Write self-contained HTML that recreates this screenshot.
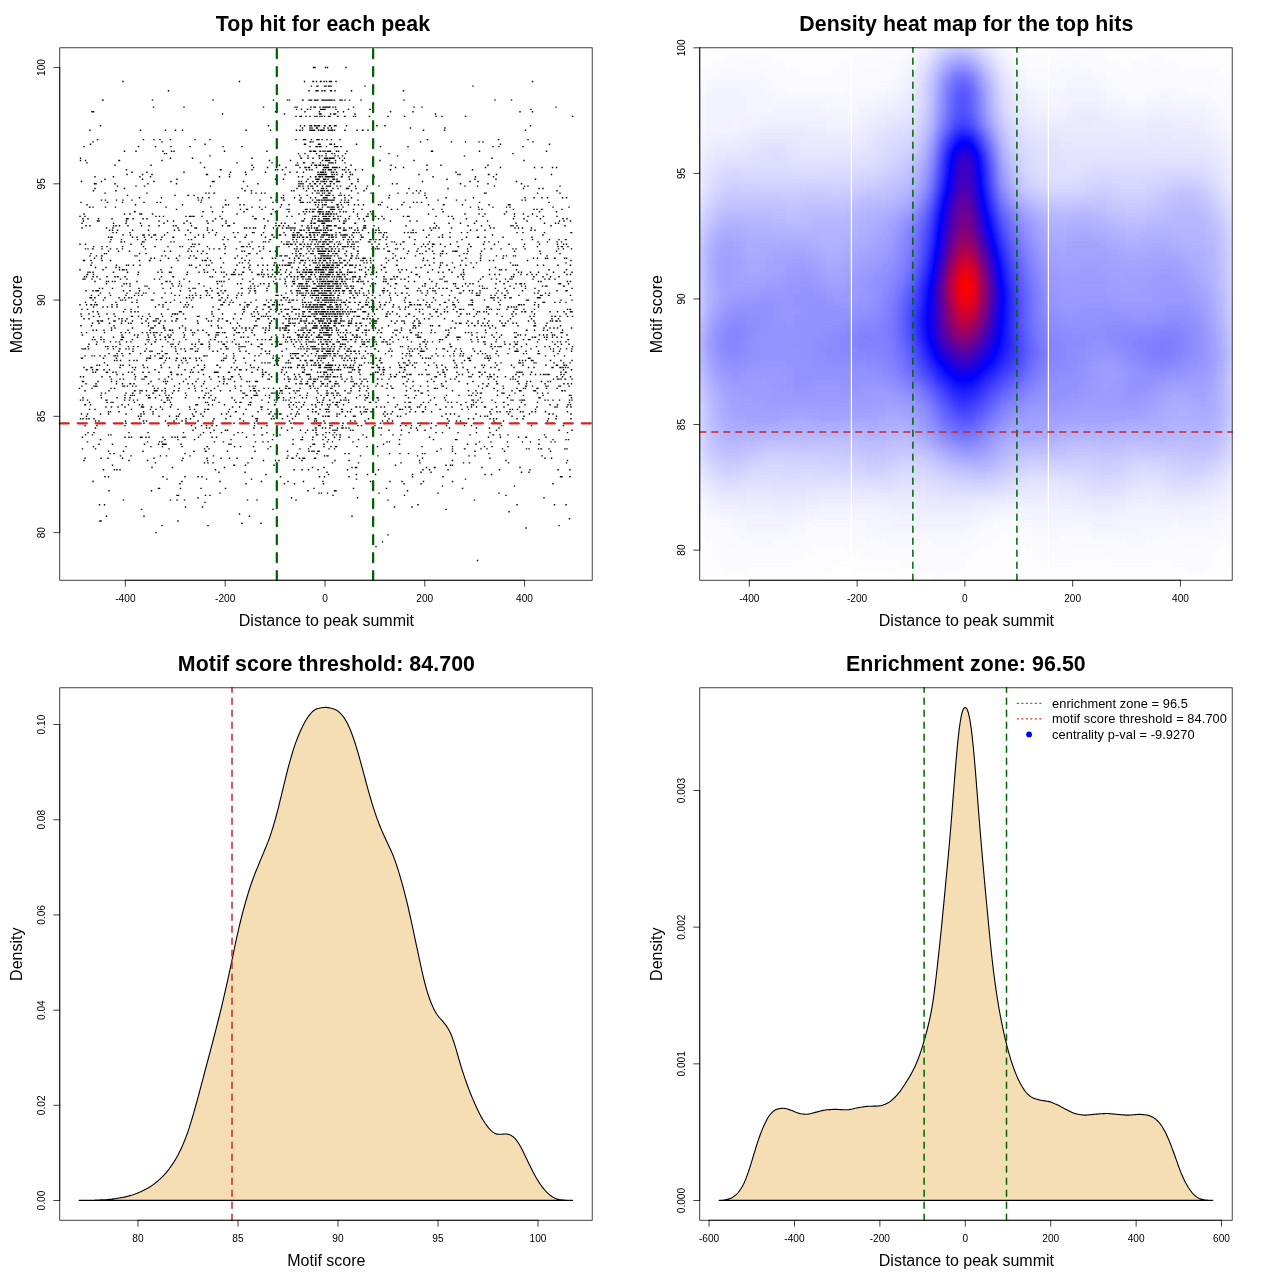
<!DOCTYPE html>
<html lang="en"><head><meta charset="utf-8"><title>Motif enrichment plots</title>
<style>html,body{margin:0;padding:0;background:#fff}body{width:1280px;height:1280px;overflow:hidden}svg{display:block;font-family:'Liberation Sans', sans-serif;fill:#000}</style></head><body>
<svg width="1280" height="1280" viewBox="0 0 1280 1280">
<rect width="1280" height="1280" fill="#fff"/>
<g id="p1">
<path d="M313.5 67.5h.01M315 67.5h.01M325.5 67.5h.01M327.5 67.5h.01M346 67.5h.01M123 81.5h.01M239.5 81.5h.01M304.5 81.5h.01M313 81.5h.01M313.5 81.5h.01M316.5 81.5h.01M320.5 81.5h.01M321 81.5h.01M324 81.5h.01M326.5 81.5h.01M329.5 81.5h.01M330 81.5h.01M331.5 81.5h.01M336 81.5h.01M532.5 81.5h.01M311.5 86.1h.01M317 86.1h.01M318 86.1h.01M324.5 86.1h.01M325 86.1h.01M326 86.1h.01M328.5 86.1h.01M329.5 86.1h.01M331 86.1h.01M365 86.1h.01M473 86.1h.01M168.5 90.8h.01M309 90.8h.01M316 90.8h.01M316.5 90.8h.01M318 90.8h.01M322 90.8h.01M324.5 90.8h.01M325 90.8h.01M330.5 90.8h.01M331.5 90.8h.01M335 90.8h.01M351.5 90.8h.01M403.5 90.8h.01M102.5 100.1h.01M103 100.1h.01M152.5 100.1h.01M213 100.1h.01M273.5 100.1h.01M287.5 100.1h.01M289.5 100.1h.01M302.5 100.1h.01M303 100.1h.01M309 100.1h.01M310 100.1h.01M311.5 100.1h.01M314.5 100.1h.01M315 100.1h.01M315.5 100.1h.01M316 100.1h.01M317.5 100.1h.01M318 100.1h.01M322 100.1h.01M322.5 100.1h.01M323 100.1h.01M323.5 100.1h.01M325 100.1h.01M326.5 100.1h.01M328 100.1h.01M328.5 100.1h.01M330 100.1h.01M331 100.1h.01M331.5 100.1h.01M332 100.1h.01M334 100.1h.01M334.5 100.1h.01M340 100.1h.01M341.5 100.1h.01M342 100.1h.01M345 100.1h.01M349.5 100.1h.01M361 100.1h.01M404 100.1h.01M495 100.1h.01M511.5 100.1h.01M153.5 107.1h.01M184 107.1h.01M263.5 107.1h.01M295 107.1h.01M297 107.1h.01M311 107.1h.01M314 107.1h.01M315 107.1h.01M315.5 107.1h.01M320 107.1h.01M323 107.1h.01M324.5 107.1h.01M325.5 107.1h.01M326.5 107.1h.01M327 107.1h.01M328 107.1h.01M329 107.1h.01M330 107.1h.01M333 107.1h.01M335.5 107.1h.01M353.5 107.1h.01M414 107.1h.01M422 107.1h.01M556 107.1h.01M296.5 109.4h.01M301.5 109.4h.01M307.5 109.4h.01M310.5 109.4h.01M320.5 109.4h.01M322 109.4h.01M323 109.4h.01M323.5 109.4h.01M325 109.4h.01M336 109.4h.01M348.5 109.4h.01M370 109.4h.01M531 109.4h.01M92 111.7h.01M93.5 111.7h.01M275.5 111.7h.01M305 111.7h.01M319.5 111.7h.01M338 111.7h.01M343.5 111.7h.01M390.5 111.7h.01M413 111.7h.01M520 111.7h.01M532.5 111.7h.01M222.5 114h.01M284.5 114h.01M319.5 114h.01M320.5 114h.01M321 114h.01M330.5 114h.01M334 114h.01M335.5 114h.01M355 114h.01M435.5 114h.01M296 116.4h.01M300 116.4h.01M301.5 116.4h.01M306 116.4h.01M310 116.4h.01M315 116.4h.01M317 116.4h.01M320 116.4h.01M322 116.4h.01M324.5 116.4h.01M328.5 116.4h.01M330 116.4h.01M337.5 116.4h.01M338 116.4h.01M344.5 116.4h.01M345 116.4h.01M353.5 116.4h.01M355.5 116.4h.01M369.5 116.4h.01M388 116.4h.01M404.5 116.4h.01M436 116.4h.01M442 116.4h.01M465.5 116.4h.01M572.5 116.4h.01M100.5 125.7h.01M268.5 125.7h.01M300.5 125.7h.01M304.5 125.7h.01M310 125.7h.01M311.5 125.7h.01M314.5 125.7h.01M316 125.7h.01M318 125.7h.01M318.5 125.7h.01M319.5 125.7h.01M324.5 125.7h.01M325 125.7h.01M329.5 125.7h.01M330.5 125.7h.01M334.5 125.7h.01M336 125.7h.01M346.5 125.7h.01M377 125.7h.01M385 125.7h.01M530.5 125.7h.01M302.5 128h.01M310 128h.01M312 128h.01M316.5 128h.01M317.5 128h.01M324 128h.01M328 128h.01M331.5 128h.01M410.5 128h.01M445 128h.01M90 130.3h.01M140.5 130.3h.01M165.5 130.3h.01M175.5 130.3h.01M182.5 130.3h.01M246 130.3h.01M270.5 130.3h.01M296.5 130.3h.01M300 130.3h.01M302.5 130.3h.01M310 130.3h.01M310.5 130.3h.01M311.5 130.3h.01M313 130.3h.01M314.5 130.3h.01M318.5 130.3h.01M320.5 130.3h.01M321.5 130.3h.01M322 130.3h.01M322.5 130.3h.01M323 130.3h.01M324 130.3h.01M328.5 130.3h.01M329 130.3h.01M331 130.3h.01M331.5 130.3h.01M332.5 130.3h.01M334.5 130.3h.01M345 130.3h.01M357 130.3h.01M362.5 130.3h.01M363 130.3h.01M368 130.3h.01M423.5 130.3h.01M444.5 130.3h.01M525.5 130.3h.01M97.5 139.6h.01M143.5 139.6h.01M154 139.6h.01M160 139.6h.01M170.5 139.6h.01M195 139.6h.01M210 139.6h.01M296 139.6h.01M303.5 139.6h.01M304.5 139.6h.01M305.5 139.6h.01M311.5 139.6h.01M317 139.6h.01M317.5 139.6h.01M318.5 139.6h.01M319 139.6h.01M322 139.6h.01M327 139.6h.01M331.5 139.6h.01M340 139.6h.01M427.5 139.6h.01M498.5 139.6h.01M528 139.6h.01M93 141.9h.01M162 141.9h.01M310 141.9h.01M311 141.9h.01M313 141.9h.01M420.5 141.9h.01M451.5 141.9h.01M465.5 141.9h.01M479 141.9h.01M483 141.9h.01M533 141.9h.01M90.5 144.3h.01M205 144.3h.01M304.5 144.3h.01M305.5 144.3h.01M318.5 144.3h.01M319.5 144.3h.01M320 144.3h.01M330 144.3h.01M331.5 144.3h.01M334.5 144.3h.01M356.5 144.3h.01M500.5 144.3h.01M549.5 144.3h.01M84 146.6h.01M138.5 146.6h.01M155.5 146.6h.01M171 146.6h.01M190 146.6h.01M223 146.6h.01M242 146.6h.01M310 146.6h.01M316 146.6h.01M316.5 146.6h.01M317 146.6h.01M317.5 146.6h.01M319.5 146.6h.01M320.5 146.6h.01M321 146.6h.01M326.5 146.6h.01M334.5 146.6h.01M335.5 146.6h.01M337 146.6h.01M337.5 146.6h.01M341 146.6h.01M380.5 146.6h.01M408 146.6h.01M493 146.6h.01M499 146.6h.01M523 146.6h.01M124.5 151.2h.01M136 151.2h.01M163 151.2h.01M171.5 151.2h.01M174 151.2h.01M224.5 151.2h.01M267 151.2h.01M310 151.2h.01M311 151.2h.01M313.5 151.2h.01M314.5 151.2h.01M315.5 151.2h.01M320 151.2h.01M320.5 151.2h.01M323 151.2h.01M325 151.2h.01M327.5 151.2h.01M329 151.2h.01M330.5 151.2h.01M336.5 151.2h.01M338.5 151.2h.01M347 151.2h.01M431.5 151.2h.01M432.5 151.2h.01M479.5 151.2h.01M546.5 151.2h.01M164.5 153.6h.01M166.5 153.6h.01M298.5 153.6h.01M305 153.6h.01M316.5 153.6h.01M326 153.6h.01M332 153.6h.01M334.5 153.6h.01M345.5 153.6h.01M389 153.6h.01M513 153.6h.01M210 155.9h.01M300 155.9h.01M308 155.9h.01M319 155.9h.01M319.5 155.9h.01M322 155.9h.01M326 155.9h.01M335 155.9h.01M338 155.9h.01M342.5 155.9h.01M397.5 155.9h.01M464.5 155.9h.01M80.5 158.2h.01M170.5 158.2h.01M192.5 158.2h.01M252 158.2h.01M301 158.2h.01M301.5 158.2h.01M308 158.2h.01M313 158.2h.01M319.5 158.2h.01M324.5 158.2h.01M325 158.2h.01M326.5 158.2h.01M327 158.2h.01M327.5 158.2h.01M329.5 158.2h.01M330 158.2h.01M331 158.2h.01M332.5 158.2h.01M334 158.2h.01M339.5 158.2h.01M344.5 158.2h.01M492 158.2h.01M80.5 160.5h.01M85.5 160.5h.01M119 160.5h.01M119.5 160.5h.01M162 160.5h.01M269.5 160.5h.01M290.5 160.5h.01M322.5 160.5h.01M325.5 160.5h.01M326.5 160.5h.01M328 160.5h.01M329.5 160.5h.01M335.5 160.5h.01M342.5 160.5h.01M380 160.5h.01M414 160.5h.01M524 160.5h.01M87 162.9h.01M200.5 162.9h.01M237 162.9h.01M272 162.9h.01M297.5 162.9h.01M303.5 162.9h.01M304.5 162.9h.01M312.5 162.9h.01M313.5 162.9h.01M320.5 162.9h.01M329 162.9h.01M329.5 162.9h.01M331 162.9h.01M332 162.9h.01M333 162.9h.01M335.5 162.9h.01M345 162.9h.01M115 165.2h.01M151 165.2h.01M252 165.2h.01M279.5 165.2h.01M296 165.2h.01M298 165.2h.01M311.5 165.2h.01M315 165.2h.01M316.5 165.2h.01M319 165.2h.01M320.5 165.2h.01M323 165.2h.01M323.5 165.2h.01M325.5 165.2h.01M328 165.2h.01M351 165.2h.01M391 165.2h.01M427 165.2h.01M441 165.2h.01M488 165.2h.01M204.5 167.5h.01M253.5 167.5h.01M267.5 167.5h.01M276.5 167.5h.01M286 167.5h.01M300 167.5h.01M305 167.5h.01M306 167.5h.01M308.5 167.5h.01M309.5 167.5h.01M316.5 167.5h.01M324 167.5h.01M325 167.5h.01M326 167.5h.01M327 167.5h.01M327.5 167.5h.01M328.5 167.5h.01M332.5 167.5h.01M333 167.5h.01M334.5 167.5h.01M336 167.5h.01M337 167.5h.01M339.5 167.5h.01M346 167.5h.01M395.5 167.5h.01M403.5 167.5h.01M485.5 167.5h.01M500.5 167.5h.01M534.5 167.5h.01M542 167.5h.01M552.5 167.5h.01M556.5 167.5h.01M126.5 169.8h.01M220.5 169.8h.01M221 169.8h.01M252 169.8h.01M275.5 169.8h.01M277.5 169.8h.01M282.5 169.8h.01M306.5 169.8h.01M309.5 169.8h.01M312 169.8h.01M323 169.8h.01M323.5 169.8h.01M325.5 169.8h.01M328.5 169.8h.01M329 169.8h.01M330.5 169.8h.01M331.5 169.8h.01M335 169.8h.01M342.5 169.8h.01M344.5 169.8h.01M348.5 169.8h.01M355.5 169.8h.01M362.5 169.8h.01M390.5 169.8h.01M427 169.8h.01M472.5 169.8h.01M132 172.2h.01M147 172.2h.01M184 172.2h.01M230.5 172.2h.01M245.5 172.2h.01M265.5 172.2h.01M290 172.2h.01M297 172.2h.01M303.5 172.2h.01M318 172.2h.01M320.5 172.2h.01M322 172.2h.01M323 172.2h.01M323.5 172.2h.01M325.5 172.2h.01M331.5 172.2h.01M333.5 172.2h.01M336.5 172.2h.01M346 172.2h.01M350 172.2h.01M456 172.2h.01M127 174.5h.01M142.5 174.5h.01M152 174.5h.01M206.5 174.5h.01M207.5 174.5h.01M229.5 174.5h.01M246 174.5h.01M285 174.5h.01M318 174.5h.01M318.5 174.5h.01M319.5 174.5h.01M321 174.5h.01M321.5 174.5h.01M322 174.5h.01M322.5 174.5h.01M323 174.5h.01M324.5 174.5h.01M325.5 174.5h.01M326.5 174.5h.01M332 174.5h.01M332.5 174.5h.01M334.5 174.5h.01M337 174.5h.01M342.5 174.5h.01M350.5 174.5h.01M352.5 174.5h.01M419 174.5h.01M458 174.5h.01M460 174.5h.01M488.5 174.5h.01M489 174.5h.01M496.5 174.5h.01M551.5 174.5h.01M95 176.8h.01M113.5 176.8h.01M140 176.8h.01M150.5 176.8h.01M219.5 176.8h.01M229.5 176.8h.01M298.5 176.8h.01M302.5 176.8h.01M310.5 176.8h.01M315.5 176.8h.01M316 176.8h.01M319 176.8h.01M319.5 176.8h.01M320.5 176.8h.01M322.5 176.8h.01M325.5 176.8h.01M327 176.8h.01M327.5 176.8h.01M328 176.8h.01M328.5 176.8h.01M329.5 176.8h.01M330 176.8h.01M331.5 176.8h.01M332.5 176.8h.01M333 176.8h.01M334 176.8h.01M341.5 176.8h.01M342 176.8h.01M349 176.8h.01M374 176.8h.01M433 176.8h.01M475.5 176.8h.01M493.5 176.8h.01M105 179.2h.01M142.5 179.2h.01M177 179.2h.01M275.5 179.2h.01M283.5 179.2h.01M308 179.2h.01M316 179.2h.01M317.5 179.2h.01M318 179.2h.01M319 179.2h.01M323.5 179.2h.01M324.5 179.2h.01M325.5 179.2h.01M328 179.2h.01M333 179.2h.01M334.5 179.2h.01M337 179.2h.01M349.5 179.2h.01M358 179.2h.01M447 179.2h.01M475 179.2h.01M496 179.2h.01M535.5 179.2h.01M81.5 181.5h.01M101.5 181.5h.01M154 181.5h.01M171 181.5h.01M212.5 181.5h.01M214 181.5h.01M243.5 181.5h.01M299 181.5h.01M301.5 181.5h.01M306.5 181.5h.01M313 181.5h.01M317 181.5h.01M318 181.5h.01M321 181.5h.01M323 181.5h.01M324 181.5h.01M324.5 181.5h.01M326.5 181.5h.01M330 181.5h.01M330.5 181.5h.01M332 181.5h.01M336.5 181.5h.01M337 181.5h.01M338 181.5h.01M338.5 181.5h.01M339.5 181.5h.01M358 181.5h.01M422.5 181.5h.01M470 181.5h.01M478 181.5h.01M516.5 181.5h.01M94.5 183.8h.01M96 183.8h.01M115 183.8h.01M148 183.8h.01M176.5 183.8h.01M258 183.8h.01M299 183.8h.01M301 183.8h.01M303 183.8h.01M310 183.8h.01M314.5 183.8h.01M315.5 183.8h.01M320 183.8h.01M324.5 183.8h.01M325 183.8h.01M330.5 183.8h.01M334 183.8h.01M351.5 183.8h.01M352 183.8h.01M392.5 183.8h.01M397 183.8h.01M460.5 183.8h.01M488 183.8h.01M521.5 183.8h.01M117.5 186.1h.01M136 186.1h.01M144.5 186.1h.01M210.5 186.1h.01M247.5 186.1h.01M298.5 186.1h.01M300 186.1h.01M303 186.1h.01M308 186.1h.01M311 186.1h.01M312.5 186.1h.01M317 186.1h.01M317.5 186.1h.01M322.5 186.1h.01M326.5 186.1h.01M328 186.1h.01M328.5 186.1h.01M329 186.1h.01M329.5 186.1h.01M330 186.1h.01M330.5 186.1h.01M337 186.1h.01M340.5 186.1h.01M349.5 186.1h.01M355.5 186.1h.01M367.5 186.1h.01M379 186.1h.01M465 186.1h.01M477.5 186.1h.01M494.5 186.1h.01M524.5 186.1h.01M528 186.1h.01M560 186.1h.01M95 188.5h.01M124.5 188.5h.01M242 188.5h.01M297 188.5h.01M303.5 188.5h.01M308.5 188.5h.01M313 188.5h.01M321.5 188.5h.01M322.5 188.5h.01M323.5 188.5h.01M326.5 188.5h.01M333 188.5h.01M338 188.5h.01M346.5 188.5h.01M347 188.5h.01M348.5 188.5h.01M356 188.5h.01M366.5 188.5h.01M409 188.5h.01M448 188.5h.01M523.5 188.5h.01M539 188.5h.01M543 188.5h.01M93.5 190.8h.01M116 190.8h.01M245 190.8h.01M251.5 190.8h.01M291.5 190.8h.01M294 190.8h.01M306.5 190.8h.01M315 190.8h.01M318 190.8h.01M321 190.8h.01M322.5 190.8h.01M324.5 190.8h.01M327 190.8h.01M328 190.8h.01M331 190.8h.01M331.5 190.8h.01M351.5 190.8h.01M364 190.8h.01M416.5 190.8h.01M420.5 190.8h.01M557 190.8h.01M105 193.1h.01M147 193.1h.01M206 193.1h.01M209 193.1h.01M214 193.1h.01M214.5 193.1h.01M251.5 193.1h.01M256 193.1h.01M261.5 193.1h.01M265 193.1h.01M312.5 193.1h.01M317 193.1h.01M319 193.1h.01M322.5 193.1h.01M324.5 193.1h.01M328.5 193.1h.01M329 193.1h.01M330 193.1h.01M340.5 193.1h.01M358 193.1h.01M371 193.1h.01M398 193.1h.01M407 193.1h.01M413 193.1h.01M419 193.1h.01M425 193.1h.01M484.5 193.1h.01M486 193.1h.01M537.5 193.1h.01M560 193.1h.01M127.5 195.4h.01M175 195.4h.01M188 195.4h.01M188.5 195.4h.01M194 195.4h.01M283.5 195.4h.01M299.5 195.4h.01M307 195.4h.01M321 195.4h.01M322 195.4h.01M326 195.4h.01M327.5 195.4h.01M329 195.4h.01M329.5 195.4h.01M333 195.4h.01M339 195.4h.01M341 195.4h.01M344.5 195.4h.01M349 195.4h.01M389.5 195.4h.01M425 195.4h.01M139.5 197.8h.01M161.5 197.8h.01M198 197.8h.01M202.5 197.8h.01M209 197.8h.01M238 197.8h.01M271 197.8h.01M281.5 197.8h.01M283.5 197.8h.01M294.5 197.8h.01M301 197.8h.01M310.5 197.8h.01M315.5 197.8h.01M323.5 197.8h.01M324.5 197.8h.01M325 197.8h.01M325.5 197.8h.01M327 197.8h.01M334 197.8h.01M334.5 197.8h.01M345 197.8h.01M351.5 197.8h.01M389 197.8h.01M426.5 197.8h.01M446 197.8h.01M473.5 197.8h.01M525 197.8h.01M534 197.8h.01M542 197.8h.01M547.5 197.8h.01M562.5 197.8h.01M566.5 197.8h.01M101.5 200.1h.01M105.5 200.1h.01M116.5 200.1h.01M123 200.1h.01M132 200.1h.01M198.5 200.1h.01M201.5 200.1h.01M225.5 200.1h.01M260 200.1h.01M276 200.1h.01M277 200.1h.01M283.5 200.1h.01M284 200.1h.01M299.5 200.1h.01M300.5 200.1h.01M312.5 200.1h.01M317 200.1h.01M318.5 200.1h.01M319.5 200.1h.01M321.5 200.1h.01M323 200.1h.01M324.5 200.1h.01M325.5 200.1h.01M326.5 200.1h.01M327.5 200.1h.01M328.5 200.1h.01M330 200.1h.01M331 200.1h.01M331.5 200.1h.01M333 200.1h.01M334 200.1h.01M341.5 200.1h.01M345 200.1h.01M348.5 200.1h.01M358 200.1h.01M438 200.1h.01M456.5 200.1h.01M465.5 200.1h.01M522 200.1h.01M525.5 200.1h.01M81 202.4h.01M107.5 202.4h.01M122.5 202.4h.01M144 202.4h.01M157 202.4h.01M160.5 202.4h.01M201 202.4h.01M273 202.4h.01M300.5 202.4h.01M302 202.4h.01M303.5 202.4h.01M307.5 202.4h.01M310 202.4h.01M314.5 202.4h.01M316 202.4h.01M319 202.4h.01M322 202.4h.01M326 202.4h.01M332 202.4h.01M340.5 202.4h.01M344.5 202.4h.01M347 202.4h.01M348.5 202.4h.01M382 202.4h.01M404 202.4h.01M413.5 202.4h.01M417 202.4h.01M421.5 202.4h.01M479.5 202.4h.01M549 202.4h.01M87 204.7h.01M135.5 204.7h.01M182.5 204.7h.01M225.5 204.7h.01M226 204.7h.01M228.5 204.7h.01M240 204.7h.01M244 204.7h.01M281.5 204.7h.01M289 204.7h.01M315.5 204.7h.01M318.5 204.7h.01M322.5 204.7h.01M324.5 204.7h.01M326 204.7h.01M337 204.7h.01M338 204.7h.01M341.5 204.7h.01M348.5 204.7h.01M354.5 204.7h.01M358.5 204.7h.01M363.5 204.7h.01M378.5 204.7h.01M380.5 204.7h.01M402 204.7h.01M428.5 204.7h.01M443.5 204.7h.01M444 204.7h.01M462.5 204.7h.01M489 204.7h.01M508.5 204.7h.01M510 204.7h.01M89.5 207.1h.01M90 207.1h.01M93 207.1h.01M105.5 207.1h.01M115.5 207.1h.01M166 207.1h.01M211 207.1h.01M223 207.1h.01M252 207.1h.01M259.5 207.1h.01M265.5 207.1h.01M280.5 207.1h.01M317.5 207.1h.01M318 207.1h.01M322.5 207.1h.01M327.5 207.1h.01M329 207.1h.01M331 207.1h.01M332 207.1h.01M333 207.1h.01M333.5 207.1h.01M334 207.1h.01M337.5 207.1h.01M338.5 207.1h.01M343 207.1h.01M387.5 207.1h.01M410 207.1h.01M470.5 207.1h.01M478.5 207.1h.01M493 207.1h.01M506.5 207.1h.01M510 207.1h.01M553 207.1h.01M569 207.1h.01M176.5 209.4h.01M240.5 209.4h.01M246.5 209.4h.01M247.5 209.4h.01M262 209.4h.01M273 209.4h.01M287 209.4h.01M289 209.4h.01M305.5 209.4h.01M307 209.4h.01M310.5 209.4h.01M313 209.4h.01M315 209.4h.01M319 209.4h.01M320.5 209.4h.01M322 209.4h.01M330.5 209.4h.01M331 209.4h.01M331.5 209.4h.01M333 209.4h.01M334.5 209.4h.01M339 209.4h.01M341.5 209.4h.01M353.5 209.4h.01M362 209.4h.01M391.5 209.4h.01M397.5 209.4h.01M433 209.4h.01M442 209.4h.01M479 209.4h.01M482 209.4h.01M513.5 209.4h.01M534 209.4h.01M537 209.4h.01M541.5 209.4h.01M542 209.4h.01M562 209.4h.01M134.5 211.7h.01M135 211.7h.01M203 211.7h.01M212.5 211.7h.01M222.5 211.7h.01M244 211.7h.01M275.5 211.7h.01M289 211.7h.01M303.5 211.7h.01M306.5 211.7h.01M309.5 211.7h.01M312.5 211.7h.01M313.5 211.7h.01M318 211.7h.01M319 211.7h.01M320 211.7h.01M321 211.7h.01M323 211.7h.01M326.5 211.7h.01M328.5 211.7h.01M329.5 211.7h.01M332.5 211.7h.01M340 211.7h.01M343.5 211.7h.01M346 211.7h.01M353.5 211.7h.01M370.5 211.7h.01M443 211.7h.01M506.5 211.7h.01M539.5 211.7h.01M556.5 211.7h.01M84 214h.01M124.5 214h.01M130 214h.01M140 214h.01M141.5 214h.01M152.5 214h.01M237 214h.01M271 214h.01M271.5 214h.01M299 214h.01M305 214h.01M319.5 214h.01M320 214h.01M322.5 214h.01M323.5 214h.01M326 214h.01M326.5 214h.01M327 214h.01M328 214h.01M328.5 214h.01M330.5 214h.01M331.5 214h.01M334 214h.01M336.5 214h.01M357.5 214h.01M368 214h.01M372 214h.01M428.5 214h.01M465 214h.01M479 214h.01M485 214h.01M504.5 214h.01M514.5 214h.01M523.5 214h.01M532.5 214h.01M80 216.4h.01M85 216.4h.01M156 216.4h.01M159.5 216.4h.01M163.5 216.4h.01M186 216.4h.01M189.5 216.4h.01M190.5 216.4h.01M191 216.4h.01M193 216.4h.01M194 216.4h.01M202 216.4h.01M220 216.4h.01M253 216.4h.01M277 216.4h.01M287 216.4h.01M292 216.4h.01M313 216.4h.01M315 216.4h.01M315.5 216.4h.01M316 216.4h.01M318.5 216.4h.01M323 216.4h.01M324 216.4h.01M325.5 216.4h.01M326.5 216.4h.01M329 216.4h.01M330 216.4h.01M333.5 216.4h.01M338 216.4h.01M340.5 216.4h.01M349.5 216.4h.01M357.5 216.4h.01M366.5 216.4h.01M368 216.4h.01M373.5 216.4h.01M375.5 216.4h.01M382 216.4h.01M403.5 216.4h.01M407.5 216.4h.01M409 216.4h.01M436 216.4h.01M448.5 216.4h.01M452 216.4h.01M483 216.4h.01M514.5 216.4h.01M528 216.4h.01M537 216.4h.01M543.5 216.4h.01M557 216.4h.01M83 218.7h.01M88 218.7h.01M98.5 218.7h.01M112 218.7h.01M126.5 218.7h.01M127.5 218.7h.01M128 218.7h.01M133 218.7h.01M143 218.7h.01M147 218.7h.01M215.5 218.7h.01M222 218.7h.01M255 218.7h.01M256 218.7h.01M264 218.7h.01M304.5 218.7h.01M312.5 218.7h.01M315 218.7h.01M319 218.7h.01M323.5 218.7h.01M325 218.7h.01M326.5 218.7h.01M328 218.7h.01M329 218.7h.01M333.5 218.7h.01M335 218.7h.01M338 218.7h.01M345.5 218.7h.01M349 218.7h.01M359 218.7h.01M363.5 218.7h.01M373.5 218.7h.01M378.5 218.7h.01M384 218.7h.01M453.5 218.7h.01M466.5 218.7h.01M513.5 218.7h.01M524 218.7h.01M540.5 218.7h.01M563 218.7h.01M567 218.7h.01M83.5 221h.01M97.5 221h.01M99 221h.01M126.5 221h.01M159 221h.01M167.5 221h.01M173.5 221h.01M187 221h.01M207 221h.01M213 221h.01M226 221h.01M268 221h.01M302 221h.01M303.5 221h.01M311.5 221h.01M318 221h.01M319.5 221h.01M321 221h.01M322 221h.01M323 221h.01M325 221h.01M326.5 221h.01M327.5 221h.01M328 221h.01M328.5 221h.01M329.5 221h.01M331.5 221h.01M339.5 221h.01M344 221h.01M346 221h.01M364.5 221h.01M390.5 221h.01M410 221h.01M417 221h.01M476.5 221h.01M487.5 221h.01M527 221h.01M559.5 221h.01M564 221h.01M570.5 221h.01M82 223.3h.01M113.5 223.3h.01M126 223.3h.01M140.5 223.3h.01M164 223.3h.01M184 223.3h.01M190.5 223.3h.01M208 223.3h.01M226 223.3h.01M234 223.3h.01M276 223.3h.01M281.5 223.3h.01M285 223.3h.01M295 223.3h.01M311 223.3h.01M311.5 223.3h.01M314 223.3h.01M315 223.3h.01M322 223.3h.01M322.5 223.3h.01M323.5 223.3h.01M324.5 223.3h.01M343.5 223.3h.01M344.5 223.3h.01M355 223.3h.01M355.5 223.3h.01M434.5 223.3h.01M449 223.3h.01M460.5 223.3h.01M474.5 223.3h.01M516 223.3h.01M544.5 223.3h.01M555.5 223.3h.01M558.5 223.3h.01M86 225.7h.01M90 225.7h.01M113.5 225.7h.01M116 225.7h.01M119.5 225.7h.01M128 225.7h.01M141.5 225.7h.01M149 225.7h.01M159 225.7h.01M173.5 225.7h.01M176 225.7h.01M191.5 225.7h.01M222.5 225.7h.01M228 225.7h.01M229.5 225.7h.01M265 225.7h.01M276 225.7h.01M279 225.7h.01M279.5 225.7h.01M283.5 225.7h.01M288.5 225.7h.01M302 225.7h.01M308 225.7h.01M311.5 225.7h.01M319 225.7h.01M323.5 225.7h.01M327 225.7h.01M328 225.7h.01M328.5 225.7h.01M329.5 225.7h.01M330 225.7h.01M331 225.7h.01M334.5 225.7h.01M335.5 225.7h.01M336 225.7h.01M364 225.7h.01M365.5 225.7h.01M374 225.7h.01M406 225.7h.01M436.5 225.7h.01M468 225.7h.01M481.5 225.7h.01M489.5 225.7h.01M511 225.7h.01M513 225.7h.01M517 225.7h.01M551 225.7h.01M565 225.7h.01M82 228h.01M106.5 228h.01M113 228h.01M178 228h.01M195 228h.01M196.5 228h.01M207.5 228h.01M244.5 228h.01M246.5 228h.01M250 228h.01M253.5 228h.01M255.5 228h.01M264.5 228h.01M273.5 228h.01M277.5 228h.01M282.5 228h.01M286.5 228h.01M287 228h.01M289 228h.01M291 228h.01M293 228h.01M295 228h.01M307 228h.01M309 228h.01M311.5 228h.01M314.5 228h.01M316.5 228h.01M317 228h.01M317.5 228h.01M324 228h.01M326.5 228h.01M327.5 228h.01M338.5 228h.01M339 228h.01M340.5 228h.01M344 228h.01M349.5 228h.01M351.5 228h.01M357.5 228h.01M363.5 228h.01M364.5 228h.01M365.5 228h.01M378.5 228h.01M430 228h.01M433.5 228h.01M435.5 228h.01M439 228h.01M451.5 228h.01M490.5 228h.01M494 228h.01M515 228h.01M518.5 228h.01M522.5 228h.01M531.5 228h.01M109.5 230.3h.01M112.5 230.3h.01M117.5 230.3h.01M132.5 230.3h.01M148.5 230.3h.01M174.5 230.3h.01M179 230.3h.01M188 230.3h.01M207.5 230.3h.01M212.5 230.3h.01M291 230.3h.01M294.5 230.3h.01M300 230.3h.01M301.5 230.3h.01M304 230.3h.01M308.5 230.3h.01M309 230.3h.01M316 230.3h.01M317 230.3h.01M318 230.3h.01M320 230.3h.01M321 230.3h.01M323.5 230.3h.01M325.5 230.3h.01M328 230.3h.01M330.5 230.3h.01M331.5 230.3h.01M343.5 230.3h.01M344.5 230.3h.01M346 230.3h.01M355 230.3h.01M358 230.3h.01M362.5 230.3h.01M376 230.3h.01M379 230.3h.01M413 230.3h.01M423.5 230.3h.01M431.5 230.3h.01M470.5 230.3h.01M477 230.3h.01M485 230.3h.01M531 230.3h.01M535 230.3h.01M113 232.6h.01M116.5 232.6h.01M130 232.6h.01M167.5 232.6h.01M190.5 232.6h.01M209 232.6h.01M216.5 232.6h.01M233.5 232.6h.01M238 232.6h.01M252.5 232.6h.01M254 232.6h.01M263.5 232.6h.01M284 232.6h.01M293.5 232.6h.01M297 232.6h.01M298 232.6h.01M299 232.6h.01M306.5 232.6h.01M309.5 232.6h.01M310 232.6h.01M310.5 232.6h.01M312.5 232.6h.01M313.5 232.6h.01M315 232.6h.01M317 232.6h.01M319 232.6h.01M319.5 232.6h.01M323.5 232.6h.01M325 232.6h.01M325.5 232.6h.01M326.5 232.6h.01M327 232.6h.01M336 232.6h.01M339.5 232.6h.01M340 232.6h.01M353 232.6h.01M354 232.6h.01M356.5 232.6h.01M359 232.6h.01M368.5 232.6h.01M375.5 232.6h.01M379 232.6h.01M381 232.6h.01M384.5 232.6h.01M386.5 232.6h.01M404.5 232.6h.01M408 232.6h.01M411 232.6h.01M413 232.6h.01M413.5 232.6h.01M416 232.6h.01M450 232.6h.01M461.5 232.6h.01M467.5 232.6h.01M517 232.6h.01M523 232.6h.01M544.5 232.6h.01M571 232.6h.01M571.5 232.6h.01M123 235h.01M130.5 235h.01M143 235h.01M144 235h.01M149 235h.01M154 235h.01M155.5 235h.01M164.5 235h.01M185.5 235h.01M198.5 235h.01M203.5 235h.01M215.5 235h.01M246.5 235h.01M261.5 235h.01M272 235h.01M272.5 235h.01M279.5 235h.01M280.5 235h.01M285.5 235h.01M292.5 235h.01M293.5 235h.01M295 235h.01M297.5 235h.01M300.5 235h.01M301.5 235h.01M309.5 235h.01M310.5 235h.01M314 235h.01M314.5 235h.01M317.5 235h.01M322 235h.01M323 235h.01M323.5 235h.01M324.5 235h.01M326.5 235h.01M328 235h.01M329.5 235h.01M331.5 235h.01M332 235h.01M332.5 235h.01M336 235h.01M341 235h.01M343 235h.01M344.5 235h.01M345 235h.01M345.5 235h.01M347 235h.01M352 235h.01M361 235h.01M383.5 235h.01M429 235h.01M442.5 235h.01M492.5 235h.01M543 235h.01M108.5 237.3h.01M111 237.3h.01M112 237.3h.01M132.5 237.3h.01M137 237.3h.01M144.5 237.3h.01M151.5 237.3h.01M162 237.3h.01M173 237.3h.01M173.5 237.3h.01M195 237.3h.01M203.5 237.3h.01M224.5 237.3h.01M235 237.3h.01M245 237.3h.01M245.5 237.3h.01M265.5 237.3h.01M274 237.3h.01M293 237.3h.01M294 237.3h.01M294.5 237.3h.01M297.5 237.3h.01M299.5 237.3h.01M302.5 237.3h.01M303.5 237.3h.01M306.5 237.3h.01M307.5 237.3h.01M310.5 237.3h.01M311 237.3h.01M314.5 237.3h.01M321 237.3h.01M323 237.3h.01M329 237.3h.01M331.5 237.3h.01M332 237.3h.01M333 237.3h.01M336 237.3h.01M343 237.3h.01M345 237.3h.01M349.5 237.3h.01M353.5 237.3h.01M361.5 237.3h.01M363 237.3h.01M383 237.3h.01M387 237.3h.01M409.5 237.3h.01M426.5 237.3h.01M439 237.3h.01M442.5 237.3h.01M450 237.3h.01M466.5 237.3h.01M477.5 237.3h.01M478.5 237.3h.01M485 237.3h.01M503 237.3h.01M532 237.3h.01M111 239.6h.01M121.5 239.6h.01M137.5 239.6h.01M145.5 239.6h.01M156.5 239.6h.01M161 239.6h.01M188.5 239.6h.01M191.5 239.6h.01M223 239.6h.01M228 239.6h.01M270 239.6h.01M270.5 239.6h.01M293 239.6h.01M296.5 239.6h.01M303.5 239.6h.01M310 239.6h.01M312.5 239.6h.01M314 239.6h.01M314.5 239.6h.01M316 239.6h.01M317 239.6h.01M321 239.6h.01M325.5 239.6h.01M326 239.6h.01M326.5 239.6h.01M327.5 239.6h.01M329 239.6h.01M333 239.6h.01M343.5 239.6h.01M348 239.6h.01M348.5 239.6h.01M351.5 239.6h.01M360.5 239.6h.01M370 239.6h.01M371 239.6h.01M373.5 239.6h.01M376 239.6h.01M379.5 239.6h.01M380 239.6h.01M386 239.6h.01M415 239.6h.01M462 239.6h.01M522 239.6h.01M532.5 239.6h.01M549.5 239.6h.01M559 239.6h.01M565.5 239.6h.01M566 239.6h.01M110 241.9h.01M121 241.9h.01M121.5 241.9h.01M124.5 241.9h.01M142.5 241.9h.01M144 241.9h.01M171 241.9h.01M174 241.9h.01M240 241.9h.01M252 241.9h.01M263.5 241.9h.01M265.5 241.9h.01M269 241.9h.01M281.5 241.9h.01M287 241.9h.01M289 241.9h.01M294 241.9h.01M297 241.9h.01M303 241.9h.01M312 241.9h.01M316.5 241.9h.01M319 241.9h.01M320.5 241.9h.01M323 241.9h.01M324 241.9h.01M325 241.9h.01M325.5 241.9h.01M326 241.9h.01M329.5 241.9h.01M330.5 241.9h.01M332 241.9h.01M337 241.9h.01M339.5 241.9h.01M347.5 241.9h.01M349.5 241.9h.01M353 241.9h.01M356 241.9h.01M358 241.9h.01M368.5 241.9h.01M370 241.9h.01M375 241.9h.01M392 241.9h.01M394.5 241.9h.01M403 241.9h.01M403.5 241.9h.01M404 241.9h.01M429.5 241.9h.01M457 241.9h.01M484.5 241.9h.01M489 241.9h.01M498.5 241.9h.01M538 241.9h.01M547.5 241.9h.01M557 241.9h.01M561.5 241.9h.01M80 244.3h.01M85.5 244.3h.01M131 244.3h.01M141.5 244.3h.01M192.5 244.3h.01M195 244.3h.01M199 244.3h.01M224 244.3h.01M249 244.3h.01M284 244.3h.01M286.5 244.3h.01M288 244.3h.01M290.5 244.3h.01M292 244.3h.01M295.5 244.3h.01M300 244.3h.01M301 244.3h.01M304.5 244.3h.01M308 244.3h.01M311 244.3h.01M315 244.3h.01M318 244.3h.01M322.5 244.3h.01M324 244.3h.01M327 244.3h.01M328 244.3h.01M328.5 244.3h.01M334.5 244.3h.01M338.5 244.3h.01M340.5 244.3h.01M348 244.3h.01M352 244.3h.01M354 244.3h.01M372 244.3h.01M379 244.3h.01M386.5 244.3h.01M396.5 244.3h.01M400.5 244.3h.01M414.5 244.3h.01M423.5 244.3h.01M428 244.3h.01M432.5 244.3h.01M433 244.3h.01M434 244.3h.01M440.5 244.3h.01M450.5 244.3h.01M469 244.3h.01M483.5 244.3h.01M494.5 244.3h.01M509 244.3h.01M524.5 244.3h.01M539.5 244.3h.01M557.5 244.3h.01M563.5 244.3h.01M566.5 244.3h.01M93.5 246.6h.01M102 246.6h.01M107 246.6h.01M122.5 246.6h.01M143.5 246.6h.01M155 246.6h.01M168 246.6h.01M180 246.6h.01M182.5 246.6h.01M191 246.6h.01M191.5 246.6h.01M194 246.6h.01M207.5 246.6h.01M225.5 246.6h.01M241.5 246.6h.01M242 246.6h.01M243.5 246.6h.01M247 246.6h.01M250 246.6h.01M259 246.6h.01M263.5 246.6h.01M277 246.6h.01M279 246.6h.01M289 246.6h.01M297 246.6h.01M303.5 246.6h.01M307 246.6h.01M309 246.6h.01M310 246.6h.01M316 246.6h.01M318 246.6h.01M320 246.6h.01M320.5 246.6h.01M321.5 246.6h.01M323 246.6h.01M323.5 246.6h.01M324 246.6h.01M329.5 246.6h.01M331 246.6h.01M334 246.6h.01M337.5 246.6h.01M342.5 246.6h.01M344 246.6h.01M345.5 246.6h.01M347.5 246.6h.01M348 246.6h.01M351 246.6h.01M351.5 246.6h.01M354 246.6h.01M358 246.6h.01M372.5 246.6h.01M377 246.6h.01M387.5 246.6h.01M421.5 246.6h.01M425.5 246.6h.01M432.5 246.6h.01M445 246.6h.01M458 246.6h.01M458.5 246.6h.01M470.5 246.6h.01M471 246.6h.01M523.5 246.6h.01M537.5 246.6h.01M558 246.6h.01M561.5 246.6h.01M562.5 246.6h.01M568 246.6h.01M85.5 248.9h.01M88 248.9h.01M92.5 248.9h.01M93 248.9h.01M102 248.9h.01M110.5 248.9h.01M117 248.9h.01M122.5 248.9h.01M145.5 248.9h.01M189 248.9h.01M209.5 248.9h.01M214 248.9h.01M219 248.9h.01M219.5 248.9h.01M225 248.9h.01M236.5 248.9h.01M253 248.9h.01M263.5 248.9h.01M294.5 248.9h.01M296.5 248.9h.01M297 248.9h.01M300.5 248.9h.01M301 248.9h.01M301.5 248.9h.01M307.5 248.9h.01M311 248.9h.01M314 248.9h.01M317.5 248.9h.01M319 248.9h.01M322 248.9h.01M322.5 248.9h.01M325.5 248.9h.01M326.5 248.9h.01M328 248.9h.01M331.5 248.9h.01M332.5 248.9h.01M335.5 248.9h.01M339 248.9h.01M343 248.9h.01M353.5 248.9h.01M354 248.9h.01M372 248.9h.01M375.5 248.9h.01M377.5 248.9h.01M379 248.9h.01M384 248.9h.01M395.5 248.9h.01M397.5 248.9h.01M403.5 248.9h.01M418 248.9h.01M429 248.9h.01M429.5 248.9h.01M467.5 248.9h.01M484.5 248.9h.01M491 248.9h.01M491.5 248.9h.01M501 248.9h.01M513 248.9h.01M516 248.9h.01M525 248.9h.01M558.5 248.9h.01M563.5 248.9h.01M571.5 248.9h.01M108.5 251.2h.01M118.5 251.2h.01M129.5 251.2h.01M164.5 251.2h.01M170.5 251.2h.01M188 251.2h.01M191.5 251.2h.01M197.5 251.2h.01M203 251.2h.01M242 251.2h.01M244.5 251.2h.01M260 251.2h.01M270 251.2h.01M275.5 251.2h.01M296 251.2h.01M298.5 251.2h.01M309 251.2h.01M313 251.2h.01M318 251.2h.01M319 251.2h.01M319.5 251.2h.01M321 251.2h.01M322.5 251.2h.01M323 251.2h.01M323.5 251.2h.01M325 251.2h.01M325.5 251.2h.01M328.5 251.2h.01M329.5 251.2h.01M331.5 251.2h.01M334.5 251.2h.01M338.5 251.2h.01M339 251.2h.01M346.5 251.2h.01M357.5 251.2h.01M358 251.2h.01M388 251.2h.01M389.5 251.2h.01M408.5 251.2h.01M417 251.2h.01M426 251.2h.01M432.5 251.2h.01M442.5 251.2h.01M443 251.2h.01M453 251.2h.01M455 251.2h.01M456 251.2h.01M457 251.2h.01M468 251.2h.01M481.5 251.2h.01M514.5 251.2h.01M540 251.2h.01M556.5 251.2h.01M91 253.6h.01M104.5 253.6h.01M106.5 253.6h.01M139.5 253.6h.01M146 253.6h.01M201.5 253.6h.01M207 253.6h.01M225 253.6h.01M248.5 253.6h.01M250 253.6h.01M257 253.6h.01M277 253.6h.01M292.5 253.6h.01M296 253.6h.01M299.5 253.6h.01M300 253.6h.01M300.5 253.6h.01M301 253.6h.01M306.5 253.6h.01M311 253.6h.01M311.5 253.6h.01M313 253.6h.01M318.5 253.6h.01M320 253.6h.01M321.5 253.6h.01M322 253.6h.01M323 253.6h.01M324.5 253.6h.01M328 253.6h.01M328.5 253.6h.01M333 253.6h.01M335.5 253.6h.01M336 253.6h.01M337 253.6h.01M345 253.6h.01M351.5 253.6h.01M358 253.6h.01M393 253.6h.01M407.5 253.6h.01M420 253.6h.01M422.5 253.6h.01M434 253.6h.01M440.5 253.6h.01M442.5 253.6h.01M446.5 253.6h.01M464 253.6h.01M467 253.6h.01M480.5 253.6h.01M540.5 253.6h.01M560 253.6h.01M90 255.9h.01M96.5 255.9h.01M101.5 255.9h.01M102 255.9h.01M135 255.9h.01M137 255.9h.01M162 255.9h.01M165.5 255.9h.01M179.5 255.9h.01M190.5 255.9h.01M194 255.9h.01M237.5 255.9h.01M246.5 255.9h.01M280 255.9h.01M281.5 255.9h.01M285 255.9h.01M285.5 255.9h.01M287 255.9h.01M296 255.9h.01M297 255.9h.01M300.5 255.9h.01M303.5 255.9h.01M315 255.9h.01M321 255.9h.01M321.5 255.9h.01M323 255.9h.01M324 255.9h.01M324.5 255.9h.01M325 255.9h.01M325.5 255.9h.01M327 255.9h.01M328.5 255.9h.01M330.5 255.9h.01M331.5 255.9h.01M334.5 255.9h.01M338 255.9h.01M346 255.9h.01M346.5 255.9h.01M351.5 255.9h.01M352.5 255.9h.01M357 255.9h.01M395.5 255.9h.01M415.5 255.9h.01M440.5 255.9h.01M459.5 255.9h.01M481 255.9h.01M496.5 255.9h.01M503.5 255.9h.01M506.5 255.9h.01M513.5 255.9h.01M515.5 255.9h.01M547 255.9h.01M94.5 258.2h.01M101.5 258.2h.01M151 258.2h.01M154.5 258.2h.01M168.5 258.2h.01M176.5 258.2h.01M189 258.2h.01M196 258.2h.01M196.5 258.2h.01M207.5 258.2h.01M220.5 258.2h.01M235 258.2h.01M242 258.2h.01M262 258.2h.01M272.5 258.2h.01M275.5 258.2h.01M289.5 258.2h.01M294.5 258.2h.01M298.5 258.2h.01M299 258.2h.01M308 258.2h.01M315.5 258.2h.01M318.5 258.2h.01M320.5 258.2h.01M321.5 258.2h.01M324 258.2h.01M324.5 258.2h.01M326.5 258.2h.01M327 258.2h.01M327.5 258.2h.01M329 258.2h.01M329.5 258.2h.01M330.5 258.2h.01M339 258.2h.01M341 258.2h.01M351 258.2h.01M351.5 258.2h.01M356 258.2h.01M358.5 258.2h.01M363 258.2h.01M364 258.2h.01M365 258.2h.01M370.5 258.2h.01M386 258.2h.01M393 258.2h.01M401 258.2h.01M404.5 258.2h.01M423.5 258.2h.01M434 258.2h.01M466 258.2h.01M480.5 258.2h.01M503 258.2h.01M533.5 258.2h.01M537.5 258.2h.01M545.5 258.2h.01M547.5 258.2h.01M554.5 258.2h.01M555 258.2h.01M564.5 258.2h.01M566.5 258.2h.01M83.5 260.5h.01M84.5 260.5h.01M91 260.5h.01M102 260.5h.01M110.5 260.5h.01M139.5 260.5h.01M149.5 260.5h.01M150 260.5h.01M160.5 260.5h.01M178 260.5h.01M202.5 260.5h.01M205 260.5h.01M206 260.5h.01M210.5 260.5h.01M245 260.5h.01M249.5 260.5h.01M283 260.5h.01M294.5 260.5h.01M301 260.5h.01M301.5 260.5h.01M302 260.5h.01M302.5 260.5h.01M303 260.5h.01M305.5 260.5h.01M309.5 260.5h.01M312.5 260.5h.01M315.5 260.5h.01M319.5 260.5h.01M320.5 260.5h.01M323.5 260.5h.01M324.5 260.5h.01M325.5 260.5h.01M330 260.5h.01M330.5 260.5h.01M333.5 260.5h.01M339.5 260.5h.01M344 260.5h.01M345 260.5h.01M349.5 260.5h.01M361 260.5h.01M363 260.5h.01M366.5 260.5h.01M370.5 260.5h.01M373.5 260.5h.01M388.5 260.5h.01M397 260.5h.01M423 260.5h.01M427.5 260.5h.01M462 260.5h.01M480.5 260.5h.01M489.5 260.5h.01M493.5 260.5h.01M527.5 260.5h.01M571 260.5h.01M92 262.9h.01M212 262.9h.01M223.5 262.9h.01M239.5 262.9h.01M242.5 262.9h.01M248.5 262.9h.01M274.5 262.9h.01M276 262.9h.01M288.5 262.9h.01M289.5 262.9h.01M290 262.9h.01M291.5 262.9h.01M294 262.9h.01M299.5 262.9h.01M300 262.9h.01M305 262.9h.01M313.5 262.9h.01M315 262.9h.01M316.5 262.9h.01M319 262.9h.01M322 262.9h.01M322.5 262.9h.01M326.5 262.9h.01M327.5 262.9h.01M330 262.9h.01M333 262.9h.01M335 262.9h.01M335.5 262.9h.01M337 262.9h.01M340 262.9h.01M341 262.9h.01M342 262.9h.01M347.5 262.9h.01M364 262.9h.01M367 262.9h.01M371 262.9h.01M386.5 262.9h.01M434 262.9h.01M440.5 262.9h.01M442.5 262.9h.01M452.5 262.9h.01M471 262.9h.01M476.5 262.9h.01M510.5 262.9h.01M566 262.9h.01M91 265.2h.01M116.5 265.2h.01M126.5 265.2h.01M128.5 265.2h.01M133.5 265.2h.01M140 265.2h.01M189.5 265.2h.01M191.5 265.2h.01M200 265.2h.01M206.5 265.2h.01M209 265.2h.01M237 265.2h.01M250 265.2h.01M258 265.2h.01M263 265.2h.01M267.5 265.2h.01M274 265.2h.01M277 265.2h.01M279.5 265.2h.01M282.5 265.2h.01M285 265.2h.01M286 265.2h.01M288 265.2h.01M289.5 265.2h.01M290 265.2h.01M304 265.2h.01M310 265.2h.01M317.5 265.2h.01M320 265.2h.01M323 265.2h.01M323.5 265.2h.01M324.5 265.2h.01M327 265.2h.01M328 265.2h.01M328.5 265.2h.01M329.5 265.2h.01M332 265.2h.01M333 265.2h.01M333.5 265.2h.01M337 265.2h.01M337.5 265.2h.01M339 265.2h.01M345 265.2h.01M346 265.2h.01M349.5 265.2h.01M350.5 265.2h.01M351 265.2h.01M352.5 265.2h.01M356 265.2h.01M360 265.2h.01M381.5 265.2h.01M396.5 265.2h.01M397 265.2h.01M425 265.2h.01M429.5 265.2h.01M440.5 265.2h.01M447 265.2h.01M460.5 265.2h.01M466 265.2h.01M513 265.2h.01M515.5 265.2h.01M517.5 265.2h.01M537.5 265.2h.01M543.5 265.2h.01M558 265.2h.01M570.5 265.2h.01M95.5 267.5h.01M106 267.5h.01M116 267.5h.01M119.5 267.5h.01M171.5 267.5h.01M196 267.5h.01M221 267.5h.01M244 267.5h.01M249 267.5h.01M277.5 267.5h.01M278 267.5h.01M292 267.5h.01M298.5 267.5h.01M306 267.5h.01M315.5 267.5h.01M316 267.5h.01M317.5 267.5h.01M318.5 267.5h.01M319 267.5h.01M322.5 267.5h.01M323.5 267.5h.01M324 267.5h.01M325 267.5h.01M325.5 267.5h.01M326 267.5h.01M326.5 267.5h.01M327 267.5h.01M328.5 267.5h.01M330.5 267.5h.01M331.5 267.5h.01M332.5 267.5h.01M333 267.5h.01M335.5 267.5h.01M337.5 267.5h.01M342.5 267.5h.01M355 267.5h.01M365.5 267.5h.01M370.5 267.5h.01M373.5 267.5h.01M374 267.5h.01M384 267.5h.01M385 267.5h.01M416 267.5h.01M421 267.5h.01M439.5 267.5h.01M454.5 267.5h.01M473.5 267.5h.01M495.5 267.5h.01M80 269.8h.01M103 269.8h.01M119.5 269.8h.01M122.5 269.8h.01M124 269.8h.01M126.5 269.8h.01M161 269.8h.01M204 269.8h.01M213.5 269.8h.01M235.5 269.8h.01M250 269.8h.01M262.5 269.8h.01M267.5 269.8h.01M272.5 269.8h.01M280.5 269.8h.01M286.5 269.8h.01M297 269.8h.01M303.5 269.8h.01M304 269.8h.01M307 269.8h.01M309.5 269.8h.01M311 269.8h.01M315 269.8h.01M315.5 269.8h.01M316.5 269.8h.01M318.5 269.8h.01M320 269.8h.01M320.5 269.8h.01M321 269.8h.01M322.5 269.8h.01M323.5 269.8h.01M326 269.8h.01M329.5 269.8h.01M331 269.8h.01M331.5 269.8h.01M332.5 269.8h.01M333 269.8h.01M340 269.8h.01M348 269.8h.01M359.5 269.8h.01M361.5 269.8h.01M368.5 269.8h.01M381.5 269.8h.01M398.5 269.8h.01M402 269.8h.01M406.5 269.8h.01M432.5 269.8h.01M449 269.8h.01M449.5 269.8h.01M463.5 269.8h.01M489.5 269.8h.01M499.5 269.8h.01M501.5 269.8h.01M506 269.8h.01M516.5 269.8h.01M549 269.8h.01M566.5 269.8h.01M88 272.2h.01M90 272.2h.01M93 272.2h.01M113.5 272.2h.01M127.5 272.2h.01M138.5 272.2h.01M158 272.2h.01M162 272.2h.01M169.5 272.2h.01M171 272.2h.01M187.5 272.2h.01M199 272.2h.01M204.5 272.2h.01M207.5 272.2h.01M215.5 272.2h.01M221.5 272.2h.01M224 272.2h.01M234 272.2h.01M243 272.2h.01M243.5 272.2h.01M252 272.2h.01M262 272.2h.01M275 272.2h.01M276.5 272.2h.01M279 272.2h.01M285.5 272.2h.01M291 272.2h.01M297.5 272.2h.01M299.5 272.2h.01M303 272.2h.01M305 272.2h.01M306.5 272.2h.01M308.5 272.2h.01M309.5 272.2h.01M310 272.2h.01M311.5 272.2h.01M312.5 272.2h.01M316 272.2h.01M318.5 272.2h.01M321 272.2h.01M322 272.2h.01M323 272.2h.01M324 272.2h.01M329 272.2h.01M329.5 272.2h.01M330 272.2h.01M331.5 272.2h.01M333 272.2h.01M336.5 272.2h.01M337 272.2h.01M340 272.2h.01M341.5 272.2h.01M347.5 272.2h.01M349.5 272.2h.01M350.5 272.2h.01M352 272.2h.01M355 272.2h.01M365.5 272.2h.01M372 272.2h.01M376.5 272.2h.01M386 272.2h.01M400 272.2h.01M411.5 272.2h.01M428 272.2h.01M438.5 272.2h.01M443 272.2h.01M452 272.2h.01M463.5 272.2h.01M518.5 272.2h.01M521.5 272.2h.01M530.5 272.2h.01M538.5 272.2h.01M553.5 272.2h.01M564.5 272.2h.01M572 272.2h.01M87 274.5h.01M87.5 274.5h.01M93.5 274.5h.01M138 274.5h.01M187 274.5h.01M226.5 274.5h.01M231.5 274.5h.01M232 274.5h.01M233.5 274.5h.01M235 274.5h.01M239 274.5h.01M241.5 274.5h.01M257.5 274.5h.01M259 274.5h.01M261.5 274.5h.01M264 274.5h.01M268 274.5h.01M272.5 274.5h.01M281 274.5h.01M289.5 274.5h.01M300.5 274.5h.01M302 274.5h.01M306 274.5h.01M311 274.5h.01M311.5 274.5h.01M314.5 274.5h.01M320.5 274.5h.01M321.5 274.5h.01M323.5 274.5h.01M326 274.5h.01M327.5 274.5h.01M328.5 274.5h.01M329 274.5h.01M330 274.5h.01M333 274.5h.01M337.5 274.5h.01M339 274.5h.01M342.5 274.5h.01M344.5 274.5h.01M347.5 274.5h.01M366 274.5h.01M366.5 274.5h.01M371 274.5h.01M416 274.5h.01M417 274.5h.01M461 274.5h.01M461.5 274.5h.01M464 274.5h.01M489.5 274.5h.01M495 274.5h.01M499.5 274.5h.01M514 274.5h.01M521 274.5h.01M527 274.5h.01M532 274.5h.01M536.5 274.5h.01M547 274.5h.01M567 274.5h.01M570.5 274.5h.01M84.5 276.8h.01M86.5 276.8h.01M93 276.8h.01M97 276.8h.01M107 276.8h.01M115 276.8h.01M117.5 276.8h.01M118 276.8h.01M125 276.8h.01M161.5 276.8h.01M173 276.8h.01M173.5 276.8h.01M210 276.8h.01M212.5 276.8h.01M224 276.8h.01M263 276.8h.01M268.5 276.8h.01M271 276.8h.01M275 276.8h.01M287 276.8h.01M291 276.8h.01M291.5 276.8h.01M294.5 276.8h.01M297.5 276.8h.01M298 276.8h.01M301.5 276.8h.01M302.5 276.8h.01M304 276.8h.01M308.5 276.8h.01M310 276.8h.01M315.5 276.8h.01M319.5 276.8h.01M320.5 276.8h.01M322.5 276.8h.01M323 276.8h.01M325 276.8h.01M326 276.8h.01M328 276.8h.01M328.5 276.8h.01M329 276.8h.01M332 276.8h.01M334.5 276.8h.01M337 276.8h.01M339 276.8h.01M339.5 276.8h.01M340.5 276.8h.01M341 276.8h.01M345 276.8h.01M352.5 276.8h.01M353 276.8h.01M354.5 276.8h.01M355.5 276.8h.01M359.5 276.8h.01M360 276.8h.01M365 276.8h.01M376.5 276.8h.01M384 276.8h.01M394 276.8h.01M397 276.8h.01M397.5 276.8h.01M408.5 276.8h.01M419.5 276.8h.01M444 276.8h.01M458 276.8h.01M463 276.8h.01M483 276.8h.01M511.5 276.8h.01M513.5 276.8h.01M534 276.8h.01M543 276.8h.01M550.5 276.8h.01M559 276.8h.01M83 279.1h.01M83.5 279.1h.01M85 279.1h.01M92 279.1h.01M100 279.1h.01M120.5 279.1h.01M127 279.1h.01M154.5 279.1h.01M159.5 279.1h.01M184 279.1h.01M229 279.1h.01M242.5 279.1h.01M253 279.1h.01M276 279.1h.01M280 279.1h.01M285 279.1h.01M294 279.1h.01M297.5 279.1h.01M303 279.1h.01M306 279.1h.01M308 279.1h.01M309.5 279.1h.01M310 279.1h.01M310.5 279.1h.01M311 279.1h.01M317 279.1h.01M319.5 279.1h.01M320 279.1h.01M320.5 279.1h.01M321.5 279.1h.01M324 279.1h.01M327 279.1h.01M333.5 279.1h.01M336.5 279.1h.01M339.5 279.1h.01M341.5 279.1h.01M342.5 279.1h.01M346 279.1h.01M347.5 279.1h.01M350 279.1h.01M353 279.1h.01M359 279.1h.01M360 279.1h.01M372.5 279.1h.01M384 279.1h.01M386 279.1h.01M390.5 279.1h.01M392 279.1h.01M395 279.1h.01M401 279.1h.01M404.5 279.1h.01M405 279.1h.01M429.5 279.1h.01M440 279.1h.01M442 279.1h.01M463.5 279.1h.01M480.5 279.1h.01M491.5 279.1h.01M496.5 279.1h.01M505.5 279.1h.01M510 279.1h.01M512 279.1h.01M533 279.1h.01M545 279.1h.01M549 279.1h.01M549.5 279.1h.01M555 279.1h.01M95 281.5h.01M106.5 281.5h.01M108.5 281.5h.01M112.5 281.5h.01M115 281.5h.01M137 281.5h.01M166 281.5h.01M167 281.5h.01M170 281.5h.01M179.5 281.5h.01M189.5 281.5h.01M217 281.5h.01M219.5 281.5h.01M221.5 281.5h.01M224 281.5h.01M250 281.5h.01M273.5 281.5h.01M285.5 281.5h.01M292.5 281.5h.01M293 281.5h.01M294.5 281.5h.01M306.5 281.5h.01M308.5 281.5h.01M313 281.5h.01M317.5 281.5h.01M320 281.5h.01M322 281.5h.01M322.5 281.5h.01M323 281.5h.01M323.5 281.5h.01M325 281.5h.01M325.5 281.5h.01M327.5 281.5h.01M328 281.5h.01M328.5 281.5h.01M329 281.5h.01M330.5 281.5h.01M331 281.5h.01M332 281.5h.01M333 281.5h.01M335.5 281.5h.01M336 281.5h.01M337.5 281.5h.01M341.5 281.5h.01M342.5 281.5h.01M345 281.5h.01M353 281.5h.01M357 281.5h.01M358.5 281.5h.01M361 281.5h.01M363 281.5h.01M368 281.5h.01M383.5 281.5h.01M385.5 281.5h.01M386 281.5h.01M408.5 281.5h.01M414.5 281.5h.01M432 281.5h.01M445 281.5h.01M447 281.5h.01M478.5 281.5h.01M500 281.5h.01M508 281.5h.01M538.5 281.5h.01M541 281.5h.01M567.5 281.5h.01M570.5 281.5h.01M106.5 283.8h.01M124 283.8h.01M126.5 283.8h.01M130 283.8h.01M162 283.8h.01M172 283.8h.01M179.5 283.8h.01M199 283.8h.01M217.5 283.8h.01M237.5 283.8h.01M241 283.8h.01M253 283.8h.01M260.5 283.8h.01M264 283.8h.01M269 283.8h.01M275 283.8h.01M285 283.8h.01M293.5 283.8h.01M294.5 283.8h.01M299 283.8h.01M300 283.8h.01M301.5 283.8h.01M302.5 283.8h.01M306 283.8h.01M307 283.8h.01M314 283.8h.01M315 283.8h.01M319 283.8h.01M321.5 283.8h.01M322.5 283.8h.01M325 283.8h.01M325.5 283.8h.01M326 283.8h.01M328 283.8h.01M329.5 283.8h.01M333 283.8h.01M335 283.8h.01M336 283.8h.01M337.5 283.8h.01M340 283.8h.01M340.5 283.8h.01M343.5 283.8h.01M346 283.8h.01M364 283.8h.01M372 283.8h.01M373 283.8h.01M375.5 283.8h.01M388 283.8h.01M395.5 283.8h.01M396.5 283.8h.01M425 283.8h.01M425.5 283.8h.01M436.5 283.8h.01M453.5 283.8h.01M455.5 283.8h.01M465.5 283.8h.01M470 283.8h.01M473 283.8h.01M496 283.8h.01M504 283.8h.01M516 283.8h.01M520 283.8h.01M521.5 283.8h.01M524.5 283.8h.01M559 283.8h.01M560.5 283.8h.01M568.5 283.8h.01M122 286.1h.01M130 286.1h.01M145 286.1h.01M147 286.1h.01M173 286.1h.01M178.5 286.1h.01M181.5 286.1h.01M204 286.1h.01M222 286.1h.01M250.5 286.1h.01M254.5 286.1h.01M258 286.1h.01M268.5 286.1h.01M269 286.1h.01M286.5 286.1h.01M292 286.1h.01M297.5 286.1h.01M299.5 286.1h.01M301.5 286.1h.01M302 286.1h.01M304 286.1h.01M306.5 286.1h.01M307.5 286.1h.01M309.5 286.1h.01M317 286.1h.01M317.5 286.1h.01M318.5 286.1h.01M319 286.1h.01M320 286.1h.01M321 286.1h.01M321.5 286.1h.01M323 286.1h.01M323.5 286.1h.01M324 286.1h.01M325 286.1h.01M327.5 286.1h.01M328.5 286.1h.01M329 286.1h.01M330 286.1h.01M330.5 286.1h.01M332 286.1h.01M332.5 286.1h.01M333 286.1h.01M333.5 286.1h.01M336.5 286.1h.01M337.5 286.1h.01M338.5 286.1h.01M341 286.1h.01M345 286.1h.01M347 286.1h.01M350.5 286.1h.01M351 286.1h.01M351.5 286.1h.01M353.5 286.1h.01M370.5 286.1h.01M390.5 286.1h.01M405 286.1h.01M422.5 286.1h.01M425 286.1h.01M436 286.1h.01M455.5 286.1h.01M462.5 286.1h.01M468 286.1h.01M479.5 286.1h.01M482.5 286.1h.01M510 286.1h.01M521.5 286.1h.01M525.5 286.1h.01M542.5 286.1h.01M545.5 286.1h.01M547 286.1h.01M563.5 286.1h.01M564.5 286.1h.01M99.5 288.4h.01M102.5 288.4h.01M112.5 288.4h.01M139 288.4h.01M149 288.4h.01M163 288.4h.01M170.5 288.4h.01M189 288.4h.01M193 288.4h.01M195 288.4h.01M210.5 288.4h.01M217.5 288.4h.01M241.5 288.4h.01M242 288.4h.01M248.5 288.4h.01M251 288.4h.01M254.5 288.4h.01M267 288.4h.01M276.5 288.4h.01M298.5 288.4h.01M301.5 288.4h.01M302 288.4h.01M303.5 288.4h.01M304 288.4h.01M304.5 288.4h.01M305.5 288.4h.01M306 288.4h.01M307 288.4h.01M312.5 288.4h.01M313 288.4h.01M314 288.4h.01M315.5 288.4h.01M316.5 288.4h.01M320 288.4h.01M320.5 288.4h.01M321 288.4h.01M322 288.4h.01M325 288.4h.01M327.5 288.4h.01M328 288.4h.01M329.5 288.4h.01M330.5 288.4h.01M332.5 288.4h.01M336 288.4h.01M337 288.4h.01M338.5 288.4h.01M339 288.4h.01M340.5 288.4h.01M346.5 288.4h.01M348 288.4h.01M352 288.4h.01M353 288.4h.01M361.5 288.4h.01M362 288.4h.01M384 288.4h.01M395 288.4h.01M406.5 288.4h.01M408 288.4h.01M419 288.4h.01M430 288.4h.01M433 288.4h.01M439 288.4h.01M443 288.4h.01M446.5 288.4h.01M447 288.4h.01M457 288.4h.01M458.5 288.4h.01M482.5 288.4h.01M484.5 288.4h.01M487 288.4h.01M495.5 288.4h.01M505 288.4h.01M514 288.4h.01M525.5 288.4h.01M535 288.4h.01M572 288.4h.01M86 290.8h.01M93 290.8h.01M96 290.8h.01M97.5 290.8h.01M98.5 290.8h.01M123.5 290.8h.01M130 290.8h.01M139.5 290.8h.01M180.5 290.8h.01M190 290.8h.01M206 290.8h.01M206.5 290.8h.01M207 290.8h.01M212 290.8h.01M221 290.8h.01M225 290.8h.01M225.5 290.8h.01M250 290.8h.01M254.5 290.8h.01M255.5 290.8h.01M267 290.8h.01M291 290.8h.01M296.5 290.8h.01M298 290.8h.01M300 290.8h.01M306 290.8h.01M307.5 290.8h.01M311.5 290.8h.01M314 290.8h.01M315 290.8h.01M315.5 290.8h.01M316 290.8h.01M316.5 290.8h.01M317.5 290.8h.01M318.5 290.8h.01M322 290.8h.01M324.5 290.8h.01M325 290.8h.01M327 290.8h.01M327.5 290.8h.01M328 290.8h.01M328.5 290.8h.01M329 290.8h.01M330 290.8h.01M330.5 290.8h.01M333.5 290.8h.01M336 290.8h.01M336.5 290.8h.01M338.5 290.8h.01M339 290.8h.01M342.5 290.8h.01M343 290.8h.01M344 290.8h.01M344.5 290.8h.01M349.5 290.8h.01M351 290.8h.01M355 290.8h.01M359.5 290.8h.01M368.5 290.8h.01M382.5 290.8h.01M384 290.8h.01M387.5 290.8h.01M417.5 290.8h.01M420.5 290.8h.01M427.5 290.8h.01M433 290.8h.01M435 290.8h.01M451.5 290.8h.01M463.5 290.8h.01M469.5 290.8h.01M472.5 290.8h.01M480 290.8h.01M498 290.8h.01M507 290.8h.01M522.5 290.8h.01M539 290.8h.01M557 290.8h.01M566 290.8h.01M567 290.8h.01M100.5 293.1h.01M109.5 293.1h.01M127 293.1h.01M136 293.1h.01M138.5 293.1h.01M143.5 293.1h.01M146 293.1h.01M154 293.1h.01M165 293.1h.01M171.5 293.1h.01M195.5 293.1h.01M207.5 293.1h.01M217.5 293.1h.01M218.5 293.1h.01M223 293.1h.01M238.5 293.1h.01M242 293.1h.01M249 293.1h.01M255.5 293.1h.01M286 293.1h.01M292 293.1h.01M297.5 293.1h.01M299.5 293.1h.01M301 293.1h.01M303 293.1h.01M306 293.1h.01M308.5 293.1h.01M311.5 293.1h.01M312.5 293.1h.01M314.5 293.1h.01M318.5 293.1h.01M319.5 293.1h.01M320.5 293.1h.01M321.5 293.1h.01M322.5 293.1h.01M324 293.1h.01M325 293.1h.01M326 293.1h.01M326.5 293.1h.01M330 293.1h.01M330.5 293.1h.01M331.5 293.1h.01M335 293.1h.01M339.5 293.1h.01M343.5 293.1h.01M350 293.1h.01M351.5 293.1h.01M355.5 293.1h.01M357 293.1h.01M359.5 293.1h.01M363.5 293.1h.01M369 293.1h.01M373 293.1h.01M383.5 293.1h.01M390 293.1h.01M395.5 293.1h.01M401.5 293.1h.01M402.5 293.1h.01M407 293.1h.01M422 293.1h.01M427.5 293.1h.01M436 293.1h.01M459.5 293.1h.01M461 293.1h.01M472 293.1h.01M476.5 293.1h.01M477 293.1h.01M480 293.1h.01M496.5 293.1h.01M502 293.1h.01M508 293.1h.01M534.5 293.1h.01M538 293.1h.01M545.5 293.1h.01M549.5 293.1h.01M91.5 295.4h.01M98.5 295.4h.01M110.5 295.4h.01M126 295.4h.01M134.5 295.4h.01M138.5 295.4h.01M142 295.4h.01M175 295.4h.01M179.5 295.4h.01M189.5 295.4h.01M192.5 295.4h.01M196 295.4h.01M200.5 295.4h.01M206.5 295.4h.01M209.5 295.4h.01M219 295.4h.01M219.5 295.4h.01M228 295.4h.01M237 295.4h.01M241.5 295.4h.01M276 295.4h.01M277 295.4h.01M277.5 295.4h.01M278 295.4h.01M281.5 295.4h.01M297 295.4h.01M302 295.4h.01M303.5 295.4h.01M305.5 295.4h.01M310.5 295.4h.01M312.5 295.4h.01M313.5 295.4h.01M314.5 295.4h.01M316 295.4h.01M317.5 295.4h.01M318.5 295.4h.01M321.5 295.4h.01M323 295.4h.01M323.5 295.4h.01M325 295.4h.01M325.5 295.4h.01M326 295.4h.01M326.5 295.4h.01M327 295.4h.01M327.5 295.4h.01M329 295.4h.01M330 295.4h.01M330.5 295.4h.01M331 295.4h.01M333 295.4h.01M333.5 295.4h.01M338 295.4h.01M339 295.4h.01M353 295.4h.01M357.5 295.4h.01M364 295.4h.01M366.5 295.4h.01M372.5 295.4h.01M380 295.4h.01M389.5 295.4h.01M397.5 295.4h.01M409 295.4h.01M426 295.4h.01M442 295.4h.01M449.5 295.4h.01M476.5 295.4h.01M478 295.4h.01M479.5 295.4h.01M491 295.4h.01M495 295.4h.01M504.5 295.4h.01M505.5 295.4h.01M519 295.4h.01M540.5 295.4h.01M542 295.4h.01M548.5 295.4h.01M549 295.4h.01M570.5 295.4h.01M90 297.7h.01M91.5 297.7h.01M95 297.7h.01M105 297.7h.01M119 297.7h.01M124.5 297.7h.01M129 297.7h.01M131.5 297.7h.01M162 297.7h.01M186.5 297.7h.01M189.5 297.7h.01M193 297.7h.01M200.5 297.7h.01M212 297.7h.01M222 297.7h.01M227.5 297.7h.01M236.5 297.7h.01M283.5 297.7h.01M284.5 297.7h.01M287.5 297.7h.01M304.5 297.7h.01M312 297.7h.01M316.5 297.7h.01M318.5 297.7h.01M321 297.7h.01M324.5 297.7h.01M325.5 297.7h.01M327 297.7h.01M327.5 297.7h.01M330 297.7h.01M331 297.7h.01M334 297.7h.01M338 297.7h.01M350 297.7h.01M354 297.7h.01M354.5 297.7h.01M368 297.7h.01M375 297.7h.01M390.5 297.7h.01M405.5 297.7h.01M433.5 297.7h.01M455 297.7h.01M491 297.7h.01M492 297.7h.01M494 297.7h.01M498 297.7h.01M505 297.7h.01M510 297.7h.01M511 297.7h.01M537.5 297.7h.01M538.5 297.7h.01M539 297.7h.01M540 297.7h.01M93 300.1h.01M103.5 300.1h.01M120.5 300.1h.01M122.5 300.1h.01M125.5 300.1h.01M137 300.1h.01M151.5 300.1h.01M153 300.1h.01M174.5 300.1h.01M191.5 300.1h.01M219 300.1h.01M220.5 300.1h.01M225.5 300.1h.01M231.5 300.1h.01M256 300.1h.01M266.5 300.1h.01M271 300.1h.01M275.5 300.1h.01M276.5 300.1h.01M277 300.1h.01M281 300.1h.01M281.5 300.1h.01M286 300.1h.01M289.5 300.1h.01M292 300.1h.01M293.5 300.1h.01M297 300.1h.01M302.5 300.1h.01M315 300.1h.01M315.5 300.1h.01M317.5 300.1h.01M319 300.1h.01M322.5 300.1h.01M323 300.1h.01M324.5 300.1h.01M326 300.1h.01M326.5 300.1h.01M328 300.1h.01M329.5 300.1h.01M330.5 300.1h.01M331.5 300.1h.01M332.5 300.1h.01M333 300.1h.01M334.5 300.1h.01M337 300.1h.01M339 300.1h.01M341 300.1h.01M346.5 300.1h.01M366.5 300.1h.01M371.5 300.1h.01M372.5 300.1h.01M391 300.1h.01M404.5 300.1h.01M418 300.1h.01M423.5 300.1h.01M435.5 300.1h.01M449 300.1h.01M457.5 300.1h.01M471 300.1h.01M472.5 300.1h.01M484.5 300.1h.01M494 300.1h.01M500.5 300.1h.01M526.5 300.1h.01M527 300.1h.01M528.5 300.1h.01M561 300.1h.01M572 300.1h.01M85.5 302.4h.01M95.5 302.4h.01M116 302.4h.01M132 302.4h.01M137 302.4h.01M165.5 302.4h.01M166 302.4h.01M170.5 302.4h.01M180.5 302.4h.01M187 302.4h.01M223.5 302.4h.01M224.5 302.4h.01M230 302.4h.01M233 302.4h.01M245 302.4h.01M251 302.4h.01M268.5 302.4h.01M274.5 302.4h.01M288.5 302.4h.01M290 302.4h.01M302.5 302.4h.01M304.5 302.4h.01M305.5 302.4h.01M308.5 302.4h.01M311 302.4h.01M318 302.4h.01M318.5 302.4h.01M321 302.4h.01M321.5 302.4h.01M325 302.4h.01M326.5 302.4h.01M328.5 302.4h.01M330.5 302.4h.01M332 302.4h.01M334.5 302.4h.01M336.5 302.4h.01M341.5 302.4h.01M343.5 302.4h.01M344 302.4h.01M345 302.4h.01M349 302.4h.01M350 302.4h.01M355 302.4h.01M359.5 302.4h.01M360.5 302.4h.01M366 302.4h.01M368.5 302.4h.01M373 302.4h.01M379.5 302.4h.01M386 302.4h.01M389.5 302.4h.01M405 302.4h.01M409.5 302.4h.01M410.5 302.4h.01M427 302.4h.01M432 302.4h.01M444.5 302.4h.01M445.5 302.4h.01M453 302.4h.01M458.5 302.4h.01M472.5 302.4h.01M498.5 302.4h.01M535 302.4h.01M543 302.4h.01M544.5 302.4h.01M555 302.4h.01M560 302.4h.01M566 302.4h.01M80 304.7h.01M86.5 304.7h.01M91 304.7h.01M91.5 304.7h.01M94.5 304.7h.01M96.5 304.7h.01M97 304.7h.01M112 304.7h.01M117 304.7h.01M159 304.7h.01M163 304.7h.01M185.5 304.7h.01M188.5 304.7h.01M221 304.7h.01M222.5 304.7h.01M229 304.7h.01M240 304.7h.01M247 304.7h.01M248 304.7h.01M249 304.7h.01M264 304.7h.01M265.5 304.7h.01M272.5 304.7h.01M274 304.7h.01M277 304.7h.01M277.5 304.7h.01M279.5 304.7h.01M282.5 304.7h.01M303 304.7h.01M306.5 304.7h.01M309.5 304.7h.01M310.5 304.7h.01M313.5 304.7h.01M315 304.7h.01M317 304.7h.01M317.5 304.7h.01M320 304.7h.01M321 304.7h.01M322 304.7h.01M323 304.7h.01M324 304.7h.01M325 304.7h.01M325.5 304.7h.01M330 304.7h.01M330.5 304.7h.01M331 304.7h.01M336 304.7h.01M336.5 304.7h.01M337.5 304.7h.01M340 304.7h.01M340.5 304.7h.01M345.5 304.7h.01M358.5 304.7h.01M365.5 304.7h.01M366 304.7h.01M367.5 304.7h.01M380.5 304.7h.01M384.5 304.7h.01M385 304.7h.01M393.5 304.7h.01M410 304.7h.01M411.5 304.7h.01M414.5 304.7h.01M417.5 304.7h.01M419.5 304.7h.01M420.5 304.7h.01M426 304.7h.01M429.5 304.7h.01M440 304.7h.01M453 304.7h.01M454.5 304.7h.01M469 304.7h.01M471 304.7h.01M472.5 304.7h.01M500 304.7h.01M518.5 304.7h.01M519.5 304.7h.01M521.5 304.7h.01M524 304.7h.01M534.5 304.7h.01M538.5 304.7h.01M93.5 307h.01M103 307h.01M107.5 307h.01M112 307h.01M117 307h.01M138 307h.01M155.5 307h.01M163 307h.01M184 307h.01M187 307h.01M192.5 307h.01M213 307h.01M244.5 307h.01M247.5 307h.01M257 307h.01M268.5 307h.01M269.5 307h.01M292 307h.01M303 307h.01M305.5 307h.01M306 307h.01M308 307h.01M309.5 307h.01M311.5 307h.01M312 307h.01M313 307h.01M313.5 307h.01M315.5 307h.01M317 307h.01M318 307h.01M320 307h.01M321.5 307h.01M322.5 307h.01M327.5 307h.01M328.5 307h.01M329.5 307h.01M331 307h.01M332.5 307h.01M336.5 307h.01M338 307h.01M340.5 307h.01M348 307h.01M362 307h.01M363 307h.01M369.5 307h.01M371.5 307h.01M374 307h.01M380 307h.01M393 307h.01M399 307h.01M405.5 307h.01M408.5 307h.01M428 307h.01M430 307h.01M447 307h.01M455.5 307h.01M487 307h.01M488.5 307h.01M508 307h.01M508.5 307h.01M511.5 307h.01M514 307h.01M516.5 307h.01M538.5 307h.01M82 309.4h.01M87.5 309.4h.01M125 309.4h.01M131 309.4h.01M168 309.4h.01M218.5 309.4h.01M219 309.4h.01M243 309.4h.01M244.5 309.4h.01M256 309.4h.01M263 309.4h.01M270.5 309.4h.01M271 309.4h.01M275.5 309.4h.01M281 309.4h.01M285 309.4h.01M286 309.4h.01M288 309.4h.01M288.5 309.4h.01M293.5 309.4h.01M294.5 309.4h.01M295 309.4h.01M295.5 309.4h.01M296.5 309.4h.01M299 309.4h.01M299.5 309.4h.01M307.5 309.4h.01M310 309.4h.01M311.5 309.4h.01M313.5 309.4h.01M315.5 309.4h.01M316.5 309.4h.01M317 309.4h.01M319 309.4h.01M322 309.4h.01M323.5 309.4h.01M324.5 309.4h.01M327.5 309.4h.01M328.5 309.4h.01M330.5 309.4h.01M331.5 309.4h.01M332.5 309.4h.01M334.5 309.4h.01M335.5 309.4h.01M336.5 309.4h.01M337 309.4h.01M338 309.4h.01M340.5 309.4h.01M342.5 309.4h.01M346.5 309.4h.01M351 309.4h.01M358 309.4h.01M360.5 309.4h.01M372 309.4h.01M376.5 309.4h.01M377 309.4h.01M382.5 309.4h.01M400 309.4h.01M405 309.4h.01M416 309.4h.01M419.5 309.4h.01M422.5 309.4h.01M434 309.4h.01M437.5 309.4h.01M444.5 309.4h.01M453.5 309.4h.01M459.5 309.4h.01M461 309.4h.01M463.5 309.4h.01M473.5 309.4h.01M486.5 309.4h.01M489.5 309.4h.01M491.5 309.4h.01M497.5 309.4h.01M499.5 309.4h.01M507 309.4h.01M515 309.4h.01M517 309.4h.01M524 309.4h.01M534.5 309.4h.01M567.5 309.4h.01M570 309.4h.01M570.5 309.4h.01M93 311.7h.01M97.5 311.7h.01M123.5 311.7h.01M131 311.7h.01M135 311.7h.01M138 311.7h.01M179.5 311.7h.01M181 311.7h.01M212 311.7h.01M244 311.7h.01M254 311.7h.01M257.5 311.7h.01M269 311.7h.01M276 311.7h.01M281.5 311.7h.01M292 311.7h.01M303 311.7h.01M304.5 311.7h.01M309 311.7h.01M310 311.7h.01M315 311.7h.01M316.5 311.7h.01M318.5 311.7h.01M319 311.7h.01M321 311.7h.01M322 311.7h.01M323 311.7h.01M324 311.7h.01M325 311.7h.01M325.5 311.7h.01M327.5 311.7h.01M328 311.7h.01M330.5 311.7h.01M332.5 311.7h.01M334 311.7h.01M337 311.7h.01M338 311.7h.01M340 311.7h.01M342.5 311.7h.01M343 311.7h.01M345 311.7h.01M348 311.7h.01M350.5 311.7h.01M352.5 311.7h.01M354.5 311.7h.01M355.5 311.7h.01M363 311.7h.01M364 311.7h.01M365.5 311.7h.01M373 311.7h.01M388 311.7h.01M392.5 311.7h.01M419.5 311.7h.01M436 311.7h.01M437 311.7h.01M444.5 311.7h.01M447.5 311.7h.01M457 311.7h.01M477.5 311.7h.01M479.5 311.7h.01M484 311.7h.01M486.5 311.7h.01M513.5 311.7h.01M522 311.7h.01M525 311.7h.01M525.5 311.7h.01M532 311.7h.01M550 311.7h.01M557.5 311.7h.01M564 311.7h.01M570.5 311.7h.01M572 311.7h.01M81 314h.01M89 314h.01M98.5 314h.01M107 314h.01M114 314h.01M149 314h.01M161.5 314h.01M172.5 314h.01M174.5 314h.01M175.5 314h.01M177.5 314h.01M183.5 314h.01M212 314h.01M222.5 314h.01M235 314h.01M242.5 314h.01M251.5 314h.01M258.5 314h.01M266.5 314h.01M279 314h.01M287 314h.01M288 314h.01M296 314h.01M299 314h.01M303 314h.01M312 314h.01M314 314h.01M316 314h.01M317 314h.01M320 314h.01M320.5 314h.01M322 314h.01M323.5 314h.01M326 314h.01M326.5 314h.01M327 314h.01M329 314h.01M330 314h.01M332 314h.01M334 314h.01M335 314h.01M335.5 314h.01M337.5 314h.01M339.5 314h.01M341 314h.01M343 314h.01M346.5 314h.01M349 314h.01M368.5 314h.01M374.5 314h.01M386.5 314h.01M387 314h.01M390 314h.01M397 314h.01M408.5 314h.01M409.5 314h.01M423 314h.01M430 314h.01M441 314h.01M460.5 314h.01M461 314h.01M467 314h.01M469.5 314h.01M476.5 314h.01M488.5 314h.01M497 314h.01M512 314h.01M516 314h.01M534.5 314h.01M566 314h.01M81.5 316.4h.01M93.5 316.4h.01M99.5 316.4h.01M115 316.4h.01M131.5 316.4h.01M132.5 316.4h.01M138.5 316.4h.01M142.5 316.4h.01M150 316.4h.01M162.5 316.4h.01M171.5 316.4h.01M197.5 316.4h.01M199 316.4h.01M213.5 316.4h.01M252.5 316.4h.01M254.5 316.4h.01M261.5 316.4h.01M263.5 316.4h.01M265.5 316.4h.01M268 316.4h.01M270.5 316.4h.01M283.5 316.4h.01M284 316.4h.01M289.5 316.4h.01M299 316.4h.01M302.5 316.4h.01M304 316.4h.01M305.5 316.4h.01M308 316.4h.01M309 316.4h.01M309.5 316.4h.01M310.5 316.4h.01M314 316.4h.01M315 316.4h.01M322.5 316.4h.01M324 316.4h.01M324.5 316.4h.01M325 316.4h.01M326.5 316.4h.01M329 316.4h.01M329.5 316.4h.01M332 316.4h.01M334.5 316.4h.01M335 316.4h.01M336.5 316.4h.01M337 316.4h.01M340 316.4h.01M341.5 316.4h.01M347.5 316.4h.01M354 316.4h.01M357 316.4h.01M358.5 316.4h.01M359.5 316.4h.01M368 316.4h.01M372.5 316.4h.01M386 316.4h.01M386.5 316.4h.01M387 316.4h.01M399.5 316.4h.01M406 316.4h.01M414 316.4h.01M432 316.4h.01M438 316.4h.01M459 316.4h.01M474 316.4h.01M502 316.4h.01M513 316.4h.01M530 316.4h.01M534 316.4h.01M552 316.4h.01M555 316.4h.01M555.5 316.4h.01M560 316.4h.01M567.5 316.4h.01M572.5 316.4h.01M84 318.7h.01M89 318.7h.01M108.5 318.7h.01M119 318.7h.01M122 318.7h.01M127 318.7h.01M141.5 318.7h.01M147.5 318.7h.01M156 318.7h.01M158 318.7h.01M176.5 318.7h.01M177.5 318.7h.01M185.5 318.7h.01M206.5 318.7h.01M219 318.7h.01M222.5 318.7h.01M233.5 318.7h.01M241 318.7h.01M257.5 318.7h.01M258 318.7h.01M259 318.7h.01M268.5 318.7h.01M274 318.7h.01M274.5 318.7h.01M286 318.7h.01M289 318.7h.01M290 318.7h.01M292.5 318.7h.01M295 318.7h.01M297.5 318.7h.01M301 318.7h.01M306.5 318.7h.01M315.5 318.7h.01M317 318.7h.01M318 318.7h.01M320.5 318.7h.01M321.5 318.7h.01M323.5 318.7h.01M324 318.7h.01M327 318.7h.01M329 318.7h.01M330.5 318.7h.01M335.5 318.7h.01M336.5 318.7h.01M337 318.7h.01M341 318.7h.01M352 318.7h.01M363 318.7h.01M364 318.7h.01M367 318.7h.01M370 318.7h.01M378 318.7h.01M417 318.7h.01M424.5 318.7h.01M429 318.7h.01M444.5 318.7h.01M484.5 318.7h.01M510.5 318.7h.01M531.5 318.7h.01M552 318.7h.01M558.5 318.7h.01M97.5 321h.01M98.5 321h.01M101 321h.01M102.5 321h.01M114 321h.01M115 321h.01M122 321h.01M125.5 321h.01M132.5 321h.01M146 321h.01M153.5 321h.01M154 321h.01M156 321h.01M160.5 321h.01M165 321h.01M172 321h.01M176 321h.01M197.5 321h.01M208.5 321h.01M211.5 321h.01M218 321h.01M226.5 321h.01M227.5 321h.01M256 321h.01M271.5 321h.01M276.5 321h.01M289 321h.01M300.5 321h.01M301.5 321h.01M304 321h.01M306 321h.01M306.5 321h.01M313 321h.01M318.5 321h.01M319 321h.01M320 321h.01M320.5 321h.01M322 321h.01M323 321h.01M327.5 321h.01M330.5 321h.01M331.5 321h.01M334 321h.01M334.5 321h.01M335.5 321h.01M336.5 321h.01M340.5 321h.01M342 321h.01M344 321h.01M349 321h.01M351.5 321h.01M372 321h.01M374.5 321h.01M375 321h.01M375.5 321h.01M376.5 321h.01M391.5 321h.01M397 321h.01M402 321h.01M404 321h.01M414.5 321h.01M419 321h.01M452.5 321h.01M468 321h.01M478 321h.01M489 321h.01M500 321h.01M508 321h.01M528.5 321h.01M534 321h.01M550.5 321h.01M552.5 321h.01M556 321h.01M557 321h.01M560 321h.01M92.5 323.3h.01M99 323.3h.01M109.5 323.3h.01M121.5 323.3h.01M128.5 323.3h.01M131 323.3h.01M142 323.3h.01M148.5 323.3h.01M159 323.3h.01M159.5 323.3h.01M198 323.3h.01M230.5 323.3h.01M237.5 323.3h.01M269.5 323.3h.01M270.5 323.3h.01M276.5 323.3h.01M283 323.3h.01M289 323.3h.01M290.5 323.3h.01M293 323.3h.01M295 323.3h.01M299 323.3h.01M305 323.3h.01M309 323.3h.01M309.5 323.3h.01M312 323.3h.01M315 323.3h.01M319.5 323.3h.01M322.5 323.3h.01M324.5 323.3h.01M326 323.3h.01M328.5 323.3h.01M329 323.3h.01M330.5 323.3h.01M334.5 323.3h.01M336 323.3h.01M338.5 323.3h.01M340 323.3h.01M348.5 323.3h.01M350 323.3h.01M351.5 323.3h.01M356 323.3h.01M356.5 323.3h.01M360 323.3h.01M361 323.3h.01M370 323.3h.01M374 323.3h.01M376 323.3h.01M395 323.3h.01M404.5 323.3h.01M413 323.3h.01M419 323.3h.01M420.5 323.3h.01M456 323.3h.01M459.5 323.3h.01M461 323.3h.01M466.5 323.3h.01M472 323.3h.01M478 323.3h.01M483 323.3h.01M487.5 323.3h.01M502 323.3h.01M505.5 323.3h.01M513 323.3h.01M516.5 323.3h.01M535 323.3h.01M547 323.3h.01M81 325.7h.01M91.5 325.7h.01M114 325.7h.01M148.5 325.7h.01M155 325.7h.01M163.5 325.7h.01M182.5 325.7h.01M211.5 325.7h.01M218 325.7h.01M239.5 325.7h.01M254.5 325.7h.01M255 325.7h.01M257 325.7h.01M269.5 325.7h.01M285.5 325.7h.01M286 325.7h.01M287.5 325.7h.01M289 325.7h.01M294.5 325.7h.01M306 325.7h.01M314 325.7h.01M314.5 325.7h.01M316 325.7h.01M317 325.7h.01M321 325.7h.01M324 325.7h.01M325 325.7h.01M325.5 325.7h.01M327.5 325.7h.01M328 325.7h.01M328.5 325.7h.01M334 325.7h.01M335 325.7h.01M341.5 325.7h.01M343.5 325.7h.01M348.5 325.7h.01M349 325.7h.01M356 325.7h.01M361.5 325.7h.01M366 325.7h.01M372 325.7h.01M374 325.7h.01M388.5 325.7h.01M413.5 325.7h.01M415 325.7h.01M419 325.7h.01M430.5 325.7h.01M432.5 325.7h.01M439 325.7h.01M439.5 325.7h.01M468.5 325.7h.01M474.5 325.7h.01M475 325.7h.01M481.5 325.7h.01M485 325.7h.01M488.5 325.7h.01M492.5 325.7h.01M503 325.7h.01M504.5 325.7h.01M518 325.7h.01M534 325.7h.01M535 325.7h.01M535.5 325.7h.01M546 325.7h.01M560.5 325.7h.01M111.5 328h.01M115 328h.01M132.5 328h.01M151 328h.01M152.5 328h.01M153 328h.01M163.5 328h.01M164.5 328h.01M179.5 328h.01M185.5 328h.01M218.5 328h.01M221.5 328h.01M233 328h.01M236.5 328h.01M242 328h.01M245.5 328h.01M246 328h.01M249.5 328h.01M253.5 328h.01M263 328h.01M266 328h.01M269.5 328h.01M276 328h.01M277.5 328h.01M280 328h.01M282.5 328h.01M283 328h.01M285 328h.01M286.5 328h.01M302 328h.01M304 328h.01M306 328h.01M312.5 328h.01M313.5 328h.01M314 328h.01M314.5 328h.01M315 328h.01M316 328h.01M317 328h.01M321.5 328h.01M322.5 328h.01M323 328h.01M325 328h.01M326.5 328h.01M327.5 328h.01M329.5 328h.01M330.5 328h.01M331.5 328h.01M336.5 328h.01M358.5 328h.01M359 328h.01M372.5 328h.01M375.5 328h.01M382 328h.01M401.5 328h.01M413 328h.01M415.5 328h.01M451 328h.01M455 328h.01M490 328h.01M495.5 328h.01M544 328h.01M550 328h.01M554 328h.01M557.5 328h.01M571.5 328h.01M93 330.3h.01M96.5 330.3h.01M104 330.3h.01M111.5 330.3h.01M128 330.3h.01M150 330.3h.01M165 330.3h.01M169.5 330.3h.01M170.5 330.3h.01M172.5 330.3h.01M185.5 330.3h.01M191 330.3h.01M198 330.3h.01M203 330.3h.01M234.5 330.3h.01M235 330.3h.01M246 330.3h.01M252 330.3h.01M265.5 330.3h.01M269 330.3h.01M280 330.3h.01M284.5 330.3h.01M286 330.3h.01M288.5 330.3h.01M289 330.3h.01M298.5 330.3h.01M301 330.3h.01M303 330.3h.01M307 330.3h.01M309.5 330.3h.01M310 330.3h.01M310.5 330.3h.01M320 330.3h.01M322.5 330.3h.01M326.5 330.3h.01M327 330.3h.01M327.5 330.3h.01M328.5 330.3h.01M329 330.3h.01M332 330.3h.01M336.5 330.3h.01M338.5 330.3h.01M346 330.3h.01M346.5 330.3h.01M356.5 330.3h.01M357 330.3h.01M358 330.3h.01M365 330.3h.01M366.5 330.3h.01M369 330.3h.01M373.5 330.3h.01M379 330.3h.01M395 330.3h.01M397 330.3h.01M401.5 330.3h.01M410 330.3h.01M431.5 330.3h.01M446 330.3h.01M448.5 330.3h.01M485.5 330.3h.01M526.5 330.3h.01M527 330.3h.01M534.5 330.3h.01M543.5 330.3h.01M547.5 330.3h.01M562.5 330.3h.01M81.5 332.6h.01M86.5 332.6h.01M104.5 332.6h.01M121 332.6h.01M125.5 332.6h.01M129.5 332.6h.01M142.5 332.6h.01M147 332.6h.01M150.5 332.6h.01M153.5 332.6h.01M154 332.6h.01M156 332.6h.01M157 332.6h.01M161.5 332.6h.01M173 332.6h.01M183.5 332.6h.01M192.5 332.6h.01M194.5 332.6h.01M206.5 332.6h.01M216.5 332.6h.01M217 332.6h.01M217.5 332.6h.01M219 332.6h.01M222.5 332.6h.01M224.5 332.6h.01M225 332.6h.01M236.5 332.6h.01M238.5 332.6h.01M239.5 332.6h.01M243.5 332.6h.01M252 332.6h.01M265 332.6h.01M265.5 332.6h.01M288 332.6h.01M295.5 332.6h.01M303.5 332.6h.01M304.5 332.6h.01M308.5 332.6h.01M309.5 332.6h.01M314 332.6h.01M320 332.6h.01M321.5 332.6h.01M323.5 332.6h.01M324 332.6h.01M325.5 332.6h.01M326.5 332.6h.01M328 332.6h.01M332 332.6h.01M337.5 332.6h.01M340.5 332.6h.01M343.5 332.6h.01M347 332.6h.01M350.5 332.6h.01M362.5 332.6h.01M366 332.6h.01M377.5 332.6h.01M381 332.6h.01M381.5 332.6h.01M393 332.6h.01M400 332.6h.01M410.5 332.6h.01M411.5 332.6h.01M418.5 332.6h.01M421.5 332.6h.01M431 332.6h.01M435 332.6h.01M449 332.6h.01M465.5 332.6h.01M468.5 332.6h.01M471.5 332.6h.01M477 332.6h.01M486 332.6h.01M496.5 332.6h.01M514.5 332.6h.01M516.5 332.6h.01M551.5 332.6h.01M561 332.6h.01M562.5 332.6h.01M82.5 335h.01M122 335h.01M134.5 335h.01M138 335h.01M148 335h.01M154 335h.01M160 335h.01M168 335h.01M171 335h.01M184.5 335h.01M193 335h.01M208.5 335h.01M209 335h.01M216 335h.01M218 335h.01M234 335h.01M254.5 335h.01M276 335h.01M283.5 335h.01M297.5 335h.01M298 335h.01M298.5 335h.01M299.5 335h.01M303 335h.01M307 335h.01M311.5 335h.01M318.5 335h.01M319.5 335h.01M324 335h.01M326 335h.01M326.5 335h.01M327 335h.01M328.5 335h.01M329.5 335h.01M331 335h.01M338.5 335h.01M345.5 335h.01M352.5 335h.01M353 335h.01M356.5 335h.01M357 335h.01M366 335h.01M396 335h.01M416 335h.01M418 335h.01M447.5 335h.01M448.5 335h.01M472 335h.01M492 335h.01M501.5 335h.01M518 335h.01M520.5 335h.01M525.5 335h.01M539.5 335h.01M543.5 335h.01M547 335h.01M552.5 335h.01M554.5 335h.01M567 335h.01M93.5 337.3h.01M101 337.3h.01M113.5 337.3h.01M122 337.3h.01M122.5 337.3h.01M123.5 337.3h.01M137.5 337.3h.01M148.5 337.3h.01M155 337.3h.01M165 337.3h.01M165.5 337.3h.01M169 337.3h.01M170 337.3h.01M184 337.3h.01M215.5 337.3h.01M226.5 337.3h.01M241 337.3h.01M243.5 337.3h.01M248 337.3h.01M271.5 337.3h.01M283.5 337.3h.01M287.5 337.3h.01M289.5 337.3h.01M290 337.3h.01M298.5 337.3h.01M300.5 337.3h.01M301 337.3h.01M302.5 337.3h.01M305.5 337.3h.01M306 337.3h.01M306.5 337.3h.01M309 337.3h.01M316.5 337.3h.01M317.5 337.3h.01M319 337.3h.01M320.5 337.3h.01M322 337.3h.01M329 337.3h.01M329.5 337.3h.01M340.5 337.3h.01M342.5 337.3h.01M343 337.3h.01M346 337.3h.01M354.5 337.3h.01M356.5 337.3h.01M357.5 337.3h.01M360 337.3h.01M374.5 337.3h.01M380.5 337.3h.01M392 337.3h.01M403.5 337.3h.01M407 337.3h.01M417.5 337.3h.01M419 337.3h.01M420.5 337.3h.01M446 337.3h.01M446.5 337.3h.01M457 337.3h.01M458.5 337.3h.01M460 337.3h.01M477 337.3h.01M482 337.3h.01M484.5 337.3h.01M494 337.3h.01M499.5 337.3h.01M515 337.3h.01M516 337.3h.01M532.5 337.3h.01M535 337.3h.01M535.5 337.3h.01M544.5 337.3h.01M547 337.3h.01M552.5 337.3h.01M557 337.3h.01M561.5 337.3h.01M92.5 339.6h.01M95 339.6h.01M101 339.6h.01M104 339.6h.01M121 339.6h.01M122.5 339.6h.01M132.5 339.6h.01M147 339.6h.01M149 339.6h.01M156 339.6h.01M160.5 339.6h.01M165.5 339.6h.01M173.5 339.6h.01M186 339.6h.01M199 339.6h.01M210.5 339.6h.01M214.5 339.6h.01M215 339.6h.01M234.5 339.6h.01M257.5 339.6h.01M262 339.6h.01M265.5 339.6h.01M269.5 339.6h.01M271 339.6h.01M286 339.6h.01M291 339.6h.01M291.5 339.6h.01M294.5 339.6h.01M298.5 339.6h.01M301.5 339.6h.01M306.5 339.6h.01M308 339.6h.01M313 339.6h.01M318.5 339.6h.01M321 339.6h.01M324 339.6h.01M325.5 339.6h.01M327.5 339.6h.01M328.5 339.6h.01M331.5 339.6h.01M337.5 339.6h.01M342.5 339.6h.01M343.5 339.6h.01M344 339.6h.01M345 339.6h.01M345.5 339.6h.01M346 339.6h.01M346.5 339.6h.01M350.5 339.6h.01M351.5 339.6h.01M356 339.6h.01M362 339.6h.01M366.5 339.6h.01M369.5 339.6h.01M372.5 339.6h.01M374.5 339.6h.01M384 339.6h.01M390 339.6h.01M398.5 339.6h.01M407.5 339.6h.01M425 339.6h.01M439.5 339.6h.01M440.5 339.6h.01M442.5 339.6h.01M458 339.6h.01M471 339.6h.01M478 339.6h.01M496.5 339.6h.01M523.5 339.6h.01M528.5 339.6h.01M530 339.6h.01M539 339.6h.01M546.5 339.6h.01M568 339.6h.01M568.5 339.6h.01M97 341.9h.01M104 341.9h.01M110.5 341.9h.01M116 341.9h.01M119.5 341.9h.01M126.5 341.9h.01M131 341.9h.01M148.5 341.9h.01M155 341.9h.01M155.5 341.9h.01M168 341.9h.01M179.5 341.9h.01M199 341.9h.01M209 341.9h.01M218.5 341.9h.01M221.5 341.9h.01M227 341.9h.01M232.5 341.9h.01M246 341.9h.01M248.5 341.9h.01M275.5 341.9h.01M278 341.9h.01M285.5 341.9h.01M287.5 341.9h.01M291.5 341.9h.01M296 341.9h.01M296.5 341.9h.01M300 341.9h.01M306 341.9h.01M309 341.9h.01M310.5 341.9h.01M311 341.9h.01M311.5 341.9h.01M313 341.9h.01M315 341.9h.01M320.5 341.9h.01M321 341.9h.01M325.5 341.9h.01M327 341.9h.01M329.5 341.9h.01M330.5 341.9h.01M337 341.9h.01M338.5 341.9h.01M339.5 341.9h.01M348 341.9h.01M355 341.9h.01M355.5 341.9h.01M362 341.9h.01M364 341.9h.01M364.5 341.9h.01M367.5 341.9h.01M369 341.9h.01M373.5 341.9h.01M374 341.9h.01M376 341.9h.01M382 341.9h.01M383.5 341.9h.01M386 341.9h.01M387 341.9h.01M393 341.9h.01M411.5 341.9h.01M423 341.9h.01M424.5 341.9h.01M427.5 341.9h.01M432.5 341.9h.01M439.5 341.9h.01M472 341.9h.01M478 341.9h.01M483.5 341.9h.01M485 341.9h.01M496 341.9h.01M504.5 341.9h.01M514.5 341.9h.01M517.5 341.9h.01M537.5 341.9h.01M552.5 341.9h.01M557.5 341.9h.01M560.5 341.9h.01M566 341.9h.01M89 344.3h.01M96.5 344.3h.01M120 344.3h.01M145.5 344.3h.01M151.5 344.3h.01M171 344.3h.01M173 344.3h.01M178.5 344.3h.01M192 344.3h.01M195.5 344.3h.01M201 344.3h.01M202 344.3h.01M202.5 344.3h.01M209.5 344.3h.01M223 344.3h.01M224.5 344.3h.01M236 344.3h.01M239 344.3h.01M251.5 344.3h.01M261 344.3h.01M262 344.3h.01M272 344.3h.01M279.5 344.3h.01M280 344.3h.01M281.5 344.3h.01M293.5 344.3h.01M301.5 344.3h.01M306.5 344.3h.01M318.5 344.3h.01M322 344.3h.01M323.5 344.3h.01M326.5 344.3h.01M327 344.3h.01M327.5 344.3h.01M333 344.3h.01M333.5 344.3h.01M334 344.3h.01M340.5 344.3h.01M342.5 344.3h.01M343 344.3h.01M345 344.3h.01M362.5 344.3h.01M364 344.3h.01M364.5 344.3h.01M373 344.3h.01M376.5 344.3h.01M387.5 344.3h.01M390 344.3h.01M420 344.3h.01M426 344.3h.01M450 344.3h.01M485 344.3h.01M491.5 344.3h.01M505 344.3h.01M510 344.3h.01M515.5 344.3h.01M517 344.3h.01M526.5 344.3h.01M555 344.3h.01M561.5 344.3h.01M569 344.3h.01M88 346.6h.01M105.5 346.6h.01M107.5 346.6h.01M108 346.6h.01M113 346.6h.01M116 346.6h.01M128.5 346.6h.01M133.5 346.6h.01M138 346.6h.01M162.5 346.6h.01M171.5 346.6h.01M175.5 346.6h.01M195 346.6h.01M209 346.6h.01M209.5 346.6h.01M225.5 346.6h.01M226.5 346.6h.01M239 346.6h.01M241 346.6h.01M243 346.6h.01M245 346.6h.01M258 346.6h.01M259 346.6h.01M275.5 346.6h.01M294.5 346.6h.01M300.5 346.6h.01M303 346.6h.01M307.5 346.6h.01M311 346.6h.01M312.5 346.6h.01M314 346.6h.01M315.5 346.6h.01M322 346.6h.01M328 346.6h.01M331.5 346.6h.01M334.5 346.6h.01M340 346.6h.01M341.5 346.6h.01M345.5 346.6h.01M351 346.6h.01M351.5 346.6h.01M360.5 346.6h.01M366.5 346.6h.01M367 346.6h.01M371 346.6h.01M400.5 346.6h.01M402.5 346.6h.01M408.5 346.6h.01M420 346.6h.01M425.5 346.6h.01M450.5 346.6h.01M451.5 346.6h.01M491 346.6h.01M491.5 346.6h.01M495 346.6h.01M498 346.6h.01M500 346.6h.01M501 346.6h.01M514 346.6h.01M521.5 346.6h.01M536.5 346.6h.01M545 346.6h.01M549.5 346.6h.01M558 346.6h.01M572.5 346.6h.01M82 348.9h.01M84 348.9h.01M85.5 348.9h.01M88.5 348.9h.01M108 348.9h.01M113.5 348.9h.01M119.5 348.9h.01M120 348.9h.01M126 348.9h.01M129 348.9h.01M133 348.9h.01M146.5 348.9h.01M175.5 348.9h.01M181 348.9h.01M184.5 348.9h.01M190.5 348.9h.01M191 348.9h.01M192.5 348.9h.01M198 348.9h.01M209.5 348.9h.01M221 348.9h.01M226.5 348.9h.01M228 348.9h.01M239 348.9h.01M261.5 348.9h.01M262 348.9h.01M286.5 348.9h.01M298.5 348.9h.01M301 348.9h.01M304 348.9h.01M307 348.9h.01M309 348.9h.01M312.5 348.9h.01M314 348.9h.01M315.5 348.9h.01M317 348.9h.01M319 348.9h.01M322 348.9h.01M323.5 348.9h.01M325 348.9h.01M327.5 348.9h.01M329.5 348.9h.01M330 348.9h.01M330.5 348.9h.01M333.5 348.9h.01M334 348.9h.01M339.5 348.9h.01M344.5 348.9h.01M348 348.9h.01M349.5 348.9h.01M374.5 348.9h.01M375.5 348.9h.01M390.5 348.9h.01M408 348.9h.01M411 348.9h.01M414.5 348.9h.01M417.5 348.9h.01M421.5 348.9h.01M427 348.9h.01M436.5 348.9h.01M443 348.9h.01M444.5 348.9h.01M456 348.9h.01M460.5 348.9h.01M473 348.9h.01M492.5 348.9h.01M509.5 348.9h.01M517 348.9h.01M531 348.9h.01M550.5 348.9h.01M553.5 348.9h.01M560.5 348.9h.01M566.5 348.9h.01M572 348.9h.01M119 351.2h.01M133 351.2h.01M145 351.2h.01M150 351.2h.01M152 351.2h.01M162 351.2h.01M176 351.2h.01M185.5 351.2h.01M195.5 351.2h.01M197.5 351.2h.01M213 351.2h.01M217.5 351.2h.01M240 351.2h.01M246 351.2h.01M265.5 351.2h.01M269.5 351.2h.01M282 351.2h.01M307 351.2h.01M317 351.2h.01M318 351.2h.01M322 351.2h.01M322.5 351.2h.01M326.5 351.2h.01M327.5 351.2h.01M328.5 351.2h.01M329 351.2h.01M330 351.2h.01M332.5 351.2h.01M333 351.2h.01M338 351.2h.01M347 351.2h.01M347.5 351.2h.01M348 351.2h.01M350.5 351.2h.01M351 351.2h.01M354 351.2h.01M355 351.2h.01M359 351.2h.01M365.5 351.2h.01M378.5 351.2h.01M389 351.2h.01M392 351.2h.01M409.5 351.2h.01M412.5 351.2h.01M420.5 351.2h.01M422 351.2h.01M422.5 351.2h.01M424 351.2h.01M447.5 351.2h.01M454.5 351.2h.01M461.5 351.2h.01M474.5 351.2h.01M480.5 351.2h.01M497 351.2h.01M515 351.2h.01M516.5 351.2h.01M518 351.2h.01M526 351.2h.01M538.5 351.2h.01M553.5 351.2h.01M559.5 351.2h.01M571.5 351.2h.01M109 353.6h.01M117 353.6h.01M122 353.6h.01M129.5 353.6h.01M130 353.6h.01M140.5 353.6h.01M157.5 353.6h.01M159.5 353.6h.01M165.5 353.6h.01M167 353.6h.01M177.5 353.6h.01M223.5 353.6h.01M233.5 353.6h.01M249 353.6h.01M261 353.6h.01M267 353.6h.01M269.5 353.6h.01M290.5 353.6h.01M292.5 353.6h.01M294 353.6h.01M295 353.6h.01M295.5 353.6h.01M297 353.6h.01M297.5 353.6h.01M298.5 353.6h.01M305 353.6h.01M311.5 353.6h.01M316.5 353.6h.01M324 353.6h.01M325.5 353.6h.01M327.5 353.6h.01M328 353.6h.01M329.5 353.6h.01M330.5 353.6h.01M334 353.6h.01M335 353.6h.01M337.5 353.6h.01M345.5 353.6h.01M351 353.6h.01M356 353.6h.01M359.5 353.6h.01M368 353.6h.01M371 353.6h.01M372 353.6h.01M385.5 353.6h.01M402.5 353.6h.01M407 353.6h.01M409.5 353.6h.01M418.5 353.6h.01M436 353.6h.01M453.5 353.6h.01M460.5 353.6h.01M463.5 353.6h.01M478 353.6h.01M482.5 353.6h.01M485.5 353.6h.01M496 353.6h.01M508 353.6h.01M523.5 353.6h.01M526.5 353.6h.01M538 353.6h.01M539.5 353.6h.01M558 353.6h.01M85 355.9h.01M92 355.9h.01M94.5 355.9h.01M100 355.9h.01M105 355.9h.01M114 355.9h.01M115.5 355.9h.01M117.5 355.9h.01M123 355.9h.01M150.5 355.9h.01M155 355.9h.01M162.5 355.9h.01M163 355.9h.01M204 355.9h.01M205 355.9h.01M207 355.9h.01M226.5 355.9h.01M234 355.9h.01M255 355.9h.01M259 355.9h.01M273.5 355.9h.01M282.5 355.9h.01M290.5 355.9h.01M295.5 355.9h.01M302 355.9h.01M303 355.9h.01M308 355.9h.01M315.5 355.9h.01M318.5 355.9h.01M320 355.9h.01M322 355.9h.01M323.5 355.9h.01M324 355.9h.01M324.5 355.9h.01M325 355.9h.01M325.5 355.9h.01M327 355.9h.01M330 355.9h.01M334 355.9h.01M335.5 355.9h.01M339.5 355.9h.01M340 355.9h.01M342 355.9h.01M346.5 355.9h.01M347 355.9h.01M349 355.9h.01M363.5 355.9h.01M371 355.9h.01M391.5 355.9h.01M406 355.9h.01M410 355.9h.01M411.5 355.9h.01M420.5 355.9h.01M432 355.9h.01M438 355.9h.01M443.5 355.9h.01M450 355.9h.01M454 355.9h.01M460 355.9h.01M462.5 355.9h.01M463 355.9h.01M471.5 355.9h.01M487 355.9h.01M487.5 355.9h.01M490 355.9h.01M498.5 355.9h.01M545.5 355.9h.01M554.5 355.9h.01M564.5 355.9h.01M81.5 358.2h.01M82.5 358.2h.01M103.5 358.2h.01M116.5 358.2h.01M147 358.2h.01M149 358.2h.01M150 358.2h.01M150.5 358.2h.01M160 358.2h.01M161 358.2h.01M162 358.2h.01M166.5 358.2h.01M169.5 358.2h.01M176.5 358.2h.01M177 358.2h.01M183.5 358.2h.01M185.5 358.2h.01M190 358.2h.01M196 358.2h.01M199.5 358.2h.01M224 358.2h.01M226 358.2h.01M233.5 358.2h.01M244 358.2h.01M273 358.2h.01M279 358.2h.01M291.5 358.2h.01M293 358.2h.01M297 358.2h.01M298.5 358.2h.01M318.5 358.2h.01M319 358.2h.01M321.5 358.2h.01M323.5 358.2h.01M325 358.2h.01M332.5 358.2h.01M342 358.2h.01M345 358.2h.01M350 358.2h.01M354.5 358.2h.01M356.5 358.2h.01M362 358.2h.01M365 358.2h.01M376 358.2h.01M380.5 358.2h.01M402.5 358.2h.01M422.5 358.2h.01M426 358.2h.01M428.5 358.2h.01M430.5 358.2h.01M468 358.2h.01M469 358.2h.01M469.5 358.2h.01M485 358.2h.01M487.5 358.2h.01M488.5 358.2h.01M490.5 358.2h.01M528.5 358.2h.01M530 358.2h.01M114.5 360.5h.01M117 360.5h.01M120.5 360.5h.01M129.5 360.5h.01M134 360.5h.01M137 360.5h.01M146.5 360.5h.01M165.5 360.5h.01M176 360.5h.01M181.5 360.5h.01M186 360.5h.01M196.5 360.5h.01M201.5 360.5h.01M221.5 360.5h.01M223.5 360.5h.01M235.5 360.5h.01M254.5 360.5h.01M275.5 360.5h.01M278.5 360.5h.01M288.5 360.5h.01M300.5 360.5h.01M305 360.5h.01M305.5 360.5h.01M306 360.5h.01M310.5 360.5h.01M311.5 360.5h.01M312.5 360.5h.01M317.5 360.5h.01M321 360.5h.01M333 360.5h.01M344 360.5h.01M347.5 360.5h.01M351.5 360.5h.01M354.5 360.5h.01M379.5 360.5h.01M380 360.5h.01M408.5 360.5h.01M409 360.5h.01M453.5 360.5h.01M454 360.5h.01M464.5 360.5h.01M469.5 360.5h.01M470.5 360.5h.01M489 360.5h.01M519.5 360.5h.01M522.5 360.5h.01M525.5 360.5h.01M531.5 360.5h.01M533 360.5h.01M550.5 360.5h.01M561 360.5h.01M572 360.5h.01M104.5 362.9h.01M164 362.9h.01M182.5 362.9h.01M187.5 362.9h.01M234 362.9h.01M245.5 362.9h.01M262 362.9h.01M265 362.9h.01M268 362.9h.01M270 362.9h.01M286 362.9h.01M286.5 362.9h.01M288.5 362.9h.01M290.5 362.9h.01M307 362.9h.01M314.5 362.9h.01M315.5 362.9h.01M318.5 362.9h.01M323 362.9h.01M328.5 362.9h.01M355 362.9h.01M364.5 362.9h.01M368.5 362.9h.01M371 362.9h.01M381 362.9h.01M382 362.9h.01M398.5 362.9h.01M403.5 362.9h.01M405 362.9h.01M410 362.9h.01M414.5 362.9h.01M416.5 362.9h.01M425 362.9h.01M434 362.9h.01M455 362.9h.01M462 362.9h.01M495.5 362.9h.01M501 362.9h.01M519 362.9h.01M519.5 362.9h.01M520.5 362.9h.01M523 362.9h.01M534 362.9h.01M536 362.9h.01M554 362.9h.01M563.5 362.9h.01M570 362.9h.01M97 365.2h.01M99.5 365.2h.01M107.5 365.2h.01M120.5 365.2h.01M123 365.2h.01M129.5 365.2h.01M143 365.2h.01M161 365.2h.01M179 365.2h.01M198 365.2h.01M204.5 365.2h.01M217 365.2h.01M217.5 365.2h.01M250.5 365.2h.01M274.5 365.2h.01M278 365.2h.01M298 365.2h.01M299.5 365.2h.01M303 365.2h.01M303.5 365.2h.01M307 365.2h.01M311.5 365.2h.01M314 365.2h.01M316 365.2h.01M319 365.2h.01M320 365.2h.01M320.5 365.2h.01M326 365.2h.01M326.5 365.2h.01M327 365.2h.01M328.5 365.2h.01M329.5 365.2h.01M330 365.2h.01M331 365.2h.01M332.5 365.2h.01M335.5 365.2h.01M339.5 365.2h.01M343.5 365.2h.01M346 365.2h.01M350.5 365.2h.01M353.5 365.2h.01M359.5 365.2h.01M361.5 365.2h.01M377 365.2h.01M399.5 365.2h.01M406.5 365.2h.01M408 365.2h.01M412.5 365.2h.01M428.5 365.2h.01M436.5 365.2h.01M442 365.2h.01M456.5 365.2h.01M482 365.2h.01M484.5 365.2h.01M497 365.2h.01M511.5 365.2h.01M523 365.2h.01M546 365.2h.01M556.5 365.2h.01M557.5 365.2h.01M564 365.2h.01M564.5 365.2h.01M566.5 365.2h.01M84 367.5h.01M91 367.5h.01M92 367.5h.01M120 367.5h.01M132.5 367.5h.01M135.5 367.5h.01M144 367.5h.01M147.5 367.5h.01M161.5 367.5h.01M169.5 367.5h.01M178.5 367.5h.01M194 367.5h.01M204.5 367.5h.01M220 367.5h.01M231.5 367.5h.01M237 367.5h.01M251.5 367.5h.01M254 367.5h.01M258.5 367.5h.01M283 367.5h.01M285.5 367.5h.01M288.5 367.5h.01M290.5 367.5h.01M291.5 367.5h.01M297.5 367.5h.01M302 367.5h.01M304 367.5h.01M319 367.5h.01M319.5 367.5h.01M320.5 367.5h.01M324.5 367.5h.01M326 367.5h.01M327 367.5h.01M329 367.5h.01M329.5 367.5h.01M330 367.5h.01M331 367.5h.01M338.5 367.5h.01M344.5 367.5h.01M347.5 367.5h.01M349.5 367.5h.01M351 367.5h.01M353 367.5h.01M358.5 367.5h.01M372 367.5h.01M373.5 367.5h.01M378 367.5h.01M379 367.5h.01M379.5 367.5h.01M383.5 367.5h.01M390 367.5h.01M400 367.5h.01M401.5 367.5h.01M404.5 367.5h.01M415 367.5h.01M437 367.5h.01M445.5 367.5h.01M454.5 367.5h.01M457 367.5h.01M463 367.5h.01M475 367.5h.01M483.5 367.5h.01M491 367.5h.01M495 367.5h.01M514 367.5h.01M528.5 367.5h.01M534 367.5h.01M552 367.5h.01M553 367.5h.01M560 367.5h.01M561 367.5h.01M563 367.5h.01M565.5 367.5h.01M568 367.5h.01M86.5 369.8h.01M87 369.8h.01M92.5 369.8h.01M96.5 369.8h.01M97.5 369.8h.01M104 369.8h.01M109.5 369.8h.01M134.5 369.8h.01M155 369.8h.01M185 369.8h.01M191.5 369.8h.01M201.5 369.8h.01M203 369.8h.01M235 369.8h.01M239.5 369.8h.01M241 369.8h.01M246.5 369.8h.01M257.5 369.8h.01M262.5 369.8h.01M282 369.8h.01M304.5 369.8h.01M311.5 369.8h.01M328 369.8h.01M330 369.8h.01M330.5 369.8h.01M331.5 369.8h.01M332 369.8h.01M334.5 369.8h.01M337 369.8h.01M338.5 369.8h.01M340.5 369.8h.01M352.5 369.8h.01M354.5 369.8h.01M359 369.8h.01M359.5 369.8h.01M360 369.8h.01M379.5 369.8h.01M383 369.8h.01M384.5 369.8h.01M404.5 369.8h.01M405 369.8h.01M426 369.8h.01M443 369.8h.01M447 369.8h.01M467.5 369.8h.01M499 369.8h.01M563.5 369.8h.01M571.5 369.8h.01M93 372.2h.01M95.5 372.2h.01M106.5 372.2h.01M107.5 372.2h.01M113 372.2h.01M116 372.2h.01M128.5 372.2h.01M132 372.2h.01M143 372.2h.01M149 372.2h.01M159 372.2h.01M170.5 372.2h.01M171.5 372.2h.01M190.5 372.2h.01M193 372.2h.01M198.5 372.2h.01M214.5 372.2h.01M215.5 372.2h.01M216.5 372.2h.01M218 372.2h.01M228.5 372.2h.01M229 372.2h.01M229.5 372.2h.01M252 372.2h.01M262.5 372.2h.01M265.5 372.2h.01M266 372.2h.01M281.5 372.2h.01M286.5 372.2h.01M302.5 372.2h.01M304 372.2h.01M317.5 372.2h.01M320.5 372.2h.01M324 372.2h.01M325 372.2h.01M326.5 372.2h.01M332.5 372.2h.01M349 372.2h.01M351 372.2h.01M359 372.2h.01M375.5 372.2h.01M377.5 372.2h.01M378 372.2h.01M383.5 372.2h.01M399.5 372.2h.01M403.5 372.2h.01M438 372.2h.01M443 372.2h.01M444 372.2h.01M457 372.2h.01M468.5 372.2h.01M479 372.2h.01M480 372.2h.01M485 372.2h.01M517 372.2h.01M519 372.2h.01M520 372.2h.01M522 372.2h.01M531.5 372.2h.01M561 372.2h.01M565.5 372.2h.01M566 372.2h.01M117 374.5h.01M123 374.5h.01M134.5 374.5h.01M171.5 374.5h.01M177 374.5h.01M178 374.5h.01M181.5 374.5h.01M203.5 374.5h.01M239 374.5h.01M262.5 374.5h.01M263 374.5h.01M263.5 374.5h.01M269 374.5h.01M277.5 374.5h.01M284.5 374.5h.01M294.5 374.5h.01M299 374.5h.01M306.5 374.5h.01M308 374.5h.01M308.5 374.5h.01M310 374.5h.01M324 374.5h.01M327.5 374.5h.01M330.5 374.5h.01M341 374.5h.01M360 374.5h.01M370.5 374.5h.01M371 374.5h.01M373.5 374.5h.01M381 374.5h.01M383.5 374.5h.01M390.5 374.5h.01M396.5 374.5h.01M407 374.5h.01M409.5 374.5h.01M411 374.5h.01M419 374.5h.01M422 374.5h.01M427 374.5h.01M429 374.5h.01M440 374.5h.01M445 374.5h.01M459 374.5h.01M462.5 374.5h.01M472.5 374.5h.01M482 374.5h.01M490 374.5h.01M494 374.5h.01M516 374.5h.01M523 374.5h.01M530.5 374.5h.01M535.5 374.5h.01M540.5 374.5h.01M543.5 374.5h.01M544 374.5h.01M546 374.5h.01M548 374.5h.01M549 374.5h.01M561 374.5h.01M564 374.5h.01M80.5 376.8h.01M83.5 376.8h.01M102 376.8h.01M110 376.8h.01M135.5 376.8h.01M145 376.8h.01M146.5 376.8h.01M168.5 376.8h.01M189.5 376.8h.01M209.5 376.8h.01M218.5 376.8h.01M223.5 376.8h.01M231.5 376.8h.01M232.5 376.8h.01M240.5 376.8h.01M262.5 376.8h.01M271.5 376.8h.01M288 376.8h.01M295.5 376.8h.01M300 376.8h.01M310.5 376.8h.01M318.5 376.8h.01M321 376.8h.01M323 376.8h.01M326 376.8h.01M327.5 376.8h.01M328 376.8h.01M330 376.8h.01M333.5 376.8h.01M335 376.8h.01M337.5 376.8h.01M341 376.8h.01M351.5 376.8h.01M373.5 376.8h.01M391 376.8h.01M394.5 376.8h.01M395.5 376.8h.01M402.5 376.8h.01M404.5 376.8h.01M405 376.8h.01M435 376.8h.01M436.5 376.8h.01M445 376.8h.01M456.5 376.8h.01M469 376.8h.01M471 376.8h.01M479.5 376.8h.01M487.5 376.8h.01M490 376.8h.01M491.5 376.8h.01M497.5 376.8h.01M505.5 376.8h.01M513 376.8h.01M519 376.8h.01M557 376.8h.01M562.5 376.8h.01M570.5 376.8h.01M111.5 379.1h.01M120 379.1h.01M123.5 379.1h.01M135 379.1h.01M142 379.1h.01M144 379.1h.01M159 379.1h.01M165 379.1h.01M172 379.1h.01M186 379.1h.01M198 379.1h.01M211 379.1h.01M223.5 379.1h.01M224.5 379.1h.01M228.5 379.1h.01M230.5 379.1h.01M241.5 379.1h.01M268 379.1h.01M269.5 379.1h.01M277.5 379.1h.01M284.5 379.1h.01M288.5 379.1h.01M290 379.1h.01M294.5 379.1h.01M296.5 379.1h.01M302 379.1h.01M309 379.1h.01M310.5 379.1h.01M311 379.1h.01M314 379.1h.01M315.5 379.1h.01M317.5 379.1h.01M325 379.1h.01M327 379.1h.01M328 379.1h.01M342 379.1h.01M347 379.1h.01M352 379.1h.01M360 379.1h.01M364 379.1h.01M366 379.1h.01M377.5 379.1h.01M378 379.1h.01M382 379.1h.01M389 379.1h.01M408.5 379.1h.01M431.5 379.1h.01M450.5 379.1h.01M455 379.1h.01M488.5 379.1h.01M494 379.1h.01M510.5 379.1h.01M513 379.1h.01M515.5 379.1h.01M553.5 379.1h.01M557.5 379.1h.01M559 379.1h.01M561 379.1h.01M565 379.1h.01M565.5 379.1h.01M572 379.1h.01M82.5 381.5h.01M83.5 381.5h.01M98 381.5h.01M111.5 381.5h.01M116.5 381.5h.01M151 381.5h.01M163.5 381.5h.01M165.5 381.5h.01M167.5 381.5h.01M183.5 381.5h.01M196 381.5h.01M204.5 381.5h.01M219.5 381.5h.01M224 381.5h.01M234.5 381.5h.01M247 381.5h.01M249.5 381.5h.01M255.5 381.5h.01M256.5 381.5h.01M257.5 381.5h.01M289 381.5h.01M301 381.5h.01M307.5 381.5h.01M313.5 381.5h.01M315 381.5h.01M321 381.5h.01M329.5 381.5h.01M330.5 381.5h.01M336 381.5h.01M345 381.5h.01M351 381.5h.01M353 381.5h.01M362 381.5h.01M367.5 381.5h.01M407 381.5h.01M413 381.5h.01M427.5 381.5h.01M434 381.5h.01M446 381.5h.01M459 381.5h.01M473 381.5h.01M496.5 381.5h.01M517.5 381.5h.01M518 381.5h.01M527 381.5h.01M530.5 381.5h.01M541.5 381.5h.01M548 381.5h.01M550.5 381.5h.01M86 383.8h.01M96 383.8h.01M116.5 383.8h.01M122.5 383.8h.01M130 383.8h.01M130.5 383.8h.01M134 383.8h.01M148.5 383.8h.01M166 383.8h.01M179.5 383.8h.01M188 383.8h.01M192.5 383.8h.01M203.5 383.8h.01M223.5 383.8h.01M227 383.8h.01M296 383.8h.01M300 383.8h.01M302 383.8h.01M306 383.8h.01M306.5 383.8h.01M307.5 383.8h.01M313 383.8h.01M322 383.8h.01M323 383.8h.01M323.5 383.8h.01M327.5 383.8h.01M335 383.8h.01M336 383.8h.01M338 383.8h.01M354.5 383.8h.01M356.5 383.8h.01M361 383.8h.01M377.5 383.8h.01M387.5 383.8h.01M403.5 383.8h.01M441.5 383.8h.01M467.5 383.8h.01M483 383.8h.01M488.5 383.8h.01M497 383.8h.01M497.5 383.8h.01M519 383.8h.01M526.5 383.8h.01M545 383.8h.01M564 383.8h.01M568 383.8h.01M571.5 383.8h.01M82 386.1h.01M94 386.1h.01M95.5 386.1h.01M97 386.1h.01M123 386.1h.01M124.5 386.1h.01M127.5 386.1h.01M132.5 386.1h.01M136 386.1h.01M153 386.1h.01M174.5 386.1h.01M194.5 386.1h.01M201.5 386.1h.01M218 386.1h.01M235 386.1h.01M241 386.1h.01M249.5 386.1h.01M253 386.1h.01M255.5 386.1h.01M286 386.1h.01M287 386.1h.01M309.5 386.1h.01M310.5 386.1h.01M313.5 386.1h.01M321 386.1h.01M325.5 386.1h.01M327.5 386.1h.01M332 386.1h.01M334.5 386.1h.01M339 386.1h.01M353 386.1h.01M354 386.1h.01M359 386.1h.01M364 386.1h.01M367.5 386.1h.01M376 386.1h.01M382 386.1h.01M382.5 386.1h.01M391 386.1h.01M406 386.1h.01M413 386.1h.01M420.5 386.1h.01M428 386.1h.01M442 386.1h.01M443.5 386.1h.01M478.5 386.1h.01M486.5 386.1h.01M487.5 386.1h.01M503 386.1h.01M525.5 386.1h.01M526.5 386.1h.01M532.5 386.1h.01M546 386.1h.01M548 386.1h.01M559 386.1h.01M560.5 386.1h.01M569 386.1h.01M79.5 388.4h.01M92 388.4h.01M111 388.4h.01M114.5 388.4h.01M154.5 388.4h.01M158 388.4h.01M165 388.4h.01M179 388.4h.01M189 388.4h.01M195 388.4h.01M206.5 388.4h.01M214.5 388.4h.01M235.5 388.4h.01M253.5 388.4h.01M254.5 388.4h.01M264 388.4h.01M268.5 388.4h.01M273.5 388.4h.01M279.5 388.4h.01M285.5 388.4h.01M286 388.4h.01M288.5 388.4h.01M290 388.4h.01M300 388.4h.01M310.5 388.4h.01M315 388.4h.01M318 388.4h.01M330.5 388.4h.01M332 388.4h.01M351 388.4h.01M360 388.4h.01M368 388.4h.01M387 388.4h.01M392 388.4h.01M393 388.4h.01M410.5 388.4h.01M434.5 388.4h.01M435.5 388.4h.01M437.5 388.4h.01M446.5 388.4h.01M482.5 388.4h.01M494 388.4h.01M503.5 388.4h.01M517 388.4h.01M523.5 388.4h.01M525.5 388.4h.01M537 388.4h.01M538 388.4h.01M546.5 388.4h.01M557 388.4h.01M85 390.8h.01M109 390.8h.01M134.5 390.8h.01M135 390.8h.01M140 390.8h.01M142 390.8h.01M146.5 390.8h.01M154.5 390.8h.01M155.5 390.8h.01M157 390.8h.01M162 390.8h.01M165.5 390.8h.01M174 390.8h.01M178.5 390.8h.01M195.5 390.8h.01M202 390.8h.01M211 390.8h.01M220.5 390.8h.01M230 390.8h.01M241 390.8h.01M250.5 390.8h.01M254 390.8h.01M255.5 390.8h.01M259 390.8h.01M280.5 390.8h.01M282 390.8h.01M294 390.8h.01M297 390.8h.01M299 390.8h.01M317 390.8h.01M327 390.8h.01M335.5 390.8h.01M345 390.8h.01M351 390.8h.01M359.5 390.8h.01M366.5 390.8h.01M406.5 390.8h.01M415 390.8h.01M418.5 390.8h.01M428 390.8h.01M452.5 390.8h.01M468.5 390.8h.01M476 390.8h.01M497.5 390.8h.01M512 390.8h.01M519.5 390.8h.01M521 390.8h.01M534 390.8h.01M535.5 390.8h.01M562 390.8h.01M562.5 390.8h.01M565 390.8h.01M101.5 393.1h.01M105.5 393.1h.01M126 393.1h.01M132.5 393.1h.01M133 393.1h.01M140 393.1h.01M153 393.1h.01M153.5 393.1h.01M165 393.1h.01M172.5 393.1h.01M185.5 393.1h.01M206 393.1h.01M208.5 393.1h.01M243 393.1h.01M244.5 393.1h.01M256.5 393.1h.01M271.5 393.1h.01M273 393.1h.01M275 393.1h.01M279.5 393.1h.01M282 393.1h.01M289.5 393.1h.01M295.5 393.1h.01M307.5 393.1h.01M318 393.1h.01M326.5 393.1h.01M328 393.1h.01M331.5 393.1h.01M333 393.1h.01M337 393.1h.01M338.5 393.1h.01M348 393.1h.01M350 393.1h.01M368.5 393.1h.01M421 393.1h.01M422.5 393.1h.01M473 393.1h.01M477.5 393.1h.01M480.5 393.1h.01M481 393.1h.01M481.5 393.1h.01M502 393.1h.01M503 393.1h.01M504 393.1h.01M515 393.1h.01M537.5 393.1h.01M542.5 393.1h.01M548 393.1h.01M101 395.4h.01M125 395.4h.01M130.5 395.4h.01M132.5 395.4h.01M134.5 395.4h.01M146.5 395.4h.01M149 395.4h.01M159.5 395.4h.01M166 395.4h.01M169 395.4h.01M186.5 395.4h.01M205 395.4h.01M211 395.4h.01M246 395.4h.01M247 395.4h.01M254 395.4h.01M255 395.4h.01M256 395.4h.01M257.5 395.4h.01M265.5 395.4h.01M269.5 395.4h.01M277.5 395.4h.01M278.5 395.4h.01M300 395.4h.01M307 395.4h.01M321 395.4h.01M326.5 395.4h.01M327.5 395.4h.01M333.5 395.4h.01M337 395.4h.01M340 395.4h.01M360 395.4h.01M365 395.4h.01M368.5 395.4h.01M373.5 395.4h.01M388 395.4h.01M405.5 395.4h.01M406 395.4h.01M416 395.4h.01M428.5 395.4h.01M446.5 395.4h.01M459 395.4h.01M469 395.4h.01M471.5 395.4h.01M476 395.4h.01M497.5 395.4h.01M509.5 395.4h.01M523.5 395.4h.01M543 395.4h.01M569.5 395.4h.01M571 395.4h.01M83 397.7h.01M101.5 397.7h.01M117 397.7h.01M125 397.7h.01M130 397.7h.01M148.5 397.7h.01M150 397.7h.01M155.5 397.7h.01M167 397.7h.01M168 397.7h.01M171.5 397.7h.01M185.5 397.7h.01M199 397.7h.01M203.5 397.7h.01M204 397.7h.01M209 397.7h.01M215.5 397.7h.01M232 397.7h.01M243 397.7h.01M251.5 397.7h.01M269.5 397.7h.01M278 397.7h.01M279 397.7h.01M283.5 397.7h.01M290.5 397.7h.01M294.5 397.7h.01M302.5 397.7h.01M306.5 397.7h.01M316.5 397.7h.01M324 397.7h.01M334.5 397.7h.01M345.5 397.7h.01M356.5 397.7h.01M366 397.7h.01M367.5 397.7h.01M377 397.7h.01M378 397.7h.01M394 397.7h.01M408.5 397.7h.01M414.5 397.7h.01M434.5 397.7h.01M444.5 397.7h.01M480.5 397.7h.01M507.5 397.7h.01M539 397.7h.01M540 397.7h.01M571.5 397.7h.01M80.5 400.1h.01M83 400.1h.01M87.5 400.1h.01M106 400.1h.01M107 400.1h.01M124.5 400.1h.01M129.5 400.1h.01M133.5 400.1h.01M137.5 400.1h.01M161.5 400.1h.01M167.5 400.1h.01M169.5 400.1h.01M212.5 400.1h.01M214.5 400.1h.01M234.5 400.1h.01M262 400.1h.01M274.5 400.1h.01M283.5 400.1h.01M286 400.1h.01M289 400.1h.01M317.5 400.1h.01M323 400.1h.01M323.5 400.1h.01M329.5 400.1h.01M330 400.1h.01M340.5 400.1h.01M341 400.1h.01M344 400.1h.01M346 400.1h.01M348.5 400.1h.01M365 400.1h.01M378.5 400.1h.01M430.5 400.1h.01M445.5 400.1h.01M472 400.1h.01M473.5 400.1h.01M478 400.1h.01M492 400.1h.01M511 400.1h.01M513 400.1h.01M520 400.1h.01M522 400.1h.01M523 400.1h.01M524.5 400.1h.01M545 400.1h.01M548 400.1h.01M553 400.1h.01M559.5 400.1h.01M569.5 400.1h.01M572 400.1h.01M89.5 402.4h.01M107 402.4h.01M111 402.4h.01M113 402.4h.01M134.5 402.4h.01M164 402.4h.01M165 402.4h.01M170.5 402.4h.01M205.5 402.4h.01M207.5 402.4h.01M219 402.4h.01M236 402.4h.01M240 402.4h.01M241 402.4h.01M250 402.4h.01M251 402.4h.01M268.5 402.4h.01M276 402.4h.01M291 402.4h.01M296 402.4h.01M299 402.4h.01M304.5 402.4h.01M317.5 402.4h.01M319.5 402.4h.01M322.5 402.4h.01M333 402.4h.01M336.5 402.4h.01M337.5 402.4h.01M339.5 402.4h.01M348.5 402.4h.01M369.5 402.4h.01M370.5 402.4h.01M376 402.4h.01M388 402.4h.01M405 402.4h.01M409 402.4h.01M410.5 402.4h.01M423.5 402.4h.01M428.5 402.4h.01M448 402.4h.01M451.5 402.4h.01M457 402.4h.01M466 402.4h.01M473.5 402.4h.01M476 402.4h.01M482 402.4h.01M495.5 402.4h.01M503.5 402.4h.01M504 402.4h.01M521.5 402.4h.01M537.5 402.4h.01M569.5 402.4h.01M85 404.7h.01M85.5 404.7h.01M90.5 404.7h.01M122 404.7h.01M128.5 404.7h.01M139.5 404.7h.01M142.5 404.7h.01M171.5 404.7h.01M196 404.7h.01M197.5 404.7h.01M208.5 404.7h.01M212.5 404.7h.01M224.5 404.7h.01M248.5 404.7h.01M250.5 404.7h.01M274.5 404.7h.01M275 404.7h.01M289 404.7h.01M293.5 404.7h.01M303.5 404.7h.01M312 404.7h.01M315.5 404.7h.01M322 404.7h.01M327.5 404.7h.01M330 404.7h.01M335.5 404.7h.01M336 404.7h.01M337 404.7h.01M343.5 404.7h.01M397.5 404.7h.01M421 404.7h.01M436 404.7h.01M461 404.7h.01M471.5 404.7h.01M473.5 404.7h.01M508 404.7h.01M525 404.7h.01M550 404.7h.01M557.5 404.7h.01M568 404.7h.01M570.5 404.7h.01M106 407h.01M111.5 407h.01M118 407h.01M125 407h.01M141.5 407h.01M142.5 407h.01M143.5 407h.01M151.5 407h.01M160.5 407h.01M170.5 407h.01M189.5 407h.01M232.5 407h.01M239.5 407h.01M261 407h.01M262 407h.01M289.5 407h.01M296.5 407h.01M301.5 407h.01M316 407h.01M329 407h.01M338 407h.01M356 407h.01M356.5 407h.01M360 407h.01M364 407h.01M376.5 407h.01M381 407h.01M384.5 407h.01M395.5 407h.01M405.5 407h.01M409 407h.01M410 407h.01M417.5 407h.01M419.5 407h.01M425.5 407h.01M446 407h.01M452 407h.01M467.5 407h.01M471.5 407h.01M476.5 407h.01M484.5 407h.01M485.5 407h.01M496.5 407h.01M504 407h.01M519.5 407h.01M537 407h.01M555 407h.01M557 407h.01M567 407h.01M571 407h.01M89.5 409.4h.01M95 409.4h.01M131.5 409.4h.01M150.5 409.4h.01M156 409.4h.01M162.5 409.4h.01M178 409.4h.01M190 409.4h.01M194.5 409.4h.01M205 409.4h.01M207.5 409.4h.01M208.5 409.4h.01M229.5 409.4h.01M246 409.4h.01M261.5 409.4h.01M268 409.4h.01M292 409.4h.01M299 409.4h.01M308 409.4h.01M312.5 409.4h.01M313 409.4h.01M320 409.4h.01M325.5 409.4h.01M327 409.4h.01M328.5 409.4h.01M341.5 409.4h.01M342.5 409.4h.01M351.5 409.4h.01M365.5 409.4h.01M367.5 409.4h.01M399.5 409.4h.01M400.5 409.4h.01M402.5 409.4h.01M411 409.4h.01M425.5 409.4h.01M440 409.4h.01M440.5 409.4h.01M462 409.4h.01M468.5 409.4h.01M492 409.4h.01M510 409.4h.01M512.5 409.4h.01M517.5 409.4h.01M535.5 409.4h.01M108.5 411.7h.01M110.5 411.7h.01M119 411.7h.01M143.5 411.7h.01M153 411.7h.01M196 411.7h.01M204.5 411.7h.01M228.5 411.7h.01M235.5 411.7h.01M236 411.7h.01M258 411.7h.01M271 411.7h.01M277.5 411.7h.01M297.5 411.7h.01M312.5 411.7h.01M315.5 411.7h.01M316 411.7h.01M326.5 411.7h.01M329 411.7h.01M342 411.7h.01M342.5 411.7h.01M347.5 411.7h.01M350.5 411.7h.01M360.5 411.7h.01M364 411.7h.01M366 411.7h.01M366.5 411.7h.01M371 411.7h.01M385 411.7h.01M392.5 411.7h.01M410 411.7h.01M415.5 411.7h.01M422.5 411.7h.01M423.5 411.7h.01M431.5 411.7h.01M490 411.7h.01M497 411.7h.01M500 411.7h.01M507 411.7h.01M510 411.7h.01M520.5 411.7h.01M523 411.7h.01M532 411.7h.01M535.5 411.7h.01M545.5 411.7h.01M567.5 411.7h.01M81.5 414h.01M87.5 414h.01M100.5 414h.01M108.5 414h.01M126 414h.01M141 414h.01M144 414h.01M153 414h.01M179.5 414h.01M192.5 414h.01M201 414h.01M221.5 414h.01M226.5 414h.01M243.5 414h.01M269 414h.01M269.5 414h.01M275 414h.01M279.5 414h.01M281 414h.01M291 414h.01M296.5 414h.01M299 414h.01M318.5 414h.01M337 414h.01M339.5 414h.01M361.5 414h.01M383.5 414h.01M387.5 414h.01M391 414h.01M406 414h.01M446 414h.01M450.5 414h.01M454.5 414h.01M476 414h.01M491 414h.01M508.5 414h.01M529.5 414h.01M549 414h.01M549.5 414h.01M553 414h.01M571 414h.01M86.5 416.3h.01M138.5 416.3h.01M141 416.3h.01M159 416.3h.01M169.5 416.3h.01M176.5 416.3h.01M178.5 416.3h.01M193.5 416.3h.01M194 416.3h.01M203 416.3h.01M230.5 416.3h.01M252.5 416.3h.01M273 416.3h.01M287.5 416.3h.01M295.5 416.3h.01M308 416.3h.01M323 416.3h.01M325.5 416.3h.01M328 416.3h.01M329 416.3h.01M337 416.3h.01M345.5 416.3h.01M353.5 416.3h.01M355 416.3h.01M385 416.3h.01M397.5 416.3h.01M400.5 416.3h.01M442 416.3h.01M459 416.3h.01M480.5 416.3h.01M485 416.3h.01M487.5 416.3h.01M512 416.3h.01M524 416.3h.01M556.5 416.3h.01M80.5 418.7h.01M83 418.7h.01M86.5 418.7h.01M89 418.7h.01M94 418.7h.01M139.5 418.7h.01M176.5 418.7h.01M186 418.7h.01M190.5 418.7h.01M214 418.7h.01M226 418.7h.01M240 418.7h.01M256 418.7h.01M257.5 418.7h.01M271.5 418.7h.01M274 418.7h.01M282.5 418.7h.01M292.5 418.7h.01M308.5 418.7h.01M315 418.7h.01M316 418.7h.01M368.5 418.7h.01M389 418.7h.01M447.5 418.7h.01M468.5 418.7h.01M473.5 418.7h.01M490 418.7h.01M493.5 418.7h.01M496.5 418.7h.01M517 418.7h.01M523 418.7h.01M548.5 418.7h.01M556 418.7h.01M571 418.7h.01M95.5 421h.01M99 421h.01M125.5 421h.01M143.5 421h.01M146.5 421h.01M165.5 421h.01M174 421h.01M182 421h.01M186 421h.01M198 421h.01M213 421h.01M243.5 421h.01M256.5 421h.01M257 421h.01M289.5 421h.01M314.5 421h.01M316.5 421h.01M324 421h.01M350.5 421h.01M355 421h.01M365 421h.01M382.5 421h.01M387.5 421h.01M392.5 421h.01M449 421h.01M456.5 421h.01M460.5 421h.01M494 421h.01M503.5 421h.01M547.5 421h.01M103 423.3h.01M104.5 423.3h.01M126 423.3h.01M144 423.3h.01M169.5 423.3h.01M174 423.3h.01M179 423.3h.01M187 423.3h.01M195.5 423.3h.01M234 423.3h.01M245.5 423.3h.01M254.5 423.3h.01M291 423.3h.01M294 423.3h.01M320.5 423.3h.01M325 423.3h.01M334 423.3h.01M336.5 423.3h.01M343 423.3h.01M352.5 423.3h.01M380.5 423.3h.01M388.5 423.3h.01M403.5 423.3h.01M418 423.3h.01M421 423.3h.01M431.5 423.3h.01M448 423.3h.01M461.5 423.3h.01M463.5 423.3h.01M466.5 423.3h.01M482.5 423.3h.01M494.5 423.3h.01M496 423.3h.01M515.5 423.3h.01M551.5 423.3h.01M552.5 423.3h.01M85 425.6h.01M97 425.6h.01M125 425.6h.01M168.5 425.6h.01M191.5 425.6h.01M201.5 425.6h.01M206.5 425.6h.01M212 425.6h.01M216.5 425.6h.01M254.5 425.6h.01M267 425.6h.01M277 425.6h.01M318.5 425.6h.01M320 425.6h.01M330 425.6h.01M332 425.6h.01M342.5 425.6h.01M358 425.6h.01M361.5 425.6h.01M375 425.6h.01M400.5 425.6h.01M406 425.6h.01M411.5 425.6h.01M420 425.6h.01M436 425.6h.01M446.5 425.6h.01M464.5 425.6h.01M471.5 425.6h.01M501.5 425.6h.01M531.5 425.6h.01M563.5 425.6h.01M95.5 428h.01M195.5 428h.01M206.5 428h.01M209.5 428h.01M254 428h.01M261.5 428h.01M277 428h.01M281.5 428h.01M292 428h.01M315.5 428h.01M316 428h.01M322.5 428h.01M325.5 428h.01M330 428h.01M337.5 428h.01M342 428h.01M343 428h.01M346 428h.01M349 428h.01M372 428h.01M373 428h.01M379 428h.01M381.5 428h.01M411 428h.01M416.5 428h.01M431 428h.01M449.5 428h.01M476.5 428h.01M489.5 428h.01M499 428h.01M193 430.3h.01M214 430.3h.01M225.5 430.3h.01M227.5 430.3h.01M287.5 430.3h.01M300.5 430.3h.01M307.5 430.3h.01M313 430.3h.01M316 430.3h.01M333 430.3h.01M335 430.3h.01M337 430.3h.01M350.5 430.3h.01M353 430.3h.01M389 430.3h.01M401.5 430.3h.01M417.5 430.3h.01M425 430.3h.01M496.5 430.3h.01M559 430.3h.01M572 430.3h.01M88 432.6h.01M94 432.6h.01M129 432.6h.01M148 432.6h.01M183.5 432.6h.01M203.5 432.6h.01M210.5 432.6h.01M221.5 432.6h.01M238 432.6h.01M242.5 432.6h.01M267 432.6h.01M305.5 432.6h.01M316 432.6h.01M326 432.6h.01M329.5 432.6h.01M334.5 432.6h.01M409 432.6h.01M436 432.6h.01M442.5 432.6h.01M458 432.6h.01M476.5 432.6h.01M490 432.6h.01M567.5 432.6h.01M85.5 434.9h.01M92.5 434.9h.01M108.5 434.9h.01M111 434.9h.01M200.5 434.9h.01M234 434.9h.01M254 434.9h.01M262 434.9h.01M262.5 434.9h.01M273.5 434.9h.01M280 434.9h.01M316.5 434.9h.01M317.5 434.9h.01M323 434.9h.01M333 434.9h.01M336.5 434.9h.01M340 434.9h.01M340.5 434.9h.01M363 434.9h.01M381 434.9h.01M393 434.9h.01M401 434.9h.01M470 434.9h.01M493 434.9h.01M493.5 434.9h.01M500 434.9h.01M508 434.9h.01M544.5 434.9h.01M82.5 437.3h.01M125 437.3h.01M129 437.3h.01M131.5 437.3h.01M140.5 437.3h.01M142 437.3h.01M146 437.3h.01M149 437.3h.01M163 437.3h.01M172 437.3h.01M175 437.3h.01M177.5 437.3h.01M183 437.3h.01M185 437.3h.01M198.5 437.3h.01M212 437.3h.01M216.5 437.3h.01M246.5 437.3h.01M302.5 437.3h.01M313 437.3h.01M325.5 437.3h.01M334.5 437.3h.01M340 437.3h.01M349 437.3h.01M366.5 437.3h.01M429.5 437.3h.01M488.5 437.3h.01M500.5 437.3h.01M518.5 437.3h.01M526 437.3h.01M526.5 437.3h.01M546 437.3h.01M100.5 439.6h.01M165 439.6h.01M178 439.6h.01M194.5 439.6h.01M231 439.6h.01M272.5 439.6h.01M293 439.6h.01M301 439.6h.01M302.5 439.6h.01M312.5 439.6h.01M323 439.6h.01M328.5 439.6h.01M339.5 439.6h.01M358.5 439.6h.01M399.5 439.6h.01M433.5 439.6h.01M455.5 439.6h.01M457 439.6h.01M539 439.6h.01M553 439.6h.01M566 439.6h.01M568.5 439.6h.01M87.5 441.9h.01M147.5 441.9h.01M159.5 441.9h.01M162 441.9h.01M214.5 441.9h.01M223.5 441.9h.01M255.5 441.9h.01M263 441.9h.01M268 441.9h.01M327.5 441.9h.01M332.5 441.9h.01M353 441.9h.01M387 441.9h.01M389.5 441.9h.01M479.5 441.9h.01M491 441.9h.01M507.5 441.9h.01M522.5 441.9h.01M530.5 441.9h.01M551 441.9h.01M555 441.9h.01M99 444.2h.01M112.5 444.2h.01M144.5 444.2h.01M158.5 444.2h.01M162.5 444.2h.01M164 444.2h.01M164.5 444.2h.01M165.5 444.2h.01M166 444.2h.01M181 444.2h.01M229 444.2h.01M231 444.2h.01M293 444.2h.01M313 444.2h.01M314.5 444.2h.01M324 444.2h.01M383.5 444.2h.01M399.5 444.2h.01M467.5 444.2h.01M476 444.2h.01M539 444.2h.01M93.5 446.6h.01M126 446.6h.01M151 446.6h.01M162.5 446.6h.01M182 446.6h.01M207 446.6h.01M207.5 446.6h.01M234.5 446.6h.01M240.5 446.6h.01M253.5 446.6h.01M270.5 446.6h.01M310.5 446.6h.01M324 446.6h.01M331 446.6h.01M335.5 446.6h.01M336.5 446.6h.01M357 446.6h.01M367 446.6h.01M377.5 446.6h.01M422 446.6h.01M452.5 446.6h.01M484.5 446.6h.01M492 446.6h.01M508 446.6h.01M82.5 448.9h.01M95.5 448.9h.01M169 448.9h.01M204.5 448.9h.01M209 448.9h.01M268 448.9h.01M300 448.9h.01M308.5 448.9h.01M329 448.9h.01M334.5 448.9h.01M441 448.9h.01M452.5 448.9h.01M464.5 448.9h.01M465 448.9h.01M481 448.9h.01M487 448.9h.01M502.5 448.9h.01M526.5 448.9h.01M529 448.9h.01M538.5 448.9h.01M541 448.9h.01M541.5 448.9h.01M549 448.9h.01M565 448.9h.01M567 448.9h.01M108.5 451.2h.01M123.5 451.2h.01M143 451.2h.01M194 451.2h.01M205.5 451.2h.01M206 451.2h.01M227.5 451.2h.01M255 451.2h.01M287.5 451.2h.01M309 451.2h.01M312 451.2h.01M314 451.2h.01M318 451.2h.01M319 451.2h.01M437 451.2h.01M452.5 451.2h.01M475 451.2h.01M504.5 451.2h.01M550.5 451.2h.01M110 453.6h.01M114 453.6h.01M185 453.6h.01M297.5 453.6h.01M317 453.6h.01M345 453.6h.01M349 453.6h.01M389.5 453.6h.01M400 453.6h.01M408.5 453.6h.01M422.5 453.6h.01M425 453.6h.01M455.5 453.6h.01M489 453.6h.01M120.5 455.9h.01M131 455.9h.01M160.5 455.9h.01M166.5 455.9h.01M190 455.9h.01M213.5 455.9h.01M288 455.9h.01M296.5 455.9h.01M324.5 455.9h.01M327 455.9h.01M328 455.9h.01M360.5 455.9h.01M378 455.9h.01M417.5 455.9h.01M469 455.9h.01M475 455.9h.01M542 455.9h.01M85 458.2h.01M101 458.2h.01M108 458.2h.01M122.5 458.2h.01M154 458.2h.01M183 458.2h.01M207 458.2h.01M221 458.2h.01M229.5 458.2h.01M237 458.2h.01M252 458.2h.01M287 458.2h.01M292 458.2h.01M293 458.2h.01M299.5 458.2h.01M303 458.2h.01M304.5 458.2h.01M314.5 458.2h.01M315.5 458.2h.01M422.5 458.2h.01M490 458.2h.01M545 458.2h.01M551.5 458.2h.01M84 460.5h.01M129 460.5h.01M147.5 460.5h.01M182 460.5h.01M207.5 460.5h.01M263.5 460.5h.01M275.5 460.5h.01M279 460.5h.01M302 460.5h.01M335 460.5h.01M349 460.5h.01M419.5 460.5h.01M452.5 460.5h.01M506 460.5h.01M567.5 460.5h.01M155.5 462.9h.01M204.5 462.9h.01M208 462.9h.01M213 462.9h.01M248 462.9h.01M332.5 462.9h.01M358.5 462.9h.01M401 462.9h.01M420 462.9h.01M463.5 462.9h.01M469.5 462.9h.01M508.5 462.9h.01M566.5 462.9h.01M112.5 465.2h.01M234 465.2h.01M234.5 465.2h.01M245.5 465.2h.01M274 465.2h.01M395.5 465.2h.01M446 465.2h.01M450.5 465.2h.01M452.5 465.2h.01M152 467.5h.01M172.5 467.5h.01M224.5 467.5h.01M312.5 467.5h.01M324 467.5h.01M352 467.5h.01M355.5 467.5h.01M356.5 467.5h.01M426.5 467.5h.01M434.5 467.5h.01M435 467.5h.01M482 467.5h.01M520 467.5h.01M103.5 469.8h.01M114.5 469.8h.01M117 469.8h.01M120 469.8h.01M215.5 469.8h.01M294 469.8h.01M302 469.8h.01M308.5 469.8h.01M318 469.8h.01M347.5 469.8h.01M378.5 469.8h.01M423 469.8h.01M429.5 469.8h.01M448 469.8h.01M499.5 469.8h.01M530 469.8h.01M558 469.8h.01M570 469.8h.01M219 472.2h.01M245 472.2h.01M327 472.2h.01M421 472.2h.01M431 472.2h.01M521.5 472.2h.01M529 472.2h.01M266 474.5h.01M328.5 474.5h.01M356.5 474.5h.01M367.5 474.5h.01M375.5 474.5h.01M412.5 474.5h.01M485 474.5h.01M491.5 474.5h.01M105 476.8h.01M108.5 476.8h.01M163 476.8h.01M185 476.8h.01M198 476.8h.01M202 476.8h.01M280.5 476.8h.01M319.5 476.8h.01M324.5 476.8h.01M349 476.8h.01M412.5 476.8h.01M443 476.8h.01M560.5 476.8h.01M562 476.8h.01M570 476.8h.01M167 479.1h.01M206.5 479.1h.01M251.5 479.1h.01M356.5 479.1h.01M465.5 479.1h.01M93 481.5h.01M182 481.5h.01M220 481.5h.01M261.5 481.5h.01M288 481.5h.01M303.5 481.5h.01M323 481.5h.01M370.5 481.5h.01M390 481.5h.01M402 481.5h.01M423.5 481.5h.01M452.5 481.5h.01M180 483.8h.01M246 483.8h.01M284.5 483.8h.01M294.5 483.8h.01M323.5 483.8h.01M404 483.8h.01M421 483.8h.01M553 483.8h.01M442.5 486.1h.01M514.5 486.1h.01M158.5 488.4h.01M159.5 488.4h.01M180.5 488.4h.01M201 488.4h.01M225.5 488.4h.01M314 488.4h.01M353.5 488.4h.01M386.5 488.4h.01M462.5 488.4h.01M109 490.8h.01M151.5 490.8h.01M308 490.8h.01M334.5 490.8h.01M336 490.8h.01M407.5 490.8h.01M220 493.1h.01M319 493.1h.01M321.5 493.1h.01M327.5 493.1h.01M379 493.1h.01M438 493.1h.01M499 493.1h.01M177 495.4h.01M178.5 495.4h.01M205.5 495.4h.01M210 495.4h.01M333 495.4h.01M404.5 495.4h.01M506 495.4h.01M198 497.7h.01M291.5 497.7h.01M357.5 497.7h.01M544 497.7h.01M123.5 500.1h.01M170.5 500.1h.01M177 500.1h.01M184.5 500.1h.01M247.5 500.1h.01M257 500.1h.01M296 500.1h.01M388 500.1h.01M474.5 500.1h.01M205 502.4h.01M99.5 504.7h.01M104.5 504.7h.01M418 504.7h.01M517 504.7h.01M554.5 504.7h.01M566 504.7h.01M185.5 507h.01M202.5 507h.01M394.5 507h.01M412 507h.01M141.5 509.4h.01M273 509.4h.01M446 509.4h.01M509 511.7h.01M239.5 514h.01M106.5 516.3h.01M144 516.3h.01M249.5 516.3h.01M352 516.3h.01M569.5 518.7h.01M100 521h.01M101 521h.01M178 521h.01M242 523.3h.01M261 523.3h.01M162 525.6h.01M208 525.6h.01M559 525.6h.01M526 528h.01M156 532.6h.01M388 534.9h.01M382.5 541.9h.01M376 546.6h.01M477.5 560.5h.01" fill="none" stroke="#000" stroke-width="1.4" stroke-linecap="square"/>
<path d="M276.83 580.24L276.83 47.81" fill="none" stroke="#006400" stroke-width="2.25" stroke-dasharray="9 9" stroke-linecap="round"/>
<path d="M373.13 580.24L373.13 47.81" fill="none" stroke="#006400" stroke-width="2.25" stroke-dasharray="9 9" stroke-linecap="round"/>
<path d="M59.76 423.32L592.19 423.32" fill="none" stroke="#CD2626" stroke-width="2.25" stroke-dasharray="9 9" stroke-linecap="round"/>
<rect x="59.76" y="47.81" width="532.43" height="532.43" fill="none" stroke="#000" stroke-width=".75"/>
<path d="M125.39 580.24H524.57M125.39 580.24v5.98M225.18 580.24v5.98M324.98 580.24v5.98M424.77 580.24v5.98M524.57 580.24v5.98" fill="none" stroke="#000" stroke-width=".75" stroke-linecap="round"/>
<text x="125.39" y="602.04" font-size="10.15" text-anchor="middle">-400</text>
<text x="225.18" y="602.04" font-size="10.15" text-anchor="middle">-200</text>
<text x="324.98" y="602.04" font-size="10.15" text-anchor="middle">0</text>
<text x="424.77" y="602.04" font-size="10.15" text-anchor="middle">200</text>
<text x="524.57" y="602.04" font-size="10.15" text-anchor="middle">400</text>
<path d="M59.76 532.62V67.53M59.76 532.62h-5.98M59.76 416.34h-5.98M59.76 300.07h-5.98M59.76 183.8h-5.98M59.76 67.53h-5.98" fill="none" stroke="#000" stroke-width=".75" stroke-linecap="round"/>
<text x="45.06" y="532.62" font-size="10.15" text-anchor="middle" transform="rotate(-90 45.06 532.62)">80</text>
<text x="45.06" y="416.34" font-size="10.15" text-anchor="middle" transform="rotate(-90 45.06 416.34)">85</text>
<text x="45.06" y="300.07" font-size="10.15" text-anchor="middle" transform="rotate(-90 45.06 300.07)">90</text>
<text x="45.06" y="183.8" font-size="10.15" text-anchor="middle" transform="rotate(-90 45.06 183.8)">95</text>
<text x="45.06" y="67.53" font-size="10.15" text-anchor="middle" transform="rotate(-90 45.06 67.53)">100</text>
<text x="322.98" y="31.3" font-size="21.33" text-anchor="middle" font-weight="bold" letter-spacing=".07">Top hit for each peak</text>
<text x="326.38" y="626.14" font-size="16" text-anchor="middle">Distance to peak summit</text>
<text x="22.1" y="314.22" font-size="16" text-anchor="middle" transform="rotate(-90 22.1 314.22)">Motif score</text>
</g>
<g id="p2">
<defs><clipPath id="c2"><rect x="699.76" y="47.81" width="532.43" height="532.43"/></clipPath>
<filter id="hm" x="-5%" y="-5%" width="110%" height="110%" color-interpolation-filters="sRGB"><feGaussianBlur stdDeviation="3"/><feComponentTransfer><feFuncR type="table" tableValues="1 0 1"/><feFuncG type="table" tableValues="1 0 0"/><feFuncB type="table" tableValues="1 1 0"/><feFuncA type="linear" slope="0" intercept="1"/></feComponentTransfer></filter></defs>
<g clip-path="url(#c2)"><g filter="url(#hm)" shape-rendering="crispEdges">
<rect x="673.14" y="21.19" width="585.67" height="585.67" fill="#000"/>
<g transform="translate(673.14 21.19) scale(6.65538 6.65538)">
<path fill="#010101" d="M36 0h2v1h-2zM48 0h2v1h-2zM32 1h5v1h-5zM49 1h3v1h-3zM59 1h5v1h-5zM7 2h3v1h-3zM21 2h2v1h-2zM29 2h7v1h-7zM50 2h16v1h-16zM5 3h11v1h-11zM19 3h15v1h-15zM51 3h9v1h-9zM62 3h6v1h-6zM70 3h5v1h-5zM5 4h25v1h-25zM53 4h5v1h-5zM64 4h16v1h-16zM4 5h4v1h-4zM15 5h12v1h-12zM65 5h6v1h-6zM74 5h12v1h-12zM3 6h3v1h-3zM17 6h8v1h-8zM67 6h2v1h-2zM76 6h11v1h-11zM2 7h2v1h-2zM19 7h5v1h-5zM82 7h5v1h-5zM1 8h2v1h-2zM84 8h3v1h-3zM1 9h1v1h-1zM85 9h2v1h-2zM0 10h2v1h-2zM85 10h2v1h-2zM0 11h2v1h-2zM85 11h2v1h-2zM0 12h2v1h-2zM85 12h2v1h-2zM0 13h2v1h-2zM86 13h1v1h-1zM0 14h2v1h-2zM86 14h1v1h-1zM0 15h2v1h-2zM86 15h2v1h-2zM0 16h2v1h-2zM86 16h2v1h-2zM0 17h1v1h-1zM86 17h2v1h-2zM0 18h1v1h-1zM87 18h1v1h-1zM0 19h1v1h-1zM87 19h1v1h-1zM0 20h1v1h-1zM87 20h1v1h-1zM0 21h1v1h-1zM87 21h1v1h-1zM0 22h1v1h-1zM87 22h1v1h-1zM0 23h1v1h-1zM87 23h1v1h-1zM0 24h1v1h-1zM87 24h1v1h-1zM87 25h1v1h-1zM0 68h1v1h-1zM87 68h1v1h-1zM0 69h1v1h-1zM87 69h1v1h-1zM0 70h1v1h-1zM87 70h1v1h-1zM0 71h1v1h-1zM87 71h1v1h-1zM0 72h2v1h-2zM86 72h2v1h-2zM0 73h2v1h-2zM86 73h2v1h-2zM1 74h2v1h-2zM86 74h1v1h-1zM1 75h2v1h-2zM86 75h1v1h-1zM2 76h2v1h-2zM85 76h2v1h-2zM3 77h2v1h-2zM49 77h3v1h-3zM85 77h2v1h-2zM3 78h3v1h-3zM48 78h5v1h-5zM84 78h2v1h-2zM3 79h3v1h-3zM21 79h5v1h-5zM46 79h8v1h-8zM82 79h4v1h-4zM4 80h2v1h-2zM20 80h8v1h-8zM45 80h9v1h-9zM81 80h4v1h-4zM4 81h3v1h-3zM18 81h16v1h-16zM44 81h11v1h-11zM60 81h6v1h-6zM72 81h3v1h-3zM81 81h3v1h-3zM4 82h4v1h-4zM11 82h13v1h-13zM27 82h9v1h-9zM43 82h34v1h-34zM80 82h3v1h-3zM5 83h18v1h-18zM33 83h6v1h-6zM41 83h42v1h-42zM6 84h9v1h-9zM35 84h9v1h-9zM53 84h6v1h-6zM75 84h7v1h-7zM8 85h3v1h-3zM37 85h6v1h-6zM77 85h3v1h-3z"/>
<path fill="#020202" d="M38 0h2v1h-2zM46 0h2v1h-2zM37 1h1v1h-1zM48 1h1v1h-1zM36 2h1v1h-1zM49 2h1v1h-1zM34 3h2v1h-2zM50 3h1v1h-1zM60 3h2v1h-2zM30 4h5v1h-5zM51 4h2v1h-2zM58 4h6v1h-6zM8 5h7v1h-7zM27 5h7v1h-7zM52 5h7v1h-7zM63 5h2v1h-2zM71 5h3v1h-3zM6 6h4v1h-4zM13 6h4v1h-4zM25 6h7v1h-7zM53 6h4v1h-4zM64 6h3v1h-3zM69 6h7v1h-7zM4 7h3v1h-3zM15 7h4v1h-4zM24 7h4v1h-4zM65 7h7v1h-7zM74 7h8v1h-8zM3 8h2v1h-2zM17 8h9v1h-9zM66 8h5v1h-5zM76 8h8v1h-8zM2 9h2v1h-2zM21 9h3v1h-3zM68 9h2v1h-2zM81 9h4v1h-4zM2 10h1v1h-1zM83 10h2v1h-2zM2 11h1v1h-1zM84 11h1v1h-1zM2 12h1v1h-1zM84 12h1v1h-1zM2 13h1v1h-1zM84 13h2v1h-2zM2 14h1v1h-1zM85 14h1v1h-1zM2 15h1v1h-1zM85 15h1v1h-1zM85 16h1v1h-1zM1 17h1v1h-1zM1 18h1v1h-1zM86 18h1v1h-1zM1 19h1v1h-1zM86 19h1v1h-1zM1 20h1v1h-1zM86 20h1v1h-1zM86 21h1v1h-1zM86 22h1v1h-1zM0 25h1v1h-1zM0 26h1v1h-1zM87 26h1v1h-1zM0 27h1v1h-1zM87 27h1v1h-1zM0 28h1v1h-1zM87 28h1v1h-1zM87 29h1v1h-1zM87 30h1v1h-1zM0 65h1v1h-1zM87 65h1v1h-1zM0 66h1v1h-1zM87 66h1v1h-1zM0 67h1v1h-1zM87 67h1v1h-1zM1 69h1v1h-1zM86 69h1v1h-1zM1 70h1v1h-1zM86 70h1v1h-1zM1 71h1v1h-1zM86 71h1v1h-1zM2 72h1v1h-1zM2 73h1v1h-1zM85 73h1v1h-1zM3 74h1v1h-1zM85 74h1v1h-1zM3 75h2v1h-2zM84 75h2v1h-2zM4 76h2v1h-2zM48 76h4v1h-4zM84 76h1v1h-1zM5 77h2v1h-2zM20 77h6v1h-6zM46 77h3v1h-3zM52 77h2v1h-2zM83 77h2v1h-2zM6 78h2v1h-2zM19 78h8v1h-8zM45 78h3v1h-3zM53 78h2v1h-2zM74 78h2v1h-2zM80 78h4v1h-4zM6 79h4v1h-4zM17 79h4v1h-4zM26 79h3v1h-3zM44 79h2v1h-2zM54 79h2v1h-2zM59 79h6v1h-6zM73 79h9v1h-9zM6 80h14v1h-14zM28 80h9v1h-9zM43 80h2v1h-2zM54 80h27v1h-27zM7 81h11v1h-11zM34 81h10v1h-10zM55 81h5v1h-5zM66 81h6v1h-6zM75 81h6v1h-6zM8 82h3v1h-3zM36 82h7v1h-7zM77 82h3v1h-3zM39 83h2v1h-2z"/>
<path fill="#030303" d="M40 0h1v1h-1zM45 0h1v1h-1zM38 1h1v1h-1zM47 1h1v1h-1zM37 2h1v1h-1zM36 3h1v1h-1zM35 4h1v1h-1zM50 4h1v1h-1zM34 5h1v1h-1zM51 5h1v1h-1zM59 5h4v1h-4zM10 6h3v1h-3zM32 6h2v1h-2zM52 6h1v1h-1zM57 6h3v1h-3zM61 6h3v1h-3zM7 7h8v1h-8zM28 7h6v1h-6zM53 7h5v1h-5zM63 7h2v1h-2zM72 7h2v1h-2zM5 8h1v1h-1zM14 8h3v1h-3zM26 8h7v1h-7zM54 8h3v1h-3zM65 8h1v1h-1zM71 8h5v1h-5zM4 9h1v1h-1zM15 9h6v1h-6zM24 9h7v1h-7zM66 9h2v1h-2zM70 9h11v1h-11zM3 10h1v1h-1zM17 10h9v1h-9zM67 10h5v1h-5zM77 10h6v1h-6zM3 11h1v1h-1zM68 11h3v1h-3zM81 11h3v1h-3zM3 12h1v1h-1zM82 12h2v1h-2zM3 13h1v1h-1zM83 13h1v1h-1zM3 14h1v1h-1zM84 14h1v1h-1zM84 15h1v1h-1zM2 16h1v1h-1zM2 17h1v1h-1zM85 17h1v1h-1zM2 18h1v1h-1zM85 18h1v1h-1zM85 19h1v1h-1zM1 21h1v1h-1zM1 22h1v1h-1zM1 23h1v1h-1zM86 23h1v1h-1zM1 24h1v1h-1zM86 24h1v1h-1zM1 25h1v1h-1zM86 25h1v1h-1zM86 26h1v1h-1zM0 29h1v1h-1zM0 30h1v1h-1zM0 31h1v1h-1zM87 31h1v1h-1zM87 32h1v1h-1zM87 33h1v1h-1zM87 34h1v1h-1zM87 35h1v1h-1zM87 36h1v1h-1zM87 37h1v1h-1zM87 38h1v1h-1zM87 39h1v1h-1zM87 40h1v1h-1zM87 41h1v1h-1zM0 57h1v1h-1zM0 58h1v1h-1zM0 59h1v1h-1zM0 60h1v1h-1zM0 61h1v1h-1zM0 62h1v1h-1zM87 62h1v1h-1zM0 63h1v1h-1zM87 63h1v1h-1zM0 64h1v1h-1zM87 64h1v1h-1zM1 68h1v1h-1zM86 68h1v1h-1zM2 71h1v1h-1zM85 71h1v1h-1zM85 72h1v1h-1zM3 73h1v1h-1zM84 73h1v1h-1zM4 74h1v1h-1zM84 74h1v1h-1zM5 75h2v1h-2zM48 75h4v1h-4zM83 75h1v1h-1zM6 76h3v1h-3zM20 76h7v1h-7zM46 76h2v1h-2zM52 76h2v1h-2zM82 76h2v1h-2zM7 77h3v1h-3zM18 77h2v1h-2zM26 77h3v1h-3zM45 77h1v1h-1zM54 77h2v1h-2zM58 77h5v1h-5zM73 77h10v1h-10zM8 78h4v1h-4zM15 78h4v1h-4zM27 78h5v1h-5zM36 78h3v1h-3zM43 78h2v1h-2zM55 78h13v1h-13zM71 78h3v1h-3zM76 78h4v1h-4zM10 79h7v1h-7zM29 79h15v1h-15zM56 79h3v1h-3zM65 79h8v1h-8zM37 80h6v1h-6z"/>
<path fill="#040404" d="M41 0h4v1h-4zM39 1h1v1h-1zM48 2h1v1h-1zM49 3h1v1h-1zM35 5h1v1h-1zM34 6h1v1h-1zM51 6h1v1h-1zM60 6h1v1h-1zM34 7h1v1h-1zM52 7h1v1h-1zM58 7h5v1h-5zM6 8h8v1h-8zM33 8h1v1h-1zM53 8h1v1h-1zM57 8h3v1h-3zM63 8h2v1h-2zM5 9h1v1h-1zM13 9h2v1h-2zM31 9h2v1h-2zM54 9h5v1h-5zM64 9h2v1h-2zM4 10h1v1h-1zM14 10h3v1h-3zM26 10h6v1h-6zM55 10h2v1h-2zM65 10h2v1h-2zM72 10h5v1h-5zM15 11h15v1h-15zM66 11h2v1h-2zM71 11h2v1h-2zM75 11h6v1h-6zM23 12h4v1h-4zM68 12h3v1h-3zM80 12h2v1h-2zM82 13h1v1h-1zM83 14h1v1h-1zM3 15h1v1h-1zM83 15h1v1h-1zM3 16h1v1h-1zM84 16h1v1h-1zM3 17h1v1h-1zM84 17h1v1h-1zM2 19h1v1h-1zM2 20h1v1h-1zM85 20h1v1h-1zM85 21h1v1h-1zM85 22h1v1h-1zM1 26h1v1h-1zM1 27h1v1h-1zM86 27h1v1h-1zM86 28h1v1h-1zM0 32h1v1h-1zM0 33h1v1h-1zM0 34h1v1h-1zM0 35h1v1h-1zM0 36h1v1h-1zM0 37h1v1h-1zM0 38h1v1h-1zM0 39h1v1h-1zM0 40h1v1h-1zM0 41h1v1h-1zM0 42h1v1h-1zM87 42h1v1h-1zM87 43h1v1h-1zM87 44h1v1h-1zM87 45h1v1h-1zM87 46h1v1h-1zM87 47h1v1h-1zM87 48h1v1h-1zM87 49h1v1h-1zM87 50h1v1h-1zM87 51h1v1h-1zM87 52h1v1h-1zM87 53h1v1h-1zM0 54h1v1h-1zM87 54h1v1h-1zM0 55h1v1h-1zM87 55h1v1h-1zM0 56h1v1h-1zM87 56h1v1h-1zM87 57h1v1h-1zM87 58h1v1h-1zM87 59h1v1h-1zM87 60h1v1h-1zM87 61h1v1h-1zM1 66h1v1h-1zM86 66h1v1h-1zM1 67h1v1h-1zM86 67h1v1h-1zM2 69h1v1h-1zM85 69h1v1h-1zM2 70h1v1h-1zM85 70h1v1h-1zM3 72h1v1h-1zM84 72h1v1h-1zM4 73h1v1h-1zM5 74h2v1h-2zM49 74h3v1h-3zM83 74h1v1h-1zM7 75h2v1h-2zM20 75h9v1h-9zM46 75h2v1h-2zM52 75h2v1h-2zM75 75h1v1h-1zM81 75h2v1h-2zM9 76h2v1h-2zM17 76h3v1h-3zM27 76h4v1h-4zM44 76h2v1h-2zM54 76h9v1h-9zM70 76h12v1h-12zM10 77h8v1h-8zM29 77h16v1h-16zM56 77h2v1h-2zM63 77h10v1h-10zM12 78h3v1h-3zM32 78h4v1h-4zM39 78h4v1h-4zM68 78h3v1h-3z"/>
<path fill="#050505" d="M46 1h1v1h-1zM38 2h1v1h-1zM47 2h1v1h-1zM37 3h1v1h-1zM36 4h1v1h-1zM49 4h1v1h-1zM50 5h1v1h-1zM35 6h1v1h-1zM34 8h1v1h-1zM52 8h1v1h-1zM60 8h3v1h-3zM6 9h7v1h-7zM33 9h1v1h-1zM53 9h1v1h-1zM59 9h5v1h-5zM5 10h1v1h-1zM10 10h4v1h-4zM32 10h1v1h-1zM54 10h1v1h-1zM57 10h2v1h-2zM64 10h1v1h-1zM4 11h1v1h-1zM11 11h4v1h-4zM30 11h2v1h-2zM55 11h3v1h-3zM65 11h1v1h-1zM73 11h2v1h-2zM4 12h1v1h-1zM11 12h12v1h-12zM27 12h3v1h-3zM67 12h1v1h-1zM71 12h2v1h-2zM75 12h5v1h-5zM4 13h1v1h-1zM11 13h4v1h-4zM22 13h6v1h-6zM80 13h2v1h-2zM4 14h1v1h-1zM81 14h2v1h-2zM4 15h1v1h-1zM82 15h1v1h-1zM4 16h1v1h-1zM83 16h1v1h-1zM3 18h1v1h-1zM84 18h1v1h-1zM84 19h1v1h-1zM2 21h1v1h-1zM2 22h1v1h-1zM2 23h1v1h-1zM85 23h1v1h-1zM2 24h1v1h-1zM85 24h1v1h-1zM85 25h1v1h-1zM1 28h1v1h-1zM86 29h1v1h-1zM86 30h1v1h-1zM86 31h1v1h-1zM0 43h1v1h-1zM0 44h1v1h-1zM0 45h1v1h-1zM0 46h1v1h-1zM0 47h1v1h-1zM0 48h1v1h-1zM0 49h1v1h-1zM0 50h1v1h-1zM0 51h1v1h-1zM0 52h1v1h-1zM0 53h1v1h-1zM1 64h1v1h-1zM1 65h1v1h-1zM86 65h1v1h-1zM2 68h1v1h-1zM85 68h1v1h-1zM3 71h1v1h-1zM84 71h1v1h-1zM4 72h1v1h-1zM5 73h1v1h-1zM83 73h1v1h-1zM7 74h2v1h-2zM21 74h10v1h-10zM47 74h2v1h-2zM52 74h2v1h-2zM81 74h2v1h-2zM9 75h2v1h-2zM18 75h2v1h-2zM29 75h4v1h-4zM45 75h1v1h-1zM54 75h9v1h-9zM67 75h8v1h-8zM76 75h5v1h-5zM11 76h6v1h-6zM31 76h13v1h-13zM63 76h7v1h-7z"/>
<path fill="#060606" d="M40 1h1v1h-1zM45 1h1v1h-1zM48 3h1v1h-1zM36 5h1v1h-1zM35 7h1v1h-1zM51 7h1v1h-1zM34 9h1v1h-1zM52 9h1v1h-1zM6 10h4v1h-4zM33 10h1v1h-1zM53 10h1v1h-1zM59 10h5v1h-5zM5 11h6v1h-6zM32 11h1v1h-1zM54 11h1v1h-1zM58 11h2v1h-2zM64 11h1v1h-1zM5 12h2v1h-2zM8 12h3v1h-3zM30 12h1v1h-1zM55 12h4v1h-4zM65 12h2v1h-2zM73 12h2v1h-2zM5 13h2v1h-2zM8 13h3v1h-3zM15 13h7v1h-7zM28 13h1v1h-1zM67 13h5v1h-5zM76 13h4v1h-4zM5 14h9v1h-9zM23 14h5v1h-5zM80 14h1v1h-1zM5 15h1v1h-1zM9 15h1v1h-1zM81 15h1v1h-1zM5 16h1v1h-1zM82 16h1v1h-1zM4 17h1v1h-1zM83 17h1v1h-1zM3 19h1v1h-1zM3 20h1v1h-1zM84 20h1v1h-1zM84 21h1v1h-1zM2 25h1v1h-1zM85 26h1v1h-1zM1 29h1v1h-1zM1 30h1v1h-1zM86 32h1v1h-1zM86 33h1v1h-1zM86 34h1v1h-1zM86 35h1v1h-1zM86 36h1v1h-1zM86 37h1v1h-1zM1 58h1v1h-1zM1 59h1v1h-1zM1 60h1v1h-1zM1 61h1v1h-1zM1 62h1v1h-1zM1 63h1v1h-1zM86 63h1v1h-1zM86 64h1v1h-1zM2 67h1v1h-1zM85 67h1v1h-1zM3 70h1v1h-1zM84 70h1v1h-1zM4 71h1v1h-1zM83 72h1v1h-1zM6 73h1v1h-1zM22 73h9v1h-9zM49 73h5v1h-5zM70 73h1v1h-1zM81 73h2v1h-2zM9 74h2v1h-2zM19 74h2v1h-2zM31 74h3v1h-3zM45 74h2v1h-2zM54 74h7v1h-7zM67 74h14v1h-14zM11 75h7v1h-7zM33 75h12v1h-12zM63 75h4v1h-4z"/>
<path fill="#070707" d="M41 1h1v1h-1zM44 1h1v1h-1zM39 2h1v1h-1zM50 6h1v1h-1zM35 8h1v1h-1zM51 8h1v1h-1zM34 10h1v1h-1zM52 10h1v1h-1zM33 11h1v1h-1zM53 11h1v1h-1zM60 11h4v1h-4zM7 12h1v1h-1zM31 12h1v1h-1zM54 12h1v1h-1zM59 12h1v1h-1zM64 12h1v1h-1zM7 13h1v1h-1zM29 13h1v1h-1zM55 13h4v1h-4zM66 13h1v1h-1zM72 13h4v1h-4zM14 14h9v1h-9zM28 14h1v1h-1zM68 14h3v1h-3zM78 14h2v1h-2zM6 15h3v1h-3zM10 15h3v1h-3zM23 15h5v1h-5zM80 15h1v1h-1zM6 16h4v1h-4zM81 16h1v1h-1zM5 17h1v1h-1zM82 17h1v1h-1zM4 18h1v1h-1zM83 18h1v1h-1zM83 19h1v1h-1zM3 21h1v1h-1zM84 22h1v1h-1zM84 23h1v1h-1zM2 26h1v1h-1zM85 27h1v1h-1zM1 31h1v1h-1zM1 32h1v1h-1zM86 38h1v1h-1zM86 39h1v1h-1zM86 40h1v1h-1zM86 41h1v1h-1zM86 42h1v1h-1zM86 43h1v1h-1zM1 57h1v1h-1zM86 61h1v1h-1zM86 62h1v1h-1zM85 66h1v1h-1zM3 69h1v1h-1zM84 69h1v1h-1zM83 71h1v1h-1zM5 72h1v1h-1zM82 72h1v1h-1zM7 73h3v1h-3zM20 73h2v1h-2zM31 73h2v1h-2zM47 73h2v1h-2zM54 73h6v1h-6zM68 73h2v1h-2zM71 73h10v1h-10zM11 74h8v1h-8zM34 74h11v1h-11zM61 74h6v1h-6z"/>
<path fill="#080808" d="M42 1h2v1h-2zM46 2h1v1h-1zM38 3h1v1h-1zM37 4h1v1h-1zM48 4h1v1h-1zM49 5h1v1h-1zM36 6h1v1h-1zM50 7h1v1h-1zM35 9h1v1h-1zM51 9h1v1h-1zM34 11h1v1h-1zM52 11h1v1h-1zM32 12h1v1h-1zM53 12h1v1h-1zM60 12h4v1h-4zM30 13h1v1h-1zM54 13h1v1h-1zM59 13h1v1h-1zM64 13h2v1h-2zM29 14h1v1h-1zM56 14h3v1h-3zM66 14h2v1h-2zM71 14h2v1h-2zM74 14h4v1h-4zM13 15h10v1h-10zM28 15h1v1h-1zM78 15h2v1h-2zM10 16h2v1h-2zM23 16h4v1h-4zM80 16h1v1h-1zM6 17h3v1h-3zM81 17h1v1h-1zM5 18h1v1h-1zM82 18h1v1h-1zM4 19h1v1h-1zM83 20h1v1h-1zM3 22h1v1h-1zM3 23h1v1h-1zM84 24h1v1h-1zM84 25h1v1h-1zM2 27h1v1h-1zM85 28h1v1h-1zM1 33h1v1h-1zM1 34h1v1h-1zM1 35h1v1h-1zM1 36h1v1h-1zM1 37h1v1h-1zM1 38h1v1h-1zM1 39h1v1h-1zM1 40h1v1h-1zM86 44h1v1h-1zM86 45h1v1h-1zM86 51h1v1h-1zM86 52h1v1h-1zM86 53h1v1h-1zM86 54h1v1h-1zM1 55h1v1h-1zM86 55h1v1h-1zM1 56h1v1h-1zM86 56h1v1h-1zM86 57h1v1h-1zM86 58h1v1h-1zM86 59h1v1h-1zM86 60h1v1h-1zM2 66h1v1h-1zM3 68h1v1h-1zM84 68h1v1h-1zM4 70h1v1h-1zM83 70h1v1h-1zM5 71h1v1h-1zM82 71h1v1h-1zM6 72h1v1h-1zM22 72h10v1h-10zM50 72h8v1h-8zM69 72h4v1h-4zM79 72h3v1h-3zM10 73h5v1h-5zM18 73h2v1h-2zM33 73h4v1h-4zM45 73h2v1h-2zM60 73h3v1h-3zM66 73h2v1h-2z"/>
<path fill="#090909" d="M47 3h1v1h-1zM35 10h1v1h-1zM51 10h1v1h-1zM33 12h1v1h-1zM52 12h1v1h-1zM31 13h2v1h-2zM53 13h1v1h-1zM60 13h4v1h-4zM30 14h1v1h-1zM54 14h2v1h-2zM59 14h2v1h-2zM64 14h2v1h-2zM73 14h1v1h-1zM67 15h4v1h-4zM75 15h3v1h-3zM12 16h1v1h-1zM20 16h3v1h-3zM27 16h1v1h-1zM79 16h1v1h-1zM9 17h2v1h-2zM23 17h4v1h-4zM80 17h1v1h-1zM6 18h1v1h-1zM5 19h1v1h-1zM82 19h1v1h-1zM4 20h1v1h-1zM83 21h1v1h-1zM3 24h1v1h-1zM3 25h1v1h-1zM2 28h1v1h-1zM85 29h1v1h-1zM85 30h1v1h-1zM1 41h1v1h-1zM1 42h1v1h-1zM1 43h1v1h-1zM1 44h1v1h-1zM86 46h1v1h-1zM86 47h1v1h-1zM86 48h1v1h-1zM86 49h1v1h-1zM86 50h1v1h-1zM1 53h1v1h-1zM1 54h1v1h-1zM2 64h1v1h-1zM2 65h1v1h-1zM85 65h1v1h-1zM83 69h1v1h-1zM71 71h1v1h-1zM81 71h1v1h-1zM7 72h3v1h-3zM11 72h2v1h-2zM20 72h2v1h-2zM32 72h4v1h-4zM48 72h2v1h-2zM58 72h3v1h-3zM68 72h1v1h-1zM73 72h2v1h-2zM77 72h2v1h-2zM15 73h3v1h-3zM37 73h8v1h-8zM63 73h3v1h-3z"/>
<path fill="#0a0a0a" d="M40 2h1v1h-1zM45 2h1v1h-1zM37 5h1v1h-1zM49 6h1v1h-1zM36 7h1v1h-1zM50 8h1v1h-1zM35 11h1v1h-1zM51 11h1v1h-1zM34 12h1v1h-1zM33 13h1v1h-1zM53 14h1v1h-1zM61 14h3v1h-3zM29 15h1v1h-1zM55 15h7v1h-7zM63 15h4v1h-4zM71 15h4v1h-4zM13 16h7v1h-7zM28 16h1v1h-1zM67 16h4v1h-4zM76 16h3v1h-3zM11 17h1v1h-1zM20 17h3v1h-3zM27 17h1v1h-1zM79 17h1v1h-1zM7 18h3v1h-3zM81 18h1v1h-1zM82 20h1v1h-1zM4 21h1v1h-1zM83 22h1v1h-1zM83 23h1v1h-1zM84 26h1v1h-1zM2 29h1v1h-1zM85 31h1v1h-1zM85 32h1v1h-1zM1 45h1v1h-1zM1 46h1v1h-1zM1 50h1v1h-1zM1 51h1v1h-1zM1 52h1v1h-1zM2 61h1v1h-1zM2 62h1v1h-1zM2 63h1v1h-1zM85 64h1v1h-1zM3 67h1v1h-1zM84 67h1v1h-1zM4 69h1v1h-1zM5 70h1v1h-1zM82 70h1v1h-1zM6 71h1v1h-1zM22 71h9v1h-9zM52 71h8v1h-8zM69 71h2v1h-2zM72 71h1v1h-1zM80 71h1v1h-1zM10 72h1v1h-1zM13 72h3v1h-3zM17 72h3v1h-3zM36 72h2v1h-2zM46 72h2v1h-2zM61 72h2v1h-2zM66 72h2v1h-2zM75 72h2v1h-2z"/>
<path fill="#0b0b0b" d="M39 3h1v1h-1zM38 4h1v1h-1zM36 8h1v1h-1zM50 9h1v1h-1zM35 12h1v1h-1zM51 12h1v1h-1zM34 13h1v1h-1zM52 13h1v1h-1zM31 14h1v1h-1zM30 15h1v1h-1zM54 15h1v1h-1zM62 15h1v1h-1zM29 16h1v1h-1zM56 16h11v1h-11zM71 16h5v1h-5zM12 17h1v1h-1zM18 17h2v1h-2zM28 17h1v1h-1zM67 17h4v1h-4zM75 17h4v1h-4zM10 18h1v1h-1zM19 18h9v1h-9zM79 18h2v1h-2zM6 19h2v1h-2zM81 19h1v1h-1zM5 20h1v1h-1zM82 21h1v1h-1zM4 22h1v1h-1zM83 24h1v1h-1zM3 26h1v1h-1zM84 27h1v1h-1zM2 30h1v1h-1zM85 33h1v1h-1zM85 34h1v1h-1zM85 35h1v1h-1zM85 36h1v1h-1zM1 47h1v1h-1zM1 48h1v1h-1zM1 49h1v1h-1zM2 58h1v1h-1zM2 59h1v1h-1zM2 60h1v1h-1zM85 63h1v1h-1zM84 66h1v1h-1zM83 68h1v1h-1zM55 70h3v1h-3zM71 70h1v1h-1zM81 70h1v1h-1zM7 71h1v1h-1zM11 71h3v1h-3zM20 71h2v1h-2zM31 71h6v1h-6zM50 71h2v1h-2zM60 71h1v1h-1zM68 71h1v1h-1zM73 71h1v1h-1zM78 71h2v1h-2zM16 72h1v1h-1zM38 72h8v1h-8zM63 72h3v1h-3z"/>
<path fill="#0c0c0c" d="M41 2h1v1h-1zM44 2h1v1h-1zM46 3h1v1h-1zM48 5h1v1h-1zM37 6h1v1h-1zM36 9h1v1h-1zM32 14h2v1h-2zM52 14h1v1h-1zM31 15h1v1h-1zM53 15h1v1h-1zM54 16h2v1h-2zM13 17h5v1h-5zM29 17h1v1h-1zM58 17h9v1h-9zM71 17h4v1h-4zM11 18h1v1h-1zM18 18h1v1h-1zM28 18h1v1h-1zM60 18h12v1h-12zM73 18h6v1h-6zM8 19h2v1h-2zM19 19h8v1h-8zM79 19h2v1h-2zM6 20h1v1h-1zM81 20h1v1h-1zM5 21h1v1h-1zM82 22h1v1h-1zM4 23h1v1h-1zM4 24h1v1h-1zM83 25h1v1h-1zM3 27h1v1h-1zM84 28h1v1h-1zM2 31h1v1h-1zM85 37h1v1h-1zM85 38h1v1h-1zM85 39h1v1h-1zM85 40h1v1h-1zM85 41h1v1h-1zM2 57h1v1h-1zM85 62h1v1h-1zM3 66h1v1h-1zM4 68h1v1h-1zM82 69h1v1h-1zM23 70h5v1h-5zM52 70h3v1h-3zM58 70h2v1h-2zM69 70h2v1h-2zM72 70h1v1h-1zM80 70h1v1h-1zM8 71h3v1h-3zM14 71h6v1h-6zM37 71h1v1h-1zM49 71h1v1h-1zM61 71h1v1h-1zM67 71h1v1h-1zM74 71h4v1h-4z"/>
<path fill="#0d0d0d" d="M42 2h2v1h-2zM47 4h1v1h-1zM49 7h1v1h-1zM36 10h1v1h-1zM50 10h1v1h-1zM35 13h1v1h-1zM51 13h1v1h-1zM34 14h1v1h-1zM32 15h1v1h-1zM30 16h1v1h-1zM53 16h1v1h-1zM55 17h3v1h-3zM12 18h1v1h-1zM17 18h1v1h-1zM29 18h1v1h-1zM58 18h2v1h-2zM72 18h1v1h-1zM10 19h2v1h-2zM18 19h1v1h-1zM27 19h2v1h-2zM59 19h20v1h-20zM7 20h1v1h-1zM19 20h5v1h-5zM80 20h1v1h-1zM81 21h1v1h-1zM82 23h1v1h-1zM2 32h1v1h-1zM85 42h1v1h-1zM85 43h1v1h-1zM85 44h1v1h-1zM2 56h1v1h-1zM85 60h1v1h-1zM85 61h1v1h-1zM3 65h1v1h-1zM84 65h1v1h-1zM83 67h1v1h-1zM5 69h1v1h-1zM56 69h2v1h-2zM6 70h1v1h-1zM11 70h4v1h-4zM20 70h3v1h-3zM28 70h3v1h-3zM33 70h4v1h-4zM60 70h1v1h-1zM68 70h1v1h-1zM73 70h1v1h-1zM79 70h1v1h-1zM38 71h2v1h-2zM47 71h2v1h-2zM62 71h5v1h-5z"/>
<path fill="#0e0e0e" d="M36 11h1v1h-1zM50 11h1v1h-1zM35 14h1v1h-1zM51 14h1v1h-1zM33 15h1v1h-1zM52 15h1v1h-1zM31 16h1v1h-1zM30 17h1v1h-1zM54 17h1v1h-1zM13 18h4v1h-4zM55 18h3v1h-3zM12 19h1v1h-1zM17 19h1v1h-1zM29 19h1v1h-1zM57 19h2v1h-2zM8 20h3v1h-3zM18 20h1v1h-1zM24 20h4v1h-4zM58 20h22v1h-22zM6 21h1v1h-1zM59 21h2v1h-2zM5 22h1v1h-1zM81 22h1v1h-1zM82 24h1v1h-1zM4 25h1v1h-1zM83 26h1v1h-1zM3 28h1v1h-1zM84 29h1v1h-1zM2 33h1v1h-1zM2 34h1v1h-1zM85 45h1v1h-1zM85 52h1v1h-1zM85 53h1v1h-1zM85 54h1v1h-1zM2 55h1v1h-1zM85 55h1v1h-1zM85 56h1v1h-1zM85 57h1v1h-1zM85 58h1v1h-1zM85 59h1v1h-1zM4 67h1v1h-1zM82 68h1v1h-1zM53 69h3v1h-3zM58 69h1v1h-1zM70 69h3v1h-3zM81 69h1v1h-1zM7 70h4v1h-4zM15 70h5v1h-5zM31 70h2v1h-2zM37 70h1v1h-1zM51 70h1v1h-1zM61 70h1v1h-1zM74 70h1v1h-1zM78 70h1v1h-1zM40 71h7v1h-7z"/>
<path fill="#0f0f0f" d="M40 3h1v1h-1zM38 5h1v1h-1zM48 6h1v1h-1zM37 7h1v1h-1zM49 8h1v1h-1zM36 12h1v1h-1zM50 12h1v1h-1zM34 15h1v1h-1zM32 16h1v1h-1zM52 16h1v1h-1zM31 17h1v1h-1zM53 17h1v1h-1zM30 18h1v1h-1zM54 18h1v1h-1zM13 19h1v1h-1zM16 19h1v1h-1zM30 19h1v1h-1zM55 19h2v1h-2zM11 20h2v1h-2zM17 20h1v1h-1zM28 20h2v1h-2zM56 20h2v1h-2zM7 21h1v1h-1zM19 21h5v1h-5zM56 21h3v1h-3zM61 21h2v1h-2zM67 21h4v1h-4zM80 21h1v1h-1zM57 22h4v1h-4zM5 23h1v1h-1zM4 26h1v1h-1zM83 27h1v1h-1zM84 30h1v1h-1zM2 35h1v1h-1zM2 36h1v1h-1zM2 37h1v1h-1zM2 38h1v1h-1zM2 39h1v1h-1zM2 40h1v1h-1zM2 41h1v1h-1zM2 42h1v1h-1zM85 46h1v1h-1zM85 47h1v1h-1zM85 50h1v1h-1zM85 51h1v1h-1zM2 54h1v1h-1zM3 64h1v1h-1zM84 64h1v1h-1zM6 69h1v1h-1zM12 69h3v1h-3zM19 69h8v1h-8zM34 69h3v1h-3zM52 69h1v1h-1zM59 69h2v1h-2zM69 69h1v1h-1zM73 69h1v1h-1zM80 69h1v1h-1zM38 70h2v1h-2zM50 70h1v1h-1zM62 70h1v1h-1zM67 70h1v1h-1zM75 70h3v1h-3z"/>
<path fill="#101010" d="M45 3h1v1h-1zM39 4h1v1h-1zM36 13h1v1h-1zM50 13h1v1h-1zM35 15h1v1h-1zM51 15h1v1h-1zM33 16h2v1h-2zM31 18h1v1h-1zM53 18h1v1h-1zM14 19h2v1h-2zM54 19h1v1h-1zM13 20h2v1h-2zM16 20h1v1h-1zM54 20h2v1h-2zM8 21h4v1h-4zM17 21h2v1h-2zM24 21h5v1h-5zM55 21h1v1h-1zM63 21h4v1h-4zM71 21h9v1h-9zM6 22h1v1h-1zM56 22h1v1h-1zM61 22h1v1h-1zM80 22h1v1h-1zM57 23h3v1h-3zM81 23h1v1h-1zM5 24h1v1h-1zM82 25h1v1h-1zM3 29h1v1h-1zM84 31h1v1h-1zM84 32h1v1h-1zM2 43h1v1h-1zM2 44h1v1h-1zM85 48h1v1h-1zM85 49h1v1h-1zM2 53h1v1h-1zM3 62h1v1h-1zM3 63h1v1h-1zM4 66h1v1h-1zM83 66h1v1h-1zM5 68h1v1h-1zM55 68h3v1h-3zM70 68h3v1h-3zM81 68h1v1h-1zM10 69h2v1h-2zM15 69h4v1h-4zM27 69h3v1h-3zM33 69h1v1h-1zM37 69h1v1h-1zM68 69h1v1h-1zM74 69h1v1h-1zM79 69h1v1h-1zM40 70h1v1h-1zM49 70h1v1h-1zM63 70h4v1h-4z"/>
<path fill="#111111" d="M47 5h1v1h-1zM37 8h1v1h-1zM49 9h1v1h-1zM36 14h1v1h-1zM32 17h2v1h-2zM52 17h1v1h-1zM31 19h1v1h-1zM53 19h1v1h-1zM15 20h1v1h-1zM30 20h1v1h-1zM12 21h5v1h-5zM29 21h1v1h-1zM54 21h1v1h-1zM18 22h5v1h-5zM55 22h1v1h-1zM62 22h1v1h-1zM66 22h6v1h-6zM56 23h1v1h-1zM60 23h1v1h-1zM4 27h1v1h-1zM83 28h1v1h-1zM3 30h1v1h-1zM84 33h1v1h-1zM84 34h1v1h-1zM2 45h1v1h-1zM2 52h1v1h-1zM3 59h1v1h-1zM3 60h1v1h-1zM3 61h1v1h-1zM84 63h1v1h-1zM82 67h1v1h-1zM12 68h4v1h-4zM19 68h2v1h-2zM34 68h3v1h-3zM53 68h2v1h-2zM58 68h2v1h-2zM69 68h1v1h-1zM73 68h1v1h-1zM7 69h3v1h-3zM30 69h3v1h-3zM38 69h1v1h-1zM51 69h1v1h-1zM61 69h2v1h-2zM67 69h1v1h-1zM78 69h1v1h-1zM41 70h2v1h-2zM48 70h1v1h-1z"/>
<path fill="#121212" d="M41 3h1v1h-1zM46 4h1v1h-1zM37 9h1v1h-1zM49 10h1v1h-1zM50 14h1v1h-1zM35 16h1v1h-1zM51 16h1v1h-1zM34 17h1v1h-1zM32 18h1v1h-1zM52 18h1v1h-1zM31 20h1v1h-1zM53 20h1v1h-1zM30 21h1v1h-1zM7 22h2v1h-2zM10 22h8v1h-8zM23 22h5v1h-5zM54 22h1v1h-1zM63 22h3v1h-3zM72 22h2v1h-2zM78 22h2v1h-2zM6 23h1v1h-1zM55 23h1v1h-1zM61 23h1v1h-1zM68 23h2v1h-2zM80 23h1v1h-1zM57 24h3v1h-3zM81 24h1v1h-1zM5 25h1v1h-1zM82 26h1v1h-1zM84 35h1v1h-1zM84 36h1v1h-1zM84 37h1v1h-1zM2 46h1v1h-1zM2 50h1v1h-1zM2 51h1v1h-1zM3 58h1v1h-1zM84 62h1v1h-1zM83 65h1v1h-1zM5 67h1v1h-1zM70 67h2v1h-2zM6 68h1v1h-1zM11 68h1v1h-1zM16 68h3v1h-3zM21 68h5v1h-5zM33 68h1v1h-1zM37 68h1v1h-1zM52 68h1v1h-1zM60 68h1v1h-1zM68 68h1v1h-1zM80 68h1v1h-1zM39 69h1v1h-1zM50 69h1v1h-1zM63 69h1v1h-1zM66 69h1v1h-1zM75 69h3v1h-3zM43 70h5v1h-5z"/>
<path fill="#131313" d="M44 3h1v1h-1zM38 6h1v1h-1zM48 7h1v1h-1zM37 10h1v1h-1zM49 11h1v1h-1zM36 15h1v1h-1zM33 18h1v1h-1zM32 19h1v1h-1zM52 19h1v1h-1zM53 21h1v1h-1zM9 22h1v1h-1zM28 22h2v1h-2zM74 22h4v1h-4zM54 23h1v1h-1zM62 23h2v1h-2zM66 23h2v1h-2zM70 23h2v1h-2zM6 24h1v1h-1zM56 24h1v1h-1zM60 24h1v1h-1zM83 29h1v1h-1zM3 31h1v1h-1zM84 38h1v1h-1zM84 39h1v1h-1zM84 40h1v1h-1zM84 41h1v1h-1zM2 47h1v1h-1zM2 48h1v1h-1zM2 49h1v1h-1zM3 57h1v1h-1zM4 65h1v1h-1zM13 67h5v1h-5zM69 67h1v1h-1zM72 67h1v1h-1zM81 67h1v1h-1zM10 68h1v1h-1zM26 68h3v1h-3zM32 68h1v1h-1zM38 68h1v1h-1zM61 68h1v1h-1zM74 68h1v1h-1zM40 69h1v1h-1zM64 69h2v1h-2z"/>
<path fill="#141414" d="M37 11h1v1h-1zM37 12h1v1h-1zM35 17h1v1h-1zM51 17h1v1h-1zM34 18h1v1h-1zM33 19h1v1h-1zM32 20h1v1h-1zM31 21h1v1h-1zM30 22h1v1h-1zM53 22h1v1h-1zM7 23h1v1h-1zM11 23h16v1h-16zM64 23h2v1h-2zM72 23h1v1h-1zM79 23h1v1h-1zM55 24h1v1h-1zM61 24h1v1h-1zM67 24h4v1h-4zM80 24h1v1h-1zM81 25h1v1h-1zM5 26h1v1h-1zM82 27h1v1h-1zM4 28h1v1h-1zM3 32h1v1h-1zM84 42h1v1h-1zM84 43h1v1h-1zM3 56h1v1h-1zM84 61h1v1h-1zM4 64h1v1h-1zM82 66h1v1h-1zM12 67h1v1h-1zM18 67h5v1h-5zM34 67h3v1h-3zM53 67h6v1h-6zM68 67h1v1h-1zM73 67h1v1h-1zM7 68h1v1h-1zM9 68h1v1h-1zM29 68h3v1h-3zM51 68h1v1h-1zM62 68h1v1h-1zM67 68h1v1h-1zM75 68h1v1h-1zM79 68h1v1h-1zM41 69h1v1h-1zM49 69h1v1h-1z"/>
<path fill="#151515" d="M42 3h2v1h-2zM49 12h1v1h-1zM37 13h1v1h-1zM50 15h1v1h-1zM36 16h1v1h-1zM51 18h1v1h-1zM52 20h1v1h-1zM8 23h3v1h-3zM27 23h2v1h-2zM53 23h1v1h-1zM73 23h2v1h-2zM78 23h1v1h-1zM54 24h1v1h-1zM62 24h1v1h-1zM66 24h1v1h-1zM71 24h1v1h-1zM6 25h1v1h-1zM57 25h4v1h-4zM83 30h1v1h-1zM3 33h1v1h-1zM84 44h1v1h-1zM84 54h1v1h-1zM84 55h1v1h-1zM84 56h1v1h-1zM84 59h1v1h-1zM84 60h1v1h-1zM83 64h1v1h-1zM5 66h1v1h-1zM14 66h3v1h-3zM70 66h1v1h-1zM6 67h1v1h-1zM11 67h1v1h-1zM23 67h4v1h-4zM33 67h1v1h-1zM37 67h1v1h-1zM59 67h3v1h-3zM74 67h1v1h-1zM80 67h1v1h-1zM8 68h1v1h-1zM39 68h1v1h-1zM63 68h4v1h-4zM76 68h3v1h-3zM42 69h1v1h-1z"/>
<path fill="#161616" d="M40 4h1v1h-1zM39 5h1v1h-1zM47 6h1v1h-1zM38 7h1v1h-1zM48 8h1v1h-1zM49 13h1v1h-1zM35 18h1v1h-1zM34 19h1v1h-1zM33 20h1v1h-1zM32 21h1v1h-1zM52 21h1v1h-1zM31 22h1v1h-1zM29 23h1v1h-1zM75 23h3v1h-3zM7 24h1v1h-1zM12 24h7v1h-7zM23 24h3v1h-3zM63 24h3v1h-3zM72 24h1v1h-1zM56 25h1v1h-1zM61 25h1v1h-1zM67 25h4v1h-4zM81 26h1v1h-1zM5 27h1v1h-1zM4 29h1v1h-1zM83 31h1v1h-1zM3 34h1v1h-1zM3 39h1v1h-1zM3 40h1v1h-1zM84 45h1v1h-1zM84 52h1v1h-1zM84 53h1v1h-1zM3 55h1v1h-1zM84 57h1v1h-1zM84 58h1v1h-1zM4 63h1v1h-1zM13 66h1v1h-1zM17 66h5v1h-5zM35 66h1v1h-1zM69 66h1v1h-1zM71 66h2v1h-2zM10 67h1v1h-1zM27 67h2v1h-2zM32 67h1v1h-1zM38 67h1v1h-1zM52 67h1v1h-1zM62 67h1v1h-1zM67 67h1v1h-1zM75 67h1v1h-1zM40 68h1v1h-1zM50 68h1v1h-1zM43 69h2v1h-2zM47 69h2v1h-2z"/>
<path fill="#171717" d="M45 4h1v1h-1zM37 14h1v1h-1zM50 16h1v1h-1zM36 17h1v1h-1zM51 19h1v1h-1zM52 22h1v1h-1zM30 23h1v1h-1zM8 24h4v1h-4zM19 24h4v1h-4zM26 24h2v1h-2zM73 24h1v1h-1zM79 24h1v1h-1zM55 25h1v1h-1zM62 25h1v1h-1zM66 25h1v1h-1zM71 25h1v1h-1zM80 25h1v1h-1zM82 28h1v1h-1zM83 32h1v1h-1zM3 35h1v1h-1zM3 36h1v1h-1zM3 37h1v1h-1zM3 38h1v1h-1zM3 41h1v1h-1zM3 42h1v1h-1zM84 46h1v1h-1zM84 47h1v1h-1zM84 51h1v1h-1zM3 54h1v1h-1zM4 62h1v1h-1zM83 63h1v1h-1zM5 65h1v1h-1zM82 65h1v1h-1zM12 66h1v1h-1zM22 66h3v1h-3zM34 66h1v1h-1zM36 66h1v1h-1zM68 66h1v1h-1zM73 66h1v1h-1zM81 66h1v1h-1zM7 67h1v1h-1zM9 67h1v1h-1zM29 67h3v1h-3zM51 67h1v1h-1zM63 67h1v1h-1zM66 67h1v1h-1zM76 67h1v1h-1zM78 67h2v1h-2zM45 69h2v1h-2z"/>
<path fill="#181818" d="M46 5h1v1h-1zM35 19h1v1h-1zM34 20h1v1h-1zM33 21h1v1h-1zM32 22h1v1h-1zM31 23h1v1h-1zM28 24h1v1h-1zM53 24h1v1h-1zM74 24h1v1h-1zM78 24h1v1h-1zM7 25h1v1h-1zM63 25h3v1h-3zM72 25h1v1h-1zM6 26h1v1h-1zM58 26h1v1h-1zM67 26h4v1h-4zM4 30h1v1h-1zM83 33h1v1h-1zM83 34h1v1h-1zM3 43h1v1h-1zM84 48h1v1h-1zM84 49h1v1h-1zM84 50h1v1h-1zM3 53h1v1h-1zM4 60h1v1h-1zM4 61h1v1h-1zM14 65h5v1h-5zM6 66h1v1h-1zM11 66h1v1h-1zM25 66h3v1h-3zM33 66h1v1h-1zM37 66h1v1h-1zM53 66h10v1h-10zM67 66h1v1h-1zM74 66h1v1h-1zM8 67h1v1h-1zM39 67h1v1h-1zM64 67h2v1h-2zM77 67h1v1h-1zM41 68h1v1h-1zM49 68h1v1h-1z"/>
<path fill="#191919" d="M38 8h1v1h-1zM48 9h1v1h-1zM49 14h1v1h-1zM37 15h1v1h-1zM50 17h1v1h-1zM36 18h1v1h-1zM51 20h1v1h-1zM52 23h1v1h-1zM29 24h1v1h-1zM75 24h1v1h-1zM77 24h1v1h-1zM8 25h1v1h-1zM10 25h10v1h-10zM22 25h5v1h-5zM54 25h1v1h-1zM57 26h1v1h-1zM59 26h2v1h-2zM66 26h1v1h-1zM71 26h1v1h-1zM81 27h1v1h-1zM5 28h1v1h-1zM82 29h1v1h-1zM83 35h1v1h-1zM83 36h1v1h-1zM83 37h1v1h-1zM3 44h1v1h-1zM4 58h1v1h-1zM4 59h1v1h-1zM83 62h1v1h-1zM13 65h1v1h-1zM19 65h5v1h-5zM69 65h3v1h-3zM28 66h1v1h-1zM32 66h1v1h-1zM52 66h1v1h-1zM63 66h1v1h-1zM66 66h1v1h-1zM75 66h2v1h-2zM80 66h1v1h-1zM42 68h1v1h-1z"/>
<path fill="#1a1a1a" d="M41 4h1v1h-1zM35 20h1v1h-1zM34 21h1v1h-1zM33 22h1v1h-1zM32 23h1v1h-1zM30 24h1v1h-1zM76 24h1v1h-1zM9 25h1v1h-1zM20 25h2v1h-2zM27 25h1v1h-1zM73 25h1v1h-1zM79 25h1v1h-1zM7 26h1v1h-1zM56 26h1v1h-1zM61 26h1v1h-1zM65 26h1v1h-1zM72 26h1v1h-1zM80 26h1v1h-1zM6 27h1v1h-1zM68 27h3v1h-3zM4 31h1v1h-1zM83 38h1v1h-1zM83 39h1v1h-1zM83 40h1v1h-1zM3 45h1v1h-1zM3 52h1v1h-1zM4 57h1v1h-1zM5 64h1v1h-1zM82 64h1v1h-1zM12 65h1v1h-1zM24 65h3v1h-3zM34 65h3v1h-3zM68 65h1v1h-1zM72 65h2v1h-2zM81 65h1v1h-1zM7 66h1v1h-1zM10 66h1v1h-1zM29 66h3v1h-3zM38 66h1v1h-1zM64 66h2v1h-2zM77 66h3v1h-3zM40 67h1v1h-1zM50 67h1v1h-1zM43 68h1v1h-1zM48 68h1v1h-1z"/>
<path fill="#1b1b1b" d="M39 6h1v1h-1zM38 9h1v1h-1zM48 10h1v1h-1zM49 15h1v1h-1zM37 16h1v1h-1zM50 18h1v1h-1zM51 21h1v1h-1zM31 24h1v1h-1zM28 25h1v1h-1zM53 25h1v1h-1zM74 25h1v1h-1zM16 26h3v1h-3zM24 26h1v1h-1zM55 26h1v1h-1zM62 26h3v1h-3zM67 27h1v1h-1zM71 27h1v1h-1zM81 28h1v1h-1zM5 29h1v1h-1zM82 30h1v1h-1zM83 41h1v1h-1zM83 42h1v1h-1zM3 51h1v1h-1zM83 61h1v1h-1zM14 64h4v1h-4zM6 65h1v1h-1zM11 65h1v1h-1zM27 65h2v1h-2zM33 65h1v1h-1zM59 65h5v1h-5zM67 65h1v1h-1zM74 65h2v1h-2zM8 66h2v1h-2zM51 66h1v1h-1zM44 68h1v1h-1zM47 68h1v1h-1z"/>
<path fill="#1c1c1c" d="M44 4h1v1h-1zM47 7h1v1h-1zM38 10h1v1h-1zM48 11h1v1h-1zM36 19h1v1h-1zM34 22h1v1h-1zM33 23h1v1h-1zM52 24h1v1h-1zM29 25h1v1h-1zM75 25h1v1h-1zM78 25h1v1h-1zM8 26h8v1h-8zM19 26h5v1h-5zM25 26h2v1h-2zM73 26h1v1h-1zM66 27h1v1h-1zM80 27h1v1h-1zM68 28h2v1h-2zM82 31h1v1h-1zM4 32h1v1h-1zM83 43h1v1h-1zM3 46h1v1h-1zM3 47h1v1h-1zM3 49h1v1h-1zM3 50h1v1h-1zM4 56h1v1h-1zM83 60h1v1h-1zM5 63h1v1h-1zM82 63h1v1h-1zM13 64h1v1h-1zM18 64h8v1h-8zM69 64h1v1h-1zM29 65h1v1h-1zM31 65h2v1h-2zM37 65h1v1h-1zM53 65h6v1h-6zM64 65h3v1h-3zM76 65h2v1h-2zM80 65h1v1h-1zM39 66h1v1h-1zM41 67h1v1h-1zM49 67h1v1h-1zM45 68h2v1h-2z"/>
<path fill="#1d1d1d" d="M40 5h1v1h-1zM38 11h1v1h-1zM38 12h1v1h-1zM48 12h1v1h-1zM35 21h1v1h-1zM51 22h1v1h-1zM32 24h1v1h-1zM30 25h1v1h-1zM76 25h2v1h-2zM27 26h1v1h-1zM54 26h1v1h-1zM79 26h1v1h-1zM7 27h1v1h-1zM17 27h2v1h-2zM57 27h4v1h-4zM65 27h1v1h-1zM72 27h1v1h-1zM6 28h1v1h-1zM67 28h1v1h-1zM70 28h1v1h-1zM81 29h1v1h-1zM82 32h1v1h-1zM83 44h1v1h-1zM3 48h1v1h-1zM83 54h1v1h-1zM4 55h1v1h-1zM83 55h1v1h-1zM83 56h1v1h-1zM83 57h1v1h-1zM83 58h1v1h-1zM83 59h1v1h-1zM5 62h1v1h-1zM26 64h2v1h-2zM33 64h3v1h-3zM68 64h1v1h-1zM70 64h2v1h-2zM81 64h1v1h-1zM7 65h1v1h-1zM10 65h1v1h-1zM30 65h1v1h-1zM52 65h1v1h-1zM78 65h2v1h-2zM50 66h1v1h-1z"/>
<path fill="#1e1e1e" d="M42 4h2v1h-2zM38 13h1v1h-1zM49 16h1v1h-1zM37 17h1v1h-1zM50 19h1v1h-1zM34 23h1v1h-1zM33 24h1v1h-1zM31 25h1v1h-1zM74 26h1v1h-1zM8 27h9v1h-9zM19 27h1v1h-1zM24 27h2v1h-2zM56 27h1v1h-1zM61 27h4v1h-4zM73 27h1v1h-1zM66 28h1v1h-1zM71 28h1v1h-1zM5 30h1v1h-1zM4 33h1v1h-1zM82 33h1v1h-1zM82 34h1v1h-1zM83 45h1v1h-1zM83 53h1v1h-1zM5 61h1v1h-1zM82 62h1v1h-1zM6 64h1v1h-1zM12 64h1v1h-1zM28 64h1v1h-1zM32 64h1v1h-1zM36 64h1v1h-1zM60 64h4v1h-4zM67 64h1v1h-1zM72 64h5v1h-5zM8 65h2v1h-2zM38 65h1v1h-1zM51 65h1v1h-1zM42 67h1v1h-1z"/>
<path fill="#1f1f1f" d="M45 5h1v1h-1zM46 6h1v1h-1zM39 7h1v1h-1zM48 13h1v1h-1zM36 20h1v1h-1zM35 22h1v1h-1zM51 23h1v1h-1zM32 25h1v1h-1zM52 25h1v1h-1zM28 26h1v1h-1zM75 26h1v1h-1zM78 26h1v1h-1zM20 27h4v1h-4zM26 27h1v1h-1zM55 27h1v1h-1zM79 27h1v1h-1zM17 28h2v1h-2zM65 28h1v1h-1zM72 28h1v1h-1zM80 28h1v1h-1zM68 29h3v1h-3zM81 30h1v1h-1zM4 34h1v1h-1zM4 35h1v1h-1zM82 35h1v1h-1zM82 36h1v1h-1zM4 37h1v1h-1zM4 38h1v1h-1zM4 39h1v1h-1zM4 40h1v1h-1zM4 41h1v1h-1zM4 42h1v1h-1zM83 46h1v1h-1zM83 52h1v1h-1zM4 54h1v1h-1zM5 59h1v1h-1zM5 60h1v1h-1zM15 63h4v1h-4zM23 63h4v1h-4zM11 64h1v1h-1zM29 64h3v1h-3zM59 64h1v1h-1zM64 64h3v1h-3zM77 64h4v1h-4zM40 66h1v1h-1zM48 67h1v1h-1z"/>
<path fill="#202020" d="M47 8h1v1h-1zM38 14h1v1h-1zM37 18h1v1h-1zM50 20h1v1h-1zM29 26h2v1h-2zM53 26h1v1h-1zM76 26h2v1h-2zM27 27h1v1h-1zM74 27h1v1h-1zM7 28h1v1h-1zM15 28h2v1h-2zM19 28h1v1h-1zM64 28h1v1h-1zM73 28h1v1h-1zM6 29h1v1h-1zM67 29h1v1h-1zM71 29h1v1h-1zM4 36h1v1h-1zM82 37h1v1h-1zM82 38h1v1h-1zM82 39h1v1h-1zM4 43h1v1h-1zM83 47h1v1h-1zM83 48h1v1h-1zM83 51h1v1h-1zM5 58h1v1h-1zM82 61h1v1h-1zM6 63h1v1h-1zM13 63h2v1h-2zM19 63h4v1h-4zM27 63h1v1h-1zM33 63h2v1h-2zM68 63h3v1h-3zM81 63h1v1h-1zM7 64h1v1h-1zM10 64h1v1h-1zM37 64h1v1h-1zM57 64h2v1h-2zM49 66h1v1h-1zM43 67h1v1h-1z"/>
<path fill="#212121" d="M36 21h1v1h-1zM35 23h1v1h-1zM34 24h1v1h-1zM33 25h1v1h-1zM31 26h1v1h-1zM75 27h1v1h-1zM78 27h1v1h-1zM8 28h7v1h-7zM20 28h6v1h-6zM57 28h3v1h-3zM63 28h1v1h-1zM79 28h1v1h-1zM17 29h2v1h-2zM66 29h1v1h-1zM72 29h1v1h-1zM80 29h1v1h-1zM68 30h2v1h-2zM5 31h1v1h-1zM81 31h1v1h-1zM82 40h1v1h-1zM83 49h1v1h-1zM83 50h1v1h-1zM4 53h1v1h-1zM5 57h1v1h-1zM12 63h1v1h-1zM28 63h2v1h-2zM32 63h1v1h-1zM35 63h1v1h-1zM60 63h3v1h-3zM67 63h1v1h-1zM71 63h2v1h-2zM74 63h4v1h-4zM80 63h1v1h-1zM8 64h2v1h-2zM52 64h5v1h-5zM39 65h1v1h-1zM50 65h1v1h-1zM44 67h1v1h-1zM47 67h1v1h-1z"/>
<path fill="#222222" d="M48 14h1v1h-1zM38 15h1v1h-1zM49 17h1v1h-1zM51 24h1v1h-1zM32 26h1v1h-1zM28 27h1v1h-1zM54 27h1v1h-1zM76 27h2v1h-2zM26 28h1v1h-1zM56 28h1v1h-1zM60 28h3v1h-3zM74 28h1v1h-1zM15 29h2v1h-2zM19 29h2v1h-2zM65 29h1v1h-1zM73 29h1v1h-1zM67 30h1v1h-1zM70 30h1v1h-1zM80 30h1v1h-1zM81 32h1v1h-1zM81 33h1v1h-1zM82 41h1v1h-1zM82 42h1v1h-1zM4 44h1v1h-1zM5 56h1v1h-1zM82 60h1v1h-1zM6 62h1v1h-1zM81 62h1v1h-1zM11 63h1v1h-1zM30 63h2v1h-2zM59 63h1v1h-1zM63 63h4v1h-4zM73 63h1v1h-1zM78 63h2v1h-2zM51 64h1v1h-1zM41 66h1v1h-1zM45 67h2v1h-2z"/>
<path fill="#232323" d="M41 5h1v1h-1zM39 8h1v1h-1zM37 19h1v1h-1zM50 21h1v1h-1zM34 25h1v1h-1zM33 26h1v1h-1zM29 27h2v1h-2zM27 28h1v1h-1zM75 28h4v1h-4zM7 29h1v1h-1zM11 29h4v1h-4zM21 29h5v1h-5zM64 29h1v1h-1zM74 29h1v1h-1zM79 29h1v1h-1zM6 30h1v1h-1zM17 30h3v1h-3zM66 30h1v1h-1zM71 30h1v1h-1zM80 31h1v1h-1zM5 32h1v1h-1zM81 34h1v1h-1zM81 35h1v1h-1zM82 43h1v1h-1zM4 52h1v1h-1zM82 59h1v1h-1zM6 61h1v1h-1zM17 62h4v1h-4zM22 62h6v1h-6zM33 62h2v1h-2zM76 62h2v1h-2zM7 63h1v1h-1zM10 63h1v1h-1zM36 63h1v1h-1zM58 63h1v1h-1zM38 64h1v1h-1zM48 66h1v1h-1z"/>
<path fill="#242424" d="M40 6h1v1h-1zM47 9h1v1h-1zM36 22h1v1h-1zM35 24h1v1h-1zM52 26h1v1h-1zM31 27h1v1h-1zM28 28h1v1h-1zM55 28h1v1h-1zM8 29h3v1h-3zM26 29h1v1h-1zM57 29h2v1h-2zM63 29h1v1h-1zM75 29h4v1h-4zM15 30h2v1h-2zM20 30h1v1h-1zM72 30h8v1h-8zM68 31h3v1h-3zM79 31h1v1h-1zM80 32h1v1h-1zM81 36h1v1h-1zM81 37h1v1h-1zM82 44h1v1h-1zM4 45h1v1h-1zM4 51h1v1h-1zM5 55h1v1h-1zM82 55h1v1h-1zM82 56h1v1h-1zM82 57h1v1h-1zM82 58h1v1h-1zM6 60h1v1h-1zM81 61h1v1h-1zM14 62h3v1h-3zM21 62h1v1h-1zM28 62h1v1h-1zM32 62h1v1h-1zM35 62h1v1h-1zM68 62h4v1h-4zM74 62h2v1h-2zM78 62h3v1h-3zM8 63h2v1h-2zM57 63h1v1h-1zM50 64h1v1h-1zM40 65h1v1h-1zM49 65h1v1h-1zM42 66h1v1h-1z"/>
<path fill="#252525" d="M44 5h1v1h-1zM48 15h1v1h-1zM38 16h1v1h-1zM49 18h1v1h-1zM50 22h1v1h-1zM32 27h1v1h-1zM53 27h1v1h-1zM29 28h1v1h-1zM27 29h1v1h-1zM56 29h1v1h-1zM59 29h2v1h-2zM62 29h1v1h-1zM12 30h3v1h-3zM21 30h6v1h-6zM65 30h1v1h-1zM18 31h3v1h-3zM67 31h1v1h-1zM71 31h1v1h-1zM75 31h4v1h-4zM77 32h3v1h-3zM5 33h1v1h-1zM80 33h1v1h-1zM81 38h1v1h-1zM81 39h1v1h-1zM82 45h1v1h-1zM4 46h1v1h-1zM82 54h1v1h-1zM6 59h1v1h-1zM76 61h2v1h-2zM7 62h1v1h-1zM12 62h2v1h-2zM29 62h3v1h-3zM60 62h4v1h-4zM66 62h2v1h-2zM72 62h2v1h-2zM37 63h1v1h-1zM55 63h2v1h-2z"/>
<path fill="#262626" d="M46 7h1v1h-1zM39 9h1v1h-1zM37 20h1v1h-1zM36 23h1v1h-1zM35 25h1v1h-1zM51 25h1v1h-1zM34 26h1v1h-1zM30 28h1v1h-1zM54 28h1v1h-1zM28 29h1v1h-1zM61 29h1v1h-1zM7 30h1v1h-1zM10 30h2v1h-2zM27 30h1v1h-1zM64 30h1v1h-1zM6 31h1v1h-1zM15 31h3v1h-3zM21 31h6v1h-6zM66 31h1v1h-1zM72 31h3v1h-3zM22 32h3v1h-3zM68 32h2v1h-2zM76 32h1v1h-1zM78 33h2v1h-2zM5 34h1v1h-1zM80 34h1v1h-1zM80 35h1v1h-1zM5 39h1v1h-1zM5 40h1v1h-1zM81 40h1v1h-1zM5 41h1v1h-1zM82 46h1v1h-1zM4 50h1v1h-1zM82 53h1v1h-1zM5 54h1v1h-1zM6 57h1v1h-1zM6 58h1v1h-1zM81 60h1v1h-1zM32 61h3v1h-3zM74 61h2v1h-2zM78 61h3v1h-3zM8 62h4v1h-4zM58 62h2v1h-2zM64 62h2v1h-2zM51 63h4v1h-4zM43 66h1v1h-1zM47 66h1v1h-1z"/>
<path fill="#272727" d="M47 10h1v1h-1zM33 27h1v1h-1zM31 28h1v1h-1zM29 29h1v1h-1zM55 29h1v1h-1zM8 30h2v1h-2zM28 30h1v1h-1zM57 30h2v1h-2zM63 30h1v1h-1zM11 31h4v1h-4zM27 31h1v1h-1zM65 31h1v1h-1zM19 32h3v1h-3zM25 32h2v1h-2zM67 32h1v1h-1zM70 32h2v1h-2zM75 32h1v1h-1zM22 33h3v1h-3zM76 33h2v1h-2zM79 34h1v1h-1zM5 35h1v1h-1zM5 36h1v1h-1zM80 36h1v1h-1zM5 37h1v1h-1zM80 37h1v1h-1zM5 38h1v1h-1zM81 41h1v1h-1zM5 42h1v1h-1zM4 47h1v1h-1zM82 47h1v1h-1zM4 48h1v1h-1zM4 49h1v1h-1zM82 52h1v1h-1zM81 59h1v1h-1zM75 60h3v1h-3zM7 61h1v1h-1zM17 61h12v1h-12zM31 61h1v1h-1zM68 61h6v1h-6zM36 62h1v1h-1zM39 64h1v1h-1zM49 64h1v1h-1zM48 65h1v1h-1zM44 66h1v1h-1zM46 66h1v1h-1z"/>
<path fill="#282828" d="M42 5h2v1h-2zM45 6h1v1h-1zM39 10h1v1h-1zM47 11h1v1h-1zM38 17h1v1h-1zM49 19h1v1h-1zM50 23h1v1h-1zM32 28h1v1h-1zM30 29h1v1h-1zM29 30h1v1h-1zM56 30h1v1h-1zM59 30h4v1h-4zM10 31h1v1h-1zM28 31h1v1h-1zM64 31h1v1h-1zM6 32h1v1h-1zM12 32h7v1h-7zM27 32h1v1h-1zM66 32h1v1h-1zM72 32h3v1h-3zM21 33h1v1h-1zM25 33h1v1h-1zM68 33h2v1h-2zM75 33h1v1h-1zM23 34h2v1h-2zM77 34h2v1h-2zM79 35h1v1h-1zM79 36h1v1h-1zM80 38h1v1h-1zM81 42h1v1h-1zM5 43h1v1h-1zM82 48h1v1h-1zM82 51h1v1h-1zM5 53h1v1h-1zM6 56h1v1h-1zM76 58h1v1h-1zM81 58h1v1h-1zM75 59h3v1h-3zM7 60h1v1h-1zM74 60h1v1h-1zM78 60h3v1h-3zM8 61h1v1h-1zM13 61h4v1h-4zM29 61h2v1h-2zM35 61h1v1h-1zM60 61h2v1h-2zM66 61h2v1h-2zM57 62h1v1h-1zM50 63h1v1h-1zM41 65h1v1h-1zM45 66h1v1h-1z"/>
<path fill="#292929" d="M39 11h1v1h-1zM47 12h1v1h-1zM48 16h1v1h-1zM37 21h1v1h-1zM36 24h1v1h-1zM34 27h1v1h-1zM31 29h1v1h-1zM30 30h1v1h-1zM7 31h3v1h-3zM29 31h1v1h-1zM57 31h2v1h-2zM63 31h1v1h-1zM11 32h1v1h-1zM28 32h1v1h-1zM65 32h1v1h-1zM20 33h1v1h-1zM26 33h1v1h-1zM67 33h1v1h-1zM70 33h2v1h-2zM74 33h1v1h-1zM22 34h1v1h-1zM25 34h1v1h-1zM76 34h1v1h-1zM23 35h1v1h-1zM78 35h1v1h-1zM79 37h1v1h-1zM80 39h1v1h-1zM81 43h1v1h-1zM82 49h1v1h-1zM82 50h1v1h-1zM6 55h1v1h-1zM81 56h1v1h-1zM81 57h1v1h-1zM74 58h2v1h-2zM77 58h1v1h-1zM7 59h1v1h-1zM74 59h1v1h-1zM78 59h1v1h-1zM80 59h1v1h-1zM32 60h3v1h-3zM72 60h2v1h-2zM9 61h4v1h-4zM59 61h1v1h-1zM62 61h4v1h-4zM55 62h2v1h-2zM38 63h1v1h-1z"/>
<path fill="#2a2a2a" d="M40 7h1v1h-1zM39 12h1v1h-1zM35 26h1v1h-1zM52 27h1v1h-1zM33 28h1v1h-1zM53 28h1v1h-1zM54 29h1v1h-1zM55 30h1v1h-1zM56 31h1v1h-1zM59 31h2v1h-2zM62 31h1v1h-1zM10 32h1v1h-1zM29 32h1v1h-1zM57 32h2v1h-2zM6 33h1v1h-1zM11 33h5v1h-5zM17 33h3v1h-3zM27 33h2v1h-2zM66 33h1v1h-1zM72 33h2v1h-2zM11 34h2v1h-2zM21 34h1v1h-1zM26 34h1v1h-1zM68 34h3v1h-3zM75 34h1v1h-1zM22 35h1v1h-1zM24 35h2v1h-2zM77 35h1v1h-1zM78 36h1v1h-1zM79 38h1v1h-1zM80 40h1v1h-1zM5 44h1v1h-1zM81 44h1v1h-1zM5 52h1v1h-1zM81 54h1v1h-1zM81 55h1v1h-1zM7 57h1v1h-1zM75 57h3v1h-3zM7 58h1v1h-1zM78 58h1v1h-1zM73 59h1v1h-1zM79 59h1v1h-1zM8 60h1v1h-1zM17 60h4v1h-4zM25 60h4v1h-4zM31 60h1v1h-1zM68 60h4v1h-4zM36 61h1v1h-1zM58 61h1v1h-1zM37 62h1v1h-1zM51 62h4v1h-4zM49 63h1v1h-1zM47 65h1v1h-1z"/>
<path fill="#2b2b2b" d="M39 13h1v1h-1zM47 13h1v1h-1zM49 20h1v1h-1zM50 24h1v1h-1zM51 26h1v1h-1zM32 29h1v1h-1zM31 30h1v1h-1zM30 31h1v1h-1zM61 31h1v1h-1zM7 32h1v1h-1zM9 32h1v1h-1zM56 32h1v1h-1zM59 32h1v1h-1zM63 32h2v1h-2zM10 33h1v1h-1zM16 33h1v1h-1zM29 33h1v1h-1zM57 33h2v1h-2zM65 33h1v1h-1zM13 34h2v1h-2zM20 34h1v1h-1zM27 34h1v1h-1zM67 34h1v1h-1zM71 34h2v1h-2zM74 34h1v1h-1zM11 35h3v1h-3zM76 35h1v1h-1zM23 36h2v1h-2zM77 36h1v1h-1zM78 37h1v1h-1zM79 39h1v1h-1zM6 40h1v1h-1zM6 41h1v1h-1zM81 45h1v1h-1zM6 54h1v1h-1zM7 56h1v1h-1zM75 56h2v1h-2zM74 57h1v1h-1zM78 57h1v1h-1zM80 57h1v1h-1zM73 58h1v1h-1zM79 58h2v1h-2zM8 59h1v1h-1zM32 59h2v1h-2zM72 59h1v1h-1zM9 60h2v1h-2zM15 60h2v1h-2zM21 60h4v1h-4zM29 60h2v1h-2zM35 60h1v1h-1zM66 60h2v1h-2zM57 61h1v1h-1zM50 62h1v1h-1zM40 64h1v1h-1zM48 64h1v1h-1zM42 65h1v1h-1z"/>
<path fill="#2c2c2c" d="M41 6h1v1h-1zM46 8h1v1h-1zM38 18h1v1h-1zM37 22h1v1h-1zM36 25h1v1h-1zM31 31h1v1h-1zM55 31h1v1h-1zM8 32h1v1h-1zM30 32h1v1h-1zM60 32h3v1h-3zM9 33h1v1h-1zM59 33h1v1h-1zM64 33h1v1h-1zM6 34h1v1h-1zM10 34h1v1h-1zM15 34h5v1h-5zM28 34h1v1h-1zM58 34h1v1h-1zM66 34h1v1h-1zM73 34h1v1h-1zM6 35h1v1h-1zM10 35h1v1h-1zM14 35h1v1h-1zM21 35h1v1h-1zM26 35h1v1h-1zM67 35h5v1h-5zM11 36h3v1h-3zM22 36h1v1h-1zM25 36h1v1h-1zM11 37h2v1h-2zM24 37h1v1h-1zM6 38h1v1h-1zM78 38h1v1h-1zM6 39h1v1h-1zM80 41h1v1h-1zM6 42h1v1h-1zM5 45h1v1h-1zM81 46h1v1h-1zM5 51h1v1h-1zM81 53h1v1h-1zM74 56h1v1h-1zM77 56h1v1h-1zM80 56h1v1h-1zM73 57h1v1h-1zM79 57h1v1h-1zM8 58h1v1h-1zM18 59h2v1h-2zM31 59h1v1h-1zM34 59h1v1h-1zM71 59h1v1h-1zM11 60h4v1h-4zM59 60h7v1h-7zM55 61h2v1h-2z"/>
<path fill="#2d2d2d" d="M39 14h1v1h-1zM35 27h1v1h-1zM34 28h1v1h-1zM33 29h1v1h-1zM32 30h1v1h-1zM54 30h1v1h-1zM7 33h2v1h-2zM30 33h1v1h-1zM56 33h1v1h-1zM60 33h4v1h-4zM9 34h1v1h-1zM29 34h1v1h-1zM57 34h1v1h-1zM59 34h1v1h-1zM65 34h1v1h-1zM15 35h2v1h-2zM20 35h1v1h-1zM27 35h1v1h-1zM58 35h1v1h-1zM66 35h1v1h-1zM72 35h4v1h-4zM6 36h1v1h-1zM10 36h1v1h-1zM14 36h1v1h-1zM26 36h1v1h-1zM68 36h2v1h-2zM76 36h1v1h-1zM6 37h1v1h-1zM10 37h1v1h-1zM13 37h1v1h-1zM23 37h1v1h-1zM25 37h1v1h-1zM77 37h1v1h-1zM11 38h1v1h-1zM78 39h1v1h-1zM79 40h1v1h-1zM80 42h1v1h-1zM81 47h1v1h-1zM81 52h1v1h-1zM7 55h1v1h-1zM80 55h1v1h-1zM78 56h2v1h-2zM8 57h1v1h-1zM32 58h2v1h-2zM72 58h1v1h-1zM9 59h2v1h-2zM16 59h2v1h-2zM20 59h2v1h-2zM26 59h5v1h-5zM68 59h3v1h-3zM57 60h2v1h-2zM51 61h4v1h-4zM39 63h1v1h-1zM43 65h1v1h-1zM46 65h1v1h-1z"/>
<path fill="#2e2e2e" d="M47 14h1v1h-1zM48 17h1v1h-1zM49 21h1v1h-1zM37 23h1v1h-1zM31 32h1v1h-1zM55 32h1v1h-1zM7 34h2v1h-2zM30 34h1v1h-1zM56 34h1v1h-1zM60 34h5v1h-5zM9 35h1v1h-1zM17 35h3v1h-3zM28 35h1v1h-1zM57 35h1v1h-1zM59 35h1v1h-1zM65 35h1v1h-1zM9 36h1v1h-1zM15 36h2v1h-2zM21 36h1v1h-1zM66 36h2v1h-2zM70 36h3v1h-3zM14 37h2v1h-2zM22 37h1v1h-1zM10 38h1v1h-1zM12 38h2v1h-2zM23 38h3v1h-3zM77 38h1v1h-1zM7 40h1v1h-1zM79 41h1v1h-1zM6 43h1v1h-1zM80 43h1v1h-1zM5 46h1v1h-1zM81 48h1v1h-1zM81 49h1v1h-1zM5 50h1v1h-1zM81 51h1v1h-1zM6 53h1v1h-1zM80 54h1v1h-1zM75 55h5v1h-5zM8 56h1v1h-1zM73 56h1v1h-1zM72 57h1v1h-1zM9 58h1v1h-1zM31 58h1v1h-1zM34 58h1v1h-1zM71 58h1v1h-1zM11 59h5v1h-5zM22 59h4v1h-4zM35 59h1v1h-1zM60 59h8v1h-8zM36 60h1v1h-1zM55 60h2v1h-2zM37 61h1v1h-1zM38 62h1v1h-1zM49 62h1v1h-1zM48 63h1v1h-1zM47 64h1v1h-1zM44 65h2v1h-2z"/>
<path fill="#2f2f2f" d="M39 15h1v1h-1zM38 19h1v1h-1zM50 25h1v1h-1zM53 29h1v1h-1zM32 31h1v1h-1zM31 33h1v1h-1zM55 33h1v1h-1zM7 35h2v1h-2zM29 35h1v1h-1zM60 35h5v1h-5zM7 36h1v1h-1zM17 36h1v1h-1zM20 36h1v1h-1zM27 36h1v1h-1zM57 36h4v1h-4zM65 36h1v1h-1zM73 36h3v1h-3zM7 37h1v1h-1zM9 37h1v1h-1zM16 37h1v1h-1zM21 37h1v1h-1zM26 37h1v1h-1zM66 37h6v1h-6zM76 37h1v1h-1zM7 38h1v1h-1zM9 38h1v1h-1zM14 38h1v1h-1zM67 38h1v1h-1zM7 39h1v1h-1zM9 39h4v1h-4zM77 39h1v1h-1zM78 40h1v1h-1zM7 41h1v1h-1zM80 44h1v1h-1zM5 47h1v1h-1zM5 49h1v1h-1zM81 50h1v1h-1zM80 53h1v1h-1zM7 54h1v1h-1zM8 55h1v1h-1zM74 55h1v1h-1zM9 56h1v1h-1zM9 57h1v1h-1zM32 57h1v1h-1zM10 58h3v1h-3zM16 58h6v1h-6zM27 58h4v1h-4zM70 58h1v1h-1zM58 59h2v1h-2zM52 60h3v1h-3zM50 61h1v1h-1zM41 64h1v1h-1z"/>
<path fill="#303030" d="M44 6h1v1h-1zM40 8h1v1h-1zM36 26h1v1h-1zM52 28h1v1h-1zM33 30h1v1h-1zM54 31h1v1h-1zM32 32h1v1h-1zM31 34h1v1h-1zM30 35h1v1h-1zM56 35h1v1h-1zM8 36h1v1h-1zM18 36h2v1h-2zM28 36h1v1h-1zM61 36h4v1h-4zM8 37h1v1h-1zM17 37h1v1h-1zM27 37h1v1h-1zM58 37h3v1h-3zM64 37h2v1h-2zM72 37h1v1h-1zM75 37h1v1h-1zM8 38h1v1h-1zM15 38h1v1h-1zM22 38h1v1h-1zM26 38h1v1h-1zM65 38h2v1h-2zM68 38h4v1h-4zM76 38h1v1h-1zM8 39h1v1h-1zM13 39h1v1h-1zM23 39h3v1h-3zM66 39h5v1h-5zM8 40h4v1h-4zM67 40h3v1h-3zM77 40h1v1h-1zM78 41h1v1h-1zM7 42h1v1h-1zM79 42h1v1h-1zM6 44h1v1h-1zM80 45h1v1h-1zM5 48h1v1h-1zM6 52h1v1h-1zM76 54h4v1h-4zM9 55h1v1h-1zM73 55h1v1h-1zM10 56h2v1h-2zM72 56h1v1h-1zM10 57h4v1h-4zM30 57h2v1h-2zM33 57h1v1h-1zM71 57h1v1h-1zM13 58h3v1h-3zM22 58h5v1h-5zM35 58h1v1h-1zM61 58h9v1h-9zM36 59h1v1h-1zM55 59h3v1h-3zM51 60h1v1h-1z"/>
<path fill="#313131" d="M45 7h1v1h-1zM46 9h1v1h-1zM49 22h1v1h-1zM37 24h1v1h-1zM51 27h1v1h-1zM34 29h1v1h-1zM55 34h1v1h-1zM29 36h1v1h-1zM56 36h1v1h-1zM18 37h1v1h-1zM20 37h1v1h-1zM28 37h1v1h-1zM57 37h1v1h-1zM61 37h3v1h-3zM73 37h2v1h-2zM16 38h1v1h-1zM21 38h1v1h-1zM27 38h1v1h-1zM58 38h7v1h-7zM72 38h1v1h-1zM75 38h1v1h-1zM14 39h2v1h-2zM22 39h1v1h-1zM26 39h1v1h-1zM58 39h3v1h-3zM65 39h1v1h-1zM71 39h2v1h-2zM76 39h1v1h-1zM12 40h1v1h-1zM24 40h2v1h-2zM59 40h2v1h-2zM65 40h2v1h-2zM70 40h2v1h-2zM8 41h2v1h-2zM66 41h6v1h-6zM80 46h1v1h-1zM64 52h2v1h-2zM80 52h1v1h-1zM7 53h1v1h-1zM64 53h3v1h-3zM79 53h1v1h-1zM8 54h1v1h-1zM11 54h3v1h-3zM64 54h2v1h-2zM75 54h1v1h-1zM10 55h5v1h-5zM64 55h1v1h-1zM12 56h3v1h-3zM30 56h3v1h-3zM63 56h3v1h-3zM14 57h16v1h-16zM34 57h1v1h-1zM62 57h5v1h-5zM70 57h1v1h-1zM59 58h2v1h-2zM53 59h2v1h-2zM40 63h1v1h-1z"/>
<path fill="#323232" d="M42 6h1v1h-1zM47 15h1v1h-1zM35 28h1v1h-1zM53 30h1v1h-1zM54 32h1v1h-1zM32 33h1v1h-1zM31 35h1v1h-1zM30 36h1v1h-1zM19 37h1v1h-1zM17 38h1v1h-1zM57 38h1v1h-1zM73 38h2v1h-2zM16 39h1v1h-1zM27 39h1v1h-1zM57 39h1v1h-1zM61 39h4v1h-4zM73 39h3v1h-3zM13 40h1v1h-1zM23 40h1v1h-1zM26 40h2v1h-2zM58 40h1v1h-1zM61 40h4v1h-4zM72 40h2v1h-2zM76 40h1v1h-1zM10 41h2v1h-2zM58 41h3v1h-3zM65 41h1v1h-1zM72 41h1v1h-1zM77 41h1v1h-1zM8 42h1v1h-1zM67 42h5v1h-5zM78 42h1v1h-1zM7 43h1v1h-1zM79 43h1v1h-1zM80 47h1v1h-1zM80 48h1v1h-1zM80 49h1v1h-1zM80 50h1v1h-1zM6 51h1v1h-1zM64 51h2v1h-2zM80 51h1v1h-1zM63 52h1v1h-1zM66 52h1v1h-1zM12 53h3v1h-3zM63 53h1v1h-1zM78 53h1v1h-1zM9 54h2v1h-2zM14 54h2v1h-2zM63 54h1v1h-1zM66 54h1v1h-1zM74 54h1v1h-1zM15 55h1v1h-1zM63 55h1v1h-1zM65 55h2v1h-2zM72 55h1v1h-1zM15 56h10v1h-10zM27 56h3v1h-3zM33 56h1v1h-1zM62 56h1v1h-1zM66 56h1v1h-1zM71 56h1v1h-1zM60 57h2v1h-2zM67 57h3v1h-3zM54 58h5v1h-5zM52 59h1v1h-1zM37 60h1v1h-1zM50 60h1v1h-1zM49 61h1v1h-1zM48 62h1v1h-1zM47 63h1v1h-1zM42 64h1v1h-1zM46 64h1v1h-1z"/>
<path fill="#333333" d="M43 6h1v1h-1zM39 16h1v1h-1zM48 18h1v1h-1zM38 20h1v1h-1zM33 31h1v1h-1zM32 34h1v1h-1zM55 35h1v1h-1zM29 37h1v1h-1zM56 37h1v1h-1zM18 38h3v1h-3zM28 38h1v1h-1zM17 39h1v1h-1zM21 39h1v1h-1zM28 39h1v1h-1zM14 40h3v1h-3zM22 40h1v1h-1zM28 40h1v1h-1zM57 40h1v1h-1zM74 40h2v1h-2zM12 41h1v1h-1zM24 41h4v1h-4zM61 41h4v1h-4zM73 41h4v1h-4zM58 42h4v1h-4zM65 42h2v1h-2zM72 42h2v1h-2zM68 43h3v1h-3zM79 44h1v1h-1zM6 45h1v1h-1zM63 51h1v1h-1zM66 51h1v1h-1zM7 52h1v1h-1zM12 52h4v1h-4zM67 52h1v1h-1zM79 52h1v1h-1zM8 53h1v1h-1zM10 53h2v1h-2zM15 53h2v1h-2zM67 53h1v1h-1zM77 53h1v1h-1zM16 54h1v1h-1zM62 54h1v1h-1zM67 54h1v1h-1zM73 54h1v1h-1zM16 55h2v1h-2zM21 55h4v1h-4zM28 55h4v1h-4zM62 55h1v1h-1zM67 55h1v1h-1zM25 56h2v1h-2zM61 56h1v1h-1zM67 56h1v1h-1zM70 56h1v1h-1zM35 57h1v1h-1zM58 57h2v1h-2zM36 58h1v1h-1zM53 58h1v1h-1zM51 59h1v1h-1zM38 61h1v1h-1zM39 62h1v1h-1z"/>
<path fill="#343434" d="M40 9h1v1h-1zM49 23h1v1h-1zM50 26h1v1h-1zM36 27h1v1h-1zM52 29h1v1h-1zM34 30h1v1h-1zM33 32h1v1h-1zM54 33h1v1h-1zM31 36h1v1h-1zM30 37h1v1h-1zM29 38h1v1h-1zM56 38h1v1h-1zM18 39h3v1h-3zM17 40h2v1h-2zM21 40h1v1h-1zM13 41h5v1h-5zM23 41h1v1h-1zM28 41h1v1h-1zM57 41h1v1h-1zM9 42h2v1h-2zM16 42h2v1h-2zM24 42h4v1h-4zM57 42h1v1h-1zM62 42h3v1h-3zM74 42h4v1h-4zM16 43h3v1h-3zM58 43h3v1h-3zM66 43h2v1h-2zM71 43h2v1h-2zM78 43h1v1h-1zM16 44h2v1h-2zM17 45h1v1h-1zM79 45h1v1h-1zM6 50h1v1h-1zM63 50h3v1h-3zM13 51h4v1h-4zM79 51h1v1h-1zM11 52h1v1h-1zM16 52h2v1h-2zM62 52h1v1h-1zM78 52h1v1h-1zM9 53h1v1h-1zM17 53h1v1h-1zM62 53h1v1h-1zM75 53h2v1h-2zM17 54h1v1h-1zM21 54h4v1h-4zM29 54h2v1h-2zM72 54h1v1h-1zM18 55h3v1h-3zM25 55h3v1h-3zM32 55h1v1h-1zM61 55h1v1h-1zM71 55h1v1h-1zM34 56h1v1h-1zM59 56h2v1h-2zM68 56h2v1h-2zM55 57h3v1h-3zM43 64h1v1h-1zM45 64h1v1h-1z"/>
<path fill="#353535" d="M41 7h1v1h-1zM46 10h1v1h-1zM37 25h1v1h-1zM53 31h1v1h-1zM33 33h1v1h-1zM32 35h1v1h-1zM55 36h1v1h-1zM29 39h1v1h-1zM56 39h1v1h-1zM19 40h2v1h-2zM29 40h1v1h-1zM18 41h2v1h-2zM21 41h2v1h-2zM29 41h1v1h-1zM11 42h2v1h-2zM15 42h1v1h-1zM18 42h2v1h-2zM23 42h1v1h-1zM28 42h1v1h-1zM8 43h1v1h-1zM15 43h1v1h-1zM19 43h1v1h-1zM25 43h2v1h-2zM61 43h5v1h-5zM73 43h1v1h-1zM7 44h1v1h-1zM15 44h1v1h-1zM18 44h1v1h-1zM59 44h1v1h-1zM69 44h2v1h-2zM15 45h2v1h-2zM18 45h1v1h-1zM6 46h1v1h-1zM16 46h3v1h-3zM79 46h1v1h-1zM17 47h1v1h-1zM79 47h1v1h-1zM17 48h1v1h-1zM79 48h1v1h-1zM16 49h3v1h-3zM79 49h1v1h-1zM13 50h6v1h-6zM66 50h1v1h-1zM79 50h1v1h-1zM12 51h1v1h-1zM17 51h2v1h-2zM62 51h1v1h-1zM67 51h1v1h-1zM8 52h1v1h-1zM10 52h1v1h-1zM18 52h1v1h-1zM68 52h1v1h-1zM77 52h1v1h-1zM18 53h1v1h-1zM21 53h3v1h-3zM68 53h1v1h-1zM74 53h1v1h-1zM18 54h3v1h-3zM25 54h4v1h-4zM31 54h1v1h-1zM61 54h1v1h-1zM68 54h1v1h-1zM71 54h1v1h-1zM33 55h1v1h-1zM60 55h1v1h-1zM68 55h3v1h-3zM56 56h3v1h-3zM54 57h1v1h-1zM52 58h1v1h-1zM37 59h1v1h-1zM44 64h1v1h-1z"/>
<path fill="#363636" d="M38 21h1v1h-1zM35 29h1v1h-1zM54 34h1v1h-1zM31 37h1v1h-1zM55 37h1v1h-1zM30 38h1v1h-1zM30 39h1v1h-1zM56 40h1v1h-1zM20 41h1v1h-1zM13 42h2v1h-2zM20 42h3v1h-3zM29 42h1v1h-1zM9 43h1v1h-1zM14 43h1v1h-1zM20 43h1v1h-1zM23 43h2v1h-2zM27 43h2v1h-2zM57 43h1v1h-1zM74 43h4v1h-4zM14 44h1v1h-1zM19 44h1v1h-1zM24 44h1v1h-1zM58 44h1v1h-1zM60 44h5v1h-5zM67 44h2v1h-2zM71 44h2v1h-2zM78 44h1v1h-1zM14 45h1v1h-1zM19 45h1v1h-1zM14 46h2v1h-2zM19 46h1v1h-1zM6 47h1v1h-1zM13 47h4v1h-4zM18 47h2v1h-2zM6 48h1v1h-1zM13 48h4v1h-4zM18 48h2v1h-2zM6 49h1v1h-1zM13 49h3v1h-3zM19 49h1v1h-1zM63 49h3v1h-3zM12 50h1v1h-1zM19 50h1v1h-1zM62 50h1v1h-1zM7 51h1v1h-1zM11 51h1v1h-1zM19 51h2v1h-2zM78 51h1v1h-1zM9 52h1v1h-1zM19 52h3v1h-3zM61 52h1v1h-1zM19 53h2v1h-2zM24 53h7v1h-7zM61 53h1v1h-1zM69 53h1v1h-1zM73 53h1v1h-1zM60 54h1v1h-1zM69 54h2v1h-2zM57 55h3v1h-3zM35 56h1v1h-1zM55 56h1v1h-1zM36 57h1v1h-1zM53 57h1v1h-1zM50 59h1v1h-1zM49 60h1v1h-1zM48 61h1v1h-1zM47 62h1v1h-1zM41 63h1v1h-1z"/>
<path fill="#373737" d="M40 10h1v1h-1zM46 11h1v1h-1zM49 24h1v1h-1zM51 28h1v1h-1zM34 31h1v1h-1zM53 32h1v1h-1zM33 34h1v1h-1zM32 36h1v1h-1zM30 40h1v1h-1zM30 41h1v1h-1zM56 41h1v1h-1zM56 42h1v1h-1zM10 43h4v1h-4zM21 43h2v1h-2zM29 43h1v1h-1zM8 44h1v1h-1zM13 44h1v1h-1zM20 44h4v1h-4zM25 44h2v1h-2zM57 44h1v1h-1zM65 44h2v1h-2zM73 44h1v1h-1zM77 44h1v1h-1zM7 45h1v1h-1zM13 45h1v1h-1zM20 45h5v1h-5zM59 45h5v1h-5zM78 45h1v1h-1zM13 46h1v1h-1zM20 46h2v1h-2zM12 47h1v1h-1zM20 47h1v1h-1zM12 48h1v1h-1zM20 48h1v1h-1zM63 48h2v1h-2zM12 49h1v1h-1zM20 49h1v1h-1zM62 49h1v1h-1zM11 50h1v1h-1zM20 50h1v1h-1zM67 50h1v1h-1zM78 50h1v1h-1zM8 51h1v1h-1zM10 51h1v1h-1zM21 51h1v1h-1zM61 51h1v1h-1zM68 51h1v1h-1zM77 51h1v1h-1zM22 52h7v1h-7zM69 52h1v1h-1zM76 52h1v1h-1zM60 53h1v1h-1zM70 53h3v1h-3zM32 54h1v1h-1zM57 54h3v1h-3zM34 55h1v1h-1zM56 55h1v1h-1zM54 56h1v1h-1zM37 58h1v1h-1zM51 58h1v1h-1zM38 60h1v1h-1zM46 63h1v1h-1z"/>
<path fill="#383838" d="M40 11h1v1h-1zM46 12h1v1h-1zM47 16h1v1h-1zM39 17h1v1h-1zM48 19h1v1h-1zM38 22h1v1h-1zM52 30h1v1h-1zM33 35h1v1h-1zM54 35h1v1h-1zM32 37h1v1h-1zM31 38h1v1h-1zM55 38h1v1h-1zM30 42h1v1h-1zM56 43h1v1h-1zM11 44h2v1h-2zM27 44h1v1h-1zM74 44h3v1h-3zM12 45h1v1h-1zM25 45h1v1h-1zM58 45h1v1h-1zM64 45h3v1h-3zM68 45h4v1h-4zM12 46h1v1h-1zM22 46h2v1h-2zM60 46h5v1h-5zM78 46h1v1h-1zM21 47h2v1h-2zM62 47h3v1h-3zM78 47h1v1h-1zM11 48h1v1h-1zM21 48h1v1h-1zM62 48h1v1h-1zM65 48h1v1h-1zM78 48h1v1h-1zM11 49h1v1h-1zM21 49h1v1h-1zM61 49h1v1h-1zM66 49h1v1h-1zM78 49h1v1h-1zM7 50h1v1h-1zM21 50h2v1h-2zM61 50h1v1h-1zM9 51h1v1h-1zM22 51h2v1h-2zM60 51h1v1h-1zM29 52h2v1h-2zM60 52h1v1h-1zM70 52h1v1h-1zM75 52h1v1h-1zM31 53h1v1h-1zM58 53h2v1h-2zM56 54h1v1h-1zM55 55h1v1h-1zM52 57h1v1h-1zM39 61h1v1h-1zM40 62h1v1h-1z"/>
<path fill="#393939" d="M45 8h1v1h-1zM40 12h1v1h-1zM46 13h1v1h-1zM37 26h1v1h-1zM36 28h1v1h-1zM34 32h1v1h-1zM53 33h1v1h-1zM54 36h1v1h-1zM31 39h1v1h-1zM55 39h1v1h-1zM31 40h1v1h-1zM30 43h1v1h-1zM9 44h2v1h-2zM28 44h2v1h-2zM11 45h1v1h-1zM26 45h1v1h-1zM57 45h1v1h-1zM67 45h1v1h-1zM72 45h1v1h-1zM77 45h1v1h-1zM7 46h1v1h-1zM11 46h1v1h-1zM24 46h1v1h-1zM58 46h2v1h-2zM65 46h1v1h-1zM11 47h1v1h-1zM23 47h1v1h-1zM60 47h2v1h-2zM65 47h1v1h-1zM22 48h2v1h-2zM61 48h1v1h-1zM66 48h1v1h-1zM7 49h1v1h-1zM22 49h1v1h-1zM60 49h1v1h-1zM67 49h1v1h-1zM8 50h3v1h-3zM23 50h1v1h-1zM60 50h1v1h-1zM68 50h1v1h-1zM77 50h1v1h-1zM24 51h5v1h-5zM59 51h1v1h-1zM69 51h1v1h-1zM76 51h1v1h-1zM58 52h2v1h-2zM71 52h1v1h-1zM74 52h1v1h-1zM32 53h1v1h-1zM57 53h1v1h-1zM33 54h1v1h-1zM53 56h1v1h-1z"/>
<path fill="#3a3a3a" d="M44 7h1v1h-1zM40 13h1v1h-1zM50 27h1v1h-1zM35 30h1v1h-1zM34 33h1v1h-1zM33 36h1v1h-1zM32 38h1v1h-1zM55 40h1v1h-1zM31 41h1v1h-1zM56 44h1v1h-1zM8 45h3v1h-3zM27 45h1v1h-1zM73 45h1v1h-1zM76 45h1v1h-1zM25 46h1v1h-1zM57 46h1v1h-1zM66 46h4v1h-4zM77 46h1v1h-1zM7 47h1v1h-1zM24 47h1v1h-1zM58 47h2v1h-2zM66 47h1v1h-1zM7 48h1v1h-1zM10 48h1v1h-1zM24 48h1v1h-1zM59 48h2v1h-2zM10 49h1v1h-1zM23 49h2v1h-2zM59 49h1v1h-1zM77 49h1v1h-1zM24 50h3v1h-3zM59 50h1v1h-1zM29 51h2v1h-2zM58 51h1v1h-1zM70 51h1v1h-1zM31 52h1v1h-1zM57 52h1v1h-1zM72 52h2v1h-2zM56 53h1v1h-1zM55 54h1v1h-1zM54 55h1v1h-1zM36 56h1v1h-1zM38 59h1v1h-1zM49 59h1v1h-1zM48 60h1v1h-1zM42 63h1v1h-1zM45 63h1v1h-1z"/>
<path fill="#3b3b3b" d="M38 23h1v1h-1zM49 25h1v1h-1zM52 31h1v1h-1zM34 34h1v1h-1zM53 34h1v1h-1zM33 37h1v1h-1zM54 37h1v1h-1zM32 39h1v1h-1zM55 41h1v1h-1zM31 42h1v1h-1zM30 44h1v1h-1zM28 45h1v1h-1zM56 45h1v1h-1zM74 45h2v1h-2zM8 46h1v1h-1zM10 46h1v1h-1zM26 46h1v1h-1zM70 46h2v1h-2zM10 47h1v1h-1zM25 47h1v1h-1zM57 47h1v1h-1zM67 47h1v1h-1zM77 47h1v1h-1zM25 48h1v1h-1zM58 48h1v1h-1zM67 48h1v1h-1zM77 48h1v1h-1zM8 49h2v1h-2zM25 49h1v1h-1zM58 49h1v1h-1zM68 49h1v1h-1zM27 50h2v1h-2zM58 50h1v1h-1zM69 50h1v1h-1zM76 50h1v1h-1zM57 51h1v1h-1zM75 51h1v1h-1zM35 55h1v1h-1zM37 57h1v1h-1zM50 58h1v1h-1zM47 61h1v1h-1zM46 62h1v1h-1z"/>
<path fill="#3c3c3c" d="M42 7h1v1h-1zM41 8h1v1h-1zM40 14h1v1h-1zM46 14h1v1h-1zM39 18h1v1h-1zM48 20h1v1h-1zM51 29h1v1h-1zM34 35h1v1h-1zM55 42h1v1h-1zM31 43h1v1h-1zM55 43h1v1h-1zM29 45h2v1h-2zM9 46h1v1h-1zM27 46h1v1h-1zM56 46h1v1h-1zM72 46h1v1h-1zM76 46h1v1h-1zM8 47h2v1h-2zM26 47h1v1h-1zM68 47h2v1h-2zM8 48h2v1h-2zM26 48h1v1h-1zM57 48h1v1h-1zM68 48h1v1h-1zM26 49h2v1h-2zM57 49h1v1h-1zM69 49h1v1h-1zM29 50h2v1h-2zM57 50h1v1h-1zM70 50h1v1h-1zM31 51h1v1h-1zM71 51h1v1h-1zM74 51h1v1h-1zM32 52h1v1h-1zM56 52h1v1h-1zM33 53h1v1h-1zM55 53h1v1h-1zM34 54h1v1h-1zM51 57h1v1h-1zM39 60h1v1h-1zM43 63h2v1h-2z"/>
<path fill="#3d3d3d" d="M35 31h1v1h-1zM52 32h1v1h-1zM33 38h1v1h-1zM54 38h1v1h-1zM32 40h1v1h-1zM31 44h1v1h-1zM55 44h1v1h-1zM28 46h2v1h-2zM73 46h3v1h-3zM27 47h1v1h-1zM56 47h1v1h-1zM70 47h2v1h-2zM76 47h1v1h-1zM27 48h1v1h-1zM69 48h1v1h-1zM76 48h1v1h-1zM28 49h2v1h-2zM76 49h1v1h-1zM31 50h1v1h-1zM56 51h1v1h-1zM72 51h2v1h-2zM54 54h1v1h-1zM53 55h1v1h-1zM52 56h1v1h-1zM38 58h1v1h-1zM41 62h1v1h-1z"/>
<path fill="#3e3e3e" d="M43 7h1v1h-1zM36 29h1v1h-1zM53 35h1v1h-1zM34 36h1v1h-1zM32 41h1v1h-1zM31 45h1v1h-1zM55 45h1v1h-1zM30 46h1v1h-1zM28 47h1v1h-1zM72 47h1v1h-1zM28 48h2v1h-2zM56 48h1v1h-1zM70 48h1v1h-1zM30 49h2v1h-2zM70 49h1v1h-1zM56 50h1v1h-1zM71 50h1v1h-1zM75 50h1v1h-1zM32 51h1v1h-1zM40 61h1v1h-1z"/>
<path fill="#3f3f3f" d="M45 9h1v1h-1zM40 15h1v1h-1zM47 17h1v1h-1zM38 24h1v1h-1zM37 27h1v1h-1zM35 32h1v1h-1zM33 39h1v1h-1zM54 39h1v1h-1zM32 42h1v1h-1zM31 46h1v1h-1zM29 47h3v1h-3zM73 47h1v1h-1zM75 47h1v1h-1zM30 48h2v1h-2zM71 48h1v1h-1zM75 48h1v1h-1zM56 49h1v1h-1zM71 49h1v1h-1zM75 49h1v1h-1zM32 50h1v1h-1zM72 50h3v1h-3zM33 52h1v1h-1zM55 52h1v1h-1zM34 53h1v1h-1zM36 55h1v1h-1zM49 58h1v1h-1z"/>
<path fill="#404040" d="M48 21h1v1h-1zM49 26h1v1h-1zM50 28h1v1h-1zM51 30h1v1h-1zM35 33h1v1h-1zM52 33h1v1h-1zM53 36h1v1h-1zM34 37h1v1h-1zM54 40h1v1h-1zM32 43h1v1h-1zM55 46h1v1h-1zM74 47h1v1h-1zM72 48h1v1h-1zM32 49h1v1h-1zM72 49h1v1h-1zM74 49h1v1h-1zM54 53h1v1h-1zM35 54h1v1h-1zM37 56h1v1h-1zM50 57h1v1h-1zM39 59h1v1h-1zM48 59h1v1h-1zM47 60h1v1h-1zM45 62h1v1h-1z"/>
<path fill="#414141" d="M41 9h1v1h-1zM46 15h1v1h-1zM39 19h1v1h-1zM35 34h1v1h-1zM33 40h1v1h-1zM54 41h1v1h-1zM54 42h1v1h-1zM32 44h1v1h-1zM55 47h1v1h-1zM32 48h1v1h-1zM73 48h2v1h-2zM73 49h1v1h-1zM33 51h1v1h-1zM55 51h1v1h-1zM53 54h1v1h-1zM52 55h1v1h-1zM51 56h1v1h-1zM38 57h1v1h-1zM46 61h1v1h-1zM42 62h1v1h-1z"/>
<path fill="#424242" d="M36 30h1v1h-1zM53 37h1v1h-1zM34 38h1v1h-1zM54 43h1v1h-1zM54 44h1v1h-1zM32 45h1v1h-1zM32 46h1v1h-1zM32 47h1v1h-1zM55 48h1v1h-1zM33 50h1v1h-1zM55 50h1v1h-1z"/>
<path fill="#434343" d="M44 8h1v1h-1zM45 10h1v1h-1zM48 22h1v1h-1zM38 25h1v1h-1zM51 31h1v1h-1zM52 34h1v1h-1zM35 35h1v1h-1zM33 41h1v1h-1zM54 45h1v1h-1zM55 49h1v1h-1zM34 52h1v1h-1zM54 52h1v1h-1zM40 60h1v1h-1zM41 61h1v1h-1zM43 62h2v1h-2z"/>
<path fill="#444444" d="M42 8h1v1h-1zM37 28h1v1h-1zM53 38h1v1h-1zM54 46h1v1h-1zM33 49h1v1h-1zM35 53h1v1h-1zM39 58h1v1h-1z"/>
<path fill="#454545" d="M41 10h1v1h-1zM40 16h1v1h-1zM39 20h1v1h-1zM48 23h1v1h-1zM36 31h1v1h-1zM35 36h1v1h-1zM34 39h1v1h-1zM33 42h1v1h-1zM33 48h1v1h-1zM34 51h1v1h-1zM53 53h1v1h-1zM36 54h1v1h-1zM37 55h1v1h-1zM50 56h1v1h-1zM49 57h1v1h-1zM48 58h1v1h-1z"/>
<path fill="#464646" d="M45 11h1v1h-1zM47 18h1v1h-1zM49 27h1v1h-1zM50 29h1v1h-1zM51 32h1v1h-1zM52 35h1v1h-1zM53 39h1v1h-1zM33 43h1v1h-1zM33 47h1v1h-1zM54 47h1v1h-1zM54 51h1v1h-1zM52 54h1v1h-1zM51 55h1v1h-1zM47 59h1v1h-1zM45 61h1v1h-1z"/>
<path fill="#474747" d="M43 8h1v1h-1zM41 11h1v1h-1zM45 12h1v1h-1zM36 32h1v1h-1zM35 37h1v1h-1zM34 40h1v1h-1zM53 40h1v1h-1zM33 44h1v1h-1zM33 45h1v1h-1zM33 46h1v1h-1zM54 48h1v1h-1zM34 50h1v1h-1zM38 56h1v1h-1zM46 60h1v1h-1z"/>
<path fill="#484848" d="M41 12h1v1h-1zM45 13h1v1h-1zM39 21h1v1h-1zM48 24h1v1h-1zM38 26h1v1h-1zM36 33h1v1h-1zM52 36h1v1h-1zM54 49h1v1h-1zM54 50h1v1h-1zM35 52h1v1h-1zM40 59h1v1h-1zM42 61h1v1h-1z"/>
<path fill="#494949" d="M41 13h1v1h-1zM46 16h1v1h-1zM37 29h1v1h-1zM51 33h1v1h-1zM53 41h1v1h-1zM53 42h1v1h-1zM53 43h1v1h-1zM34 49h1v1h-1zM53 52h1v1h-1zM39 57h1v1h-1zM41 60h1v1h-1zM44 61h1v1h-1z"/>
<path fill="#4a4a4a" d="M44 9h1v1h-1zM50 30h1v1h-1zM36 34h1v1h-1zM35 38h1v1h-1zM34 41h1v1h-1zM53 44h1v1h-1zM53 45h1v1h-1zM49 56h1v1h-1zM43 61h1v1h-1z"/>
<path fill="#4b4b4b" d="M42 9h1v1h-1zM41 14h1v1h-1zM45 14h1v1h-1zM40 17h1v1h-1zM39 22h1v1h-1zM52 37h1v1h-1zM53 46h1v1h-1zM34 48h1v1h-1zM36 53h1v1h-1zM52 53h1v1h-1zM50 55h1v1h-1zM48 57h1v1h-1z"/>
<path fill="#4c4c4c" d="M48 25h1v1h-1zM49 28h1v1h-1zM36 35h1v1h-1zM35 39h1v1h-1zM34 42h1v1h-1zM35 51h1v1h-1zM53 51h1v1h-1zM37 54h1v1h-1zM51 54h1v1h-1zM47 58h1v1h-1zM45 60h1v1h-1z"/>
<path fill="#4d4d4d" d="M47 19h1v1h-1zM37 30h1v1h-1zM51 34h1v1h-1zM52 38h1v1h-1zM34 47h1v1h-1zM53 47h1v1h-1zM38 55h1v1h-1zM40 58h1v1h-1zM46 59h1v1h-1z"/>
<path fill="#4e4e4e" d="M43 9h1v1h-1zM39 23h1v1h-1zM38 27h1v1h-1zM50 31h1v1h-1zM36 36h1v1h-1zM34 43h1v1h-1zM34 46h1v1h-1zM53 48h1v1h-1zM35 50h1v1h-1zM53 50h1v1h-1zM42 60h1v1h-1z"/>
<path fill="#4f4f4f" d="M44 10h1v1h-1zM41 15h1v1h-1zM52 39h1v1h-1zM34 44h1v1h-1zM34 45h1v1h-1zM53 49h1v1h-1zM39 56h1v1h-1zM41 59h1v1h-1z"/>
<path fill="#505050" d="M42 10h1v1h-1zM37 31h1v1h-1zM51 35h1v1h-1zM35 40h1v1h-1zM36 52h1v1h-1zM52 52h1v1h-1zM44 60h1v1h-1z"/>
<path fill="#515151" d="M44 11h1v1h-1zM45 15h1v1h-1zM48 26h1v1h-1zM50 32h1v1h-1zM36 37h1v1h-1zM52 40h1v1h-1zM35 49h1v1h-1zM51 53h1v1h-1zM50 54h1v1h-1zM49 55h1v1h-1zM48 56h1v1h-1zM43 60h1v1h-1z"/>
<path fill="#525252" d="M42 11h1v1h-1zM44 12h1v1h-1zM40 18h1v1h-1zM39 24h1v1h-1zM49 29h1v1h-1zM37 32h1v1h-1zM52 41h1v1h-1zM40 57h1v1h-1zM47 57h1v1h-1z"/>
<path fill="#535353" d="M43 10h1v1h-1zM42 12h1v1h-1zM44 13h1v1h-1zM46 17h1v1h-1zM47 20h1v1h-1zM38 28h1v1h-1zM51 36h1v1h-1zM35 41h1v1h-1zM52 42h1v1h-1zM52 43h1v1h-1zM52 44h1v1h-1zM52 45h1v1h-1zM37 53h1v1h-1zM46 58h1v1h-1zM45 59h1v1h-1z"/>
<path fill="#545454" d="M42 13h1v1h-1zM37 33h1v1h-1zM36 38h1v1h-1zM52 46h1v1h-1zM35 48h1v1h-1zM36 51h1v1h-1zM52 51h1v1h-1zM38 54h1v1h-1zM41 58h1v1h-1zM42 59h1v1h-1z"/>
<path fill="#555555" d="M50 33h1v1h-1zM51 37h1v1h-1z"/>
<path fill="#565656" d="M43 11h1v1h-1zM42 14h1v1h-1zM44 14h1v1h-1zM41 16h1v1h-1zM37 34h1v1h-1zM35 42h1v1h-1zM35 47h1v1h-1zM52 47h1v1h-1zM52 50h1v1h-1zM39 55h1v1h-1z"/>
<path fill="#575757" d="M43 12h1v1h-1zM43 13h1v1h-1zM47 21h1v1h-1zM39 25h1v1h-1zM48 27h1v1h-1zM49 30h1v1h-1zM52 48h1v1h-1zM52 49h1v1h-1zM51 52h1v1h-1zM50 53h1v1h-1zM49 54h1v1h-1zM48 55h1v1h-1zM47 56h1v1h-1zM43 59h2v1h-2z"/>
<path fill="#585858" d="M40 19h1v1h-1zM38 29h1v1h-1zM37 35h1v1h-1zM51 38h1v1h-1zM36 39h1v1h-1zM35 43h1v1h-1zM35 46h1v1h-1zM36 50h1v1h-1zM40 56h1v1h-1z"/>
<path fill="#595959" d="M50 34h1v1h-1zM35 44h1v1h-1zM35 45h1v1h-1zM37 52h1v1h-1zM46 57h1v1h-1zM45 58h1v1h-1z"/>
<path fill="#5a5a5a" d="M43 14h1v1h-1zM45 16h1v1h-1zM47 22h1v1h-1zM51 39h1v1h-1zM41 57h1v1h-1z"/>
<path fill="#5b5b5b" d="M49 31h1v1h-1zM37 36h1v1h-1zM36 40h1v1h-1zM36 49h1v1h-1zM51 51h1v1h-1zM42 58h1v1h-1z"/>
<path fill="#5c5c5c" d="M42 15h1v1h-1zM44 15h1v1h-1zM47 23h1v1h-1zM39 26h1v1h-1zM38 30h1v1h-1zM51 40h1v1h-1zM38 53h1v1h-1z"/>
<path fill="#5d5d5d" d="M46 18h1v1h-1zM40 20h1v1h-1zM48 28h1v1h-1zM50 35h1v1h-1zM48 54h1v1h-1zM44 58h1v1h-1z"/>
<path fill="#5e5e5e" d="M36 41h1v1h-1zM51 41h1v1h-1zM51 44h1v1h-1zM51 45h1v1h-1zM37 51h1v1h-1zM50 52h1v1h-1zM49 53h1v1h-1zM39 54h1v1h-1zM47 55h1v1h-1zM43 58h1v1h-1z"/>
<path fill="#5f5f5f" d="M41 17h1v1h-1zM47 24h1v1h-1zM38 31h1v1h-1zM37 37h1v1h-1zM51 42h1v1h-1zM51 43h1v1h-1zM51 46h1v1h-1zM36 48h1v1h-1zM51 50h1v1h-1zM40 55h1v1h-1zM46 56h1v1h-1zM45 57h1v1h-1z"/>
<path fill="#606060" d="M43 15h1v1h-1zM49 32h1v1h-1zM50 36h1v1h-1zM51 47h1v1h-1z"/>
<path fill="#616161" d="M40 21h1v1h-1zM36 42h1v1h-1zM51 48h1v1h-1zM51 49h1v1h-1zM41 56h1v1h-1zM42 57h1v1h-1z"/>
<path fill="#626262" d="M47 25h1v1h-1zM39 27h1v1h-1zM48 29h1v1h-1zM38 32h1v1h-1zM36 47h1v1h-1z"/>
<path fill="#636363" d="M40 22h1v1h-1zM50 37h1v1h-1zM37 38h1v1h-1zM36 43h1v1h-1zM37 50h1v1h-1zM50 51h1v1h-1zM38 52h1v1h-1z"/>
<path fill="#646464" d="M42 16h1v1h-1zM38 33h1v1h-1zM49 33h1v1h-1zM36 46h1v1h-1zM49 52h1v1h-1zM48 53h1v1h-1zM47 54h1v1h-1zM43 57h2v1h-2z"/>
<path fill="#656565" d="M36 44h1v1h-1zM36 45h1v1h-1zM46 55h1v1h-1z"/>
<path fill="#666666" d="M44 16h1v1h-1zM45 17h1v1h-1zM46 19h1v1h-1zM40 23h1v1h-1zM50 38h1v1h-1zM39 53h1v1h-1zM45 56h1v1h-1z"/>
<path fill="#676767" d="M47 26h1v1h-1zM48 30h1v1h-1zM38 34h1v1h-1zM37 39h1v1h-1zM50 50h1v1h-1zM40 54h1v1h-1z"/>
<path fill="#686868" d="M41 18h1v1h-1zM39 28h1v1h-1zM37 49h1v1h-1zM41 55h1v1h-1zM42 56h1v1h-1z"/>
<path fill="#696969" d="M49 34h1v1h-1zM50 39h1v1h-1zM38 51h1v1h-1z"/>
<path fill="#6a6a6a" d="M43 16h1v1h-1zM40 24h1v1h-1zM38 35h1v1h-1zM37 40h1v1h-1zM50 49h1v1h-1zM44 56h1v1h-1z"/>
<path fill="#6b6b6b" d="M50 40h1v1h-1zM49 51h1v1h-1zM43 56h1v1h-1z"/>
<path fill="#6c6c6c" d="M47 27h1v1h-1zM39 29h1v1h-1zM48 31h1v1h-1zM50 45h1v1h-1zM50 46h1v1h-1zM50 47h1v1h-1zM37 48h1v1h-1zM50 48h1v1h-1zM48 52h1v1h-1zM47 53h1v1h-1zM46 54h1v1h-1zM45 55h1v1h-1z"/>
<path fill="#6d6d6d" d="M46 20h1v1h-1zM37 41h1v1h-1zM50 41h1v1h-1zM50 42h1v1h-1zM50 43h1v1h-1zM50 44h1v1h-1zM39 52h1v1h-1z"/>
<path fill="#6e6e6e" d="M49 35h1v1h-1zM38 36h1v1h-1z"/>
<path fill="#6f6f6f" d="M42 17h1v1h-1zM40 25h1v1h-1zM37 42h1v1h-1zM40 53h1v1h-1zM42 55h1v1h-1z"/>
<path fill="#707070" d="M39 30h1v1h-1zM37 47h1v1h-1zM38 50h1v1h-1zM49 50h1v1h-1zM41 54h1v1h-1z"/>
<path fill="#717171" d="M41 19h1v1h-1zM46 21h1v1h-1zM48 32h1v1h-1zM37 43h1v1h-1zM44 55h1v1h-1z"/>
<path fill="#727272" d="M47 28h1v1h-1zM49 36h1v1h-1zM38 37h1v1h-1zM37 46h1v1h-1zM43 55h1v1h-1z"/>
<path fill="#737373" d="M45 18h1v1h-1zM39 31h1v1h-1zM37 44h1v1h-1zM37 45h1v1h-1zM48 51h1v1h-1z"/>
<path fill="#747474" d="M44 17h1v1h-1zM46 22h1v1h-1zM49 49h1v1h-1zM47 52h1v1h-1zM46 53h1v1h-1zM45 54h1v1h-1z"/>
<path fill="#757575" d="M40 26h1v1h-1zM49 37h1v1h-1zM39 51h1v1h-1z"/>
<path fill="#767676" d="M46 23h1v1h-1zM39 32h1v1h-1zM38 49h1v1h-1z"/>
<path fill="#777777" d="M43 17h1v1h-1zM41 20h1v1h-1zM47 29h1v1h-1zM48 33h1v1h-1zM38 38h1v1h-1zM49 48h1v1h-1zM42 54h1v1h-1z"/>
<path fill="#787878" d="M46 24h1v1h-1zM40 52h1v1h-1z"/>
<path fill="#797979" d="M39 33h1v1h-1zM49 38h1v1h-1zM49 47h1v1h-1zM41 53h1v1h-1zM44 54h1v1h-1z"/>
<path fill="#7a7a7a" d="M48 50h1v1h-1zM43 54h1v1h-1z"/>
<path fill="#7b7b7b" d="M42 18h1v1h-1zM41 21h1v1h-1zM40 27h1v1h-1zM38 39h1v1h-1zM49 46h1v1h-1zM38 48h1v1h-1z"/>
<path fill="#7c7c7c" d="M46 25h1v1h-1zM47 30h1v1h-1zM49 39h1v1h-1zM49 45h1v1h-1zM47 51h1v1h-1zM45 53h1v1h-1z"/>
<path fill="#7d7d7d" d="M39 34h1v1h-1zM48 34h1v1h-1zM49 44h1v1h-1zM39 50h1v1h-1zM46 52h1v1h-1z"/>
<path fill="#7e7e7e" d="M45 19h1v1h-1zM41 22h1v1h-1zM38 40h1v1h-1zM49 40h1v1h-1z"/>
<path fill="#7f7f7f" d="M49 43h1v1h-1zM48 49h1v1h-1z"/>
<path fill="#808080" d="M41 23h1v1h-1zM46 26h1v1h-1zM40 28h1v1h-1zM38 41h1v1h-1zM49 41h1v1h-1zM49 42h1v1h-1zM38 47h1v1h-1zM42 53h1v1h-1z"/>
<path fill="#818181" d="M39 35h1v1h-1zM38 42h1v1h-1zM40 51h1v1h-1z"/>
<path fill="#828282" d="M44 18h1v1h-1zM47 31h1v1h-1zM48 35h1v1h-1zM38 46h1v1h-1zM41 52h1v1h-1zM44 53h1v1h-1z"/>
<path fill="#838383" d="M38 43h1v1h-1zM38 44h1v1h-1zM43 53h1v1h-1z"/>
<path fill="#848484" d="M41 24h1v1h-1zM40 29h1v1h-1zM38 45h1v1h-1zM48 48h1v1h-1zM39 49h1v1h-1zM47 50h1v1h-1z"/>
<path fill="#858585" d="M43 18h1v1h-1zM46 27h1v1h-1z"/>
<path fill="#868686" d="M42 19h1v1h-1zM45 20h1v1h-1zM39 36h1v1h-1zM46 51h1v1h-1zM45 52h1v1h-1z"/>
<path fill="#878787" d="M47 32h1v1h-1z"/>
<path fill="#888888" d="M40 30h1v1h-1zM48 36h1v1h-1zM48 47h1v1h-1z"/>
<path fill="#898989" d="M41 25h1v1h-1z"/>
<path fill="#8a8a8a" d="M46 28h1v1h-1zM40 50h1v1h-1zM42 52h1v1h-1z"/>
<path fill="#8b8b8b" d="M45 21h1v1h-1zM40 31h1v1h-1zM39 37h1v1h-1zM48 46h1v1h-1zM39 48h1v1h-1zM47 49h1v1h-1z"/>
<path fill="#8c8c8c" d="M48 37h1v1h-1zM41 51h1v1h-1zM44 52h1v1h-1z"/>
<path fill="#8d8d8d" d="M45 22h1v1h-1zM43 52h1v1h-1z"/>
<path fill="#8e8e8e" d="M44 19h1v1h-1zM42 20h1v1h-1zM45 23h1v1h-1zM47 33h1v1h-1zM48 45h1v1h-1z"/>
<path fill="#8f8f8f" d="M41 26h1v1h-1zM46 29h1v1h-1zM40 32h1v1h-1z"/>
<path fill="#909090" d="M45 24h1v1h-1zM39 38h1v1h-1zM48 38h1v1h-1zM46 50h1v1h-1zM45 51h1v1h-1z"/>
<path fill="#919191" d="M43 19h1v1h-1zM48 44h1v1h-1zM39 47h1v1h-1z"/>
<path fill="#929292" d="M42 21h1v1h-1zM40 33h1v1h-1zM47 48h1v1h-1z"/>
<path fill="#939393" d="M40 49h1v1h-1z"/>
<path fill="#949494" d="M45 25h1v1h-1zM46 30h1v1h-1zM39 39h1v1h-1zM48 39h1v1h-1zM48 43h1v1h-1zM42 51h1v1h-1z"/>
<path fill="#959595" d="M42 22h1v1h-1zM41 27h1v1h-1zM47 34h1v1h-1zM39 46h1v1h-1z"/>
<path fill="#969696" d="M42 23h1v1h-1zM48 40h1v1h-1zM48 42h1v1h-1zM44 51h1v1h-1z"/>
<path fill="#979797" d="M44 20h1v1h-1zM40 34h1v1h-1zM39 40h1v1h-1zM48 41h1v1h-1zM39 44h1v1h-1zM39 45h1v1h-1zM41 50h1v1h-1z"/>
<path fill="#989898" d="M45 26h1v1h-1zM39 41h1v1h-1zM39 42h1v1h-1zM39 43h1v1h-1zM47 47h1v1h-1zM43 51h1v1h-1z"/>
<path fill="#999999" d="M42 24h1v1h-1zM46 31h1v1h-1zM46 49h1v1h-1z"/>
<path fill="#9a9a9a" d="M43 20h1v1h-1zM41 28h1v1h-1zM45 50h1v1h-1z"/>
<path fill="#9c9c9c" d="M44 21h1v1h-1zM40 35h1v1h-1zM47 35h1v1h-1zM40 48h1v1h-1z"/>
<path fill="#9d9d9d" d="M45 27h1v1h-1zM41 29h1v1h-1z"/>
<path fill="#9e9e9e" d="M44 22h1v1h-1zM42 25h1v1h-1zM47 46h1v1h-1z"/>
<path fill="#9f9f9f" d="M43 21h1v1h-1zM44 23h1v1h-1z"/>
<path fill="#a0a0a0" d="M41 30h1v1h-1zM46 32h1v1h-1zM42 50h1v1h-1z"/>
<path fill="#a1a1a1" d="M43 22h1v1h-1zM44 24h1v1h-1zM46 48h1v1h-1zM41 49h1v1h-1z"/>
<path fill="#a2a2a2" d="M43 23h1v1h-1zM45 28h1v1h-1zM47 36h1v1h-1zM44 50h1v1h-1z"/>
<path fill="#a3a3a3" d="M42 26h1v1h-1zM40 36h1v1h-1zM47 45h1v1h-1zM40 47h1v1h-1z"/>
<path fill="#a4a4a4" d="M43 24h1v1h-1zM44 25h1v1h-1zM41 31h1v1h-1zM43 50h1v1h-1z"/>
<path fill="#a5a5a5" d="M45 49h1v1h-1z"/>
<path fill="#a7a7a7" d="M45 29h1v1h-1zM46 33h1v1h-1z"/>
<path fill="#a8a8a8" d="M43 25h1v1h-1zM41 32h1v1h-1zM47 37h1v1h-1zM47 44h1v1h-1zM40 46h1v1h-1z"/>
<path fill="#a9a9a9" d="M44 26h1v1h-1zM42 27h1v1h-1zM40 37h1v1h-1zM46 47h1v1h-1z"/>
<path fill="#ababab" d="M45 30h1v1h-1zM41 48h1v1h-1zM42 49h1v1h-1z"/>
<path fill="#acacac" d="M40 45h1v1h-1z"/>
<path fill="#adadad" d="M43 26h1v1h-1zM41 33h1v1h-1zM47 38h1v1h-1zM47 43h1v1h-1zM44 49h1v1h-1z"/>
<path fill="#aeaeae" d="M44 27h1v1h-1zM42 28h1v1h-1zM40 44h1v1h-1z"/>
<path fill="#afafaf" d="M46 34h1v1h-1zM40 38h1v1h-1zM45 48h1v1h-1z"/>
<path fill="#b0b0b0" d="M45 31h1v1h-1zM47 42h1v1h-1zM40 43h1v1h-1zM43 49h1v1h-1z"/>
<path fill="#b1b1b1" d="M42 29h1v1h-1zM47 39h1v1h-1zM46 46h1v1h-1z"/>
<path fill="#b2b2b2" d="M40 42h1v1h-1z"/>
<path fill="#b3b3b3" d="M43 27h1v1h-1zM44 28h1v1h-1zM41 34h1v1h-1zM40 39h1v1h-1zM47 40h1v1h-1zM47 41h1v1h-1z"/>
<path fill="#b4b4b4" d="M40 40h1v1h-1zM40 41h1v1h-1zM41 47h1v1h-1z"/>
<path fill="#b5b5b5" d="M42 30h1v1h-1z"/>
<path fill="#b6b6b6" d="M42 48h1v1h-1z"/>
<path fill="#b7b7b7" d="M43 28h1v1h-1zM44 29h1v1h-1zM45 32h1v1h-1zM46 35h1v1h-1z"/>
<path fill="#b8b8b8" d="M42 31h1v1h-1z"/>
<path fill="#b9b9b9" d="M46 45h1v1h-1zM45 47h1v1h-1zM44 48h1v1h-1z"/>
<path fill="#bababa" d="M41 35h1v1h-1z"/>
<path fill="#bbbbbb" d="M43 29h1v1h-1zM44 30h1v1h-1zM41 46h1v1h-1z"/>
<path fill="#bcbcbc" d="M43 48h1v1h-1z"/>
<path fill="#bdbdbd" d="M42 32h1v1h-1z"/>
<path fill="#bebebe" d="M43 30h1v1h-1zM45 33h1v1h-1z"/>
<path fill="#bfbfbf" d="M46 36h1v1h-1z"/>
<path fill="#c0c0c0" d="M44 31h1v1h-1zM46 44h1v1h-1z"/>
<path fill="#c1c1c1" d="M41 45h1v1h-1zM42 47h1v1h-1z"/>
<path fill="#c2c2c2" d="M41 36h1v1h-1z"/>
<path fill="#c3c3c3" d="M43 31h1v1h-1zM42 33h1v1h-1zM45 46h1v1h-1z"/>
<path fill="#c4c4c4" d="M44 47h1v1h-1z"/>
<path fill="#c6c6c6" d="M44 32h1v1h-1zM46 37h1v1h-1zM41 44h1v1h-1z"/>
<path fill="#c7c7c7" d="M45 34h1v1h-1zM46 43h1v1h-1zM43 47h1v1h-1z"/>
<path fill="#c8c8c8" d="M43 32h1v1h-1z"/>
<path fill="#c9c9c9" d="M41 37h1v1h-1z"/>
<path fill="#cacaca" d="M42 34h1v1h-1zM41 43h1v1h-1zM42 46h1v1h-1z"/>
<path fill="#cccccc" d="M46 38h1v1h-1zM46 42h1v1h-1zM45 45h1v1h-1z"/>
<path fill="#cdcdcd" d="M44 33h1v1h-1z"/>
<path fill="#cecece" d="M41 42h1v1h-1z"/>
<path fill="#cfcfcf" d="M43 33h1v1h-1zM44 46h1v1h-1z"/>
<path fill="#d0d0d0" d="M45 35h1v1h-1zM41 38h1v1h-1zM46 39h1v1h-1zM46 41h1v1h-1z"/>
<path fill="#d1d1d1" d="M46 40h1v1h-1z"/>
<path fill="#d2d2d2" d="M41 41h1v1h-1zM43 46h1v1h-1z"/>
<path fill="#d3d3d3" d="M42 35h1v1h-1zM41 39h1v1h-1zM42 45h1v1h-1z"/>
<path fill="#d4d4d4" d="M41 40h1v1h-1z"/>
<path fill="#d5d5d5" d="M45 44h1v1h-1z"/>
<path fill="#d6d6d6" d="M44 34h1v1h-1z"/>
<path fill="#d7d7d7" d="M43 34h1v1h-1z"/>
<path fill="#d9d9d9" d="M45 36h1v1h-1zM44 45h1v1h-1z"/>
<path fill="#dadada" d="M42 44h1v1h-1z"/>
<path fill="#dcdcdc" d="M42 36h1v1h-1zM43 45h1v1h-1z"/>
<path fill="#dedede" d="M45 43h1v1h-1z"/>
<path fill="#e0e0e0" d="M44 35h1v1h-1z"/>
<path fill="#e1e1e1" d="M43 35h1v1h-1zM42 43h1v1h-1z"/>
<path fill="#e2e2e2" d="M45 37h1v1h-1z"/>
<path fill="#e3e3e3" d="M44 44h1v1h-1z"/>
<path fill="#e5e5e5" d="M42 37h1v1h-1zM45 42h1v1h-1zM43 44h1v1h-1z"/>
<path fill="#e7e7e7" d="M42 42h1v1h-1z"/>
<path fill="#e9e9e9" d="M45 38h1v1h-1z"/>
<path fill="#eaeaea" d="M44 36h1v1h-1zM45 41h1v1h-1z"/>
<path fill="#ebebeb" d="M43 36h1v1h-1z"/>
<path fill="#ececec" d="M42 38h1v1h-1zM45 39h1v1h-1zM42 41h1v1h-1zM44 43h1v1h-1z"/>
<path fill="#ededed" d="M45 40h1v1h-1zM43 43h1v1h-1z"/>
<path fill="#efefef" d="M42 39h1v1h-1zM42 40h1v1h-1z"/>
<path fill="#f3f3f3" d="M44 37h1v1h-1z"/>
<path fill="#f4f4f4" d="M43 37h1v1h-1zM44 42h1v1h-1z"/>
<path fill="#f5f5f5" d="M43 42h1v1h-1z"/>
<path fill="#fafafa" d="M44 38h1v1h-1zM44 41h1v1h-1z"/>
<path fill="#fbfbfb" d="M43 41h1v1h-1z"/>
<path fill="#fcfcfc" d="M43 38h1v1h-1z"/>
<path fill="#fefefe" d="M44 39h1v1h-1zM43 40h2v1h-2z"/>
<path fill="#ffffff" d="M43 39h1v1h-1z"/>
</g></g>
<path d="M851.4 47.81V580.24M1048.4 47.81V580.24" stroke="#fff" stroke-width="1.25" fill="none"/>
</g>
<path d="M912.89 580.24L912.89 47.81" fill="none" stroke="#006400" stroke-width="1.5" stroke-dasharray="6 6" stroke-linecap="round"/>
<path d="M1016.9 580.24L1016.9 47.81" fill="none" stroke="#006400" stroke-width="1.5" stroke-dasharray="6 6" stroke-linecap="round"/>
<path d="M699.76 432.06L1232.19 432.06" fill="none" stroke="#CD2626" stroke-width="1.5" stroke-dasharray="6 6" stroke-linecap="round"/>
<rect x="699.76" y="47.81" width="532.43" height="532.43" fill="none" stroke="#000" stroke-width=".75"/>
<path d="M749.34 580.24H1180.46M749.34 580.24v5.98M857.12 580.24v5.98M964.9 580.24v5.98M1072.68 580.24v5.98M1180.46 580.24v5.98" fill="none" stroke="#000" stroke-width=".75" stroke-linecap="round"/>
<text x="749.34" y="602.04" font-size="10.15" text-anchor="middle">-400</text>
<text x="857.12" y="602.04" font-size="10.15" text-anchor="middle">-200</text>
<text x="964.9" y="602.04" font-size="10.15" text-anchor="middle">0</text>
<text x="1072.68" y="602.04" font-size="10.15" text-anchor="middle">200</text>
<text x="1180.46" y="602.04" font-size="10.15" text-anchor="middle">400</text>
<path d="M699.76 550.1V47.81M699.76 550.1h-5.98M699.76 424.53h-5.98M699.76 298.96h-5.98M699.76 173.38h-5.98M699.76 47.81h-5.98" fill="none" stroke="#000" stroke-width=".75" stroke-linecap="round"/>
<text x="685.06" y="550.1" font-size="10.15" text-anchor="middle" transform="rotate(-90 685.06 550.1)">80</text>
<text x="685.06" y="424.53" font-size="10.15" text-anchor="middle" transform="rotate(-90 685.06 424.53)">85</text>
<text x="685.06" y="298.96" font-size="10.15" text-anchor="middle" transform="rotate(-90 685.06 298.96)">90</text>
<text x="685.06" y="173.38" font-size="10.15" text-anchor="middle" transform="rotate(-90 685.06 173.38)">95</text>
<text x="685.06" y="47.81" font-size="10.15" text-anchor="middle" transform="rotate(-90 685.06 47.81)">100</text>
<text x="966.43" y="31.3" font-size="21.33" text-anchor="middle" font-weight="bold" letter-spacing=".07">Density heat map for the top hits</text>
<text x="966.38" y="626.14" font-size="16" text-anchor="middle">Distance to peak summit</text>
<text x="662.1" y="314.22" font-size="16" text-anchor="middle" transform="rotate(-90 662.1 314.22)">Motif score</text>
</g>
<g id="p3">
<polygon points="79.2,1200.4 80.2,1200.4 81.2,1200.4 82.2,1200.4 83.2,1200.4 84.2,1200.4 85.2,1200.4 86.2,1200.3 87.2,1200.3 88.2,1200.3 89.2,1200.3 90.2,1200.3 91.2,1200.2 92.2,1200.2 93.2,1200.2 94.2,1200.2 95.2,1200.1 96.2,1200.1 97.2,1200.1 98.2,1200 99.2,1200 100.2,1199.9 101.2,1199.9 102.2,1199.9 103.2,1199.8 104.2,1199.8 105.2,1199.7 106.2,1199.7 107.2,1199.6 108.2,1199.5 109.2,1199.4 110.2,1199.3 111.2,1199.2 112.2,1199.1 113.2,1198.9 114.2,1198.8 115.2,1198.7 116.2,1198.5 117.2,1198.3 118.2,1198.2 119.2,1198 120.2,1197.8 121.2,1197.6 122.2,1197.5 123.2,1197.3 124.2,1197.1 125.2,1196.9 126.2,1196.7 127.2,1196.4 128.2,1196.2 129.2,1195.9 130.2,1195.6 131.2,1195.3 132.2,1195 133.2,1194.7 134.2,1194.3 135.2,1194 136.2,1193.6 137.2,1193.2 138.2,1192.7 139.2,1192.3 140.2,1191.9 141.2,1191.4 142.2,1190.9 143.2,1190.5 144.2,1190 145.2,1189.5 146.2,1189 147.2,1188.4 148.2,1187.9 149.2,1187.3 150.2,1186.7 151.2,1186 152.2,1185.4 153.2,1184.6 154.2,1183.9 155.2,1183.1 156.2,1182.3 157.2,1181.5 158.2,1180.6 159.2,1179.7 160.2,1178.8 161.2,1177.8 162.2,1176.9 163.2,1175.8 164.2,1174.8 165.2,1173.7 166.2,1172.6 167.2,1171.3 168.2,1170.1 169.2,1168.8 170.2,1167.4 171.2,1166 172.2,1164.6 173.2,1163.1 174.2,1161.5 175.2,1159.9 176.2,1158.2 177.2,1156.4 178.2,1154.6 179.2,1152.6 180.2,1150.6 181.2,1148.4 182.2,1146.2 183.2,1143.9 184.2,1141.5 185.2,1139 186.2,1136.4 187.2,1133.7 188.2,1130.9 189.2,1127.9 190.2,1124.7 191.2,1121.4 192.2,1118 193.2,1114.6 194.2,1111.1 195.2,1107.6 196.2,1104 197.2,1100.4 198.2,1096.7 199.2,1093 200.2,1089.2 201.2,1085.4 202.2,1081.6 203.2,1077.8 204.2,1074 205.2,1070.2 206.2,1066.5 207.2,1062.7 208.2,1059 209.2,1055.2 210.2,1051.5 211.2,1047.7 212.2,1043.9 213.2,1040 214.2,1036.2 215.2,1032.3 216.2,1028.4 217.2,1024.4 218.2,1020.5 219.2,1016.5 220.2,1012.4 221.2,1008.3 222.2,1004.1 223.2,999.9 224.2,995.6 225.2,991.2 226.2,986.8 227.2,982.3 228.2,977.8 229.2,973.2 230.2,968.6 231.2,963.8 232.2,959 233.2,954.2 234.2,949.3 235.2,944.5 236.2,939.9 237.2,935.4 238.2,931 239.2,926.7 240.2,922.5 241.2,918.4 242.2,914.5 243.2,910.7 244.2,907 245.2,903.4 246.2,899.9 247.2,896.5 248.2,893.2 249.2,890 250.2,886.9 251.2,883.9 252.2,881 253.2,878.2 254.2,875.6 255.2,873 256.2,870.5 257.2,868.1 258.2,865.7 259.2,863.2 260.2,860.8 261.2,858.4 262.2,856 263.2,853.6 264.2,851.2 265.2,848.8 266.2,846.4 267.2,843.9 268.2,841.4 269.2,838.7 270.2,835.8 271.2,832.9 272.2,829.7 273.2,826.5 274.2,823.1 275.2,819.6 276.2,816 277.2,812.2 278.2,808.3 279.2,804.3 280.2,800.2 281.2,796.1 282.2,791.9 283.2,787.8 284.2,783.7 285.2,779.6 286.2,775.5 287.2,771.5 288.2,767.6 289.2,763.9 290.2,760.3 291.2,756.8 292.2,753.5 293.2,750.2 294.2,747.2 295.2,744.2 296.2,741.4 297.2,738.7 298.2,736.2 299.2,733.8 300.2,731.5 301.2,729.3 302.2,727.2 303.2,725.2 304.2,723.3 305.2,721.5 306.2,719.8 307.2,718.2 308.2,716.7 309.2,715.4 310.2,714.1 311.2,713 312.2,711.9 313.2,711 314.2,710.2 315.2,709.6 316.2,709.1 317.2,708.8 318.2,708.5 319.2,708.3 320.2,708 321.2,707.8 322.2,707.7 323.2,707.5 324.2,707.5 325.2,707.4 326.2,707.4 327.2,707.5 328.2,707.6 329.2,707.8 330.2,708 331.2,708.2 332.2,708.5 333.2,708.8 334.2,709.2 335.2,709.6 336.2,710 337.2,710.6 338.2,711.3 339.2,712.2 340.2,713.1 341.2,714.1 342.2,715.3 343.2,716.5 344.2,717.9 345.2,719.5 346.2,721.2 347.2,723.1 348.2,725.1 349.2,727.2 350.2,729.5 351.2,732 352.2,734.7 353.2,737.5 354.2,740.4 355.2,743.5 356.2,746.6 357.2,750 358.2,753.4 359.2,757 360.2,760.6 361.2,764.2 362.2,767.9 363.2,771.6 364.2,775.3 365.2,779 366.2,782.8 367.2,786.4 368.2,790.1 369.2,793.6 370.2,797.1 371.2,800.5 372.2,803.8 373.2,807.1 374.2,810.2 375.2,813.2 376.2,816.1 377.2,818.9 378.2,821.6 379.2,824.2 380.2,826.7 381.2,829.1 382.2,831.5 383.2,833.7 384.2,835.9 385.2,838.1 386.2,840.2 387.2,842.4 388.2,844.5 389.2,846.7 390.2,848.9 391.2,851.1 392.2,853.4 393.2,855.8 394.2,858.4 395.2,861.1 396.2,863.9 397.2,867 398.2,870.1 399.2,873.4 400.2,876.8 401.2,880.3 402.2,883.8 403.2,887.5 404.2,891.3 405.2,895.1 406.2,899.1 407.2,903.2 408.2,907.4 409.2,911.8 410.2,916.3 411.2,920.8 412.2,925.5 413.2,930.2 414.2,934.9 415.2,939.6 416.2,944.3 417.2,949 418.2,953.7 419.2,958.4 420.2,963 421.2,967.6 422.2,972.1 423.2,976.4 424.2,980.6 425.2,984.5 426.2,988.2 427.2,991.6 428.2,994.8 429.2,997.7 430.2,1000.5 431.2,1003 432.2,1005.4 433.2,1007.7 434.2,1009.7 435.2,1011.6 436.2,1013.3 437.2,1014.8 438.2,1016.2 439.2,1017.4 440.2,1018.5 441.2,1019.6 442.2,1020.7 443.2,1021.8 444.2,1023.1 445.2,1024.4 446.2,1025.7 447.2,1027.2 448.2,1028.8 449.2,1030.5 450.2,1032.5 451.2,1034.8 452.2,1037.4 453.2,1040.2 454.2,1043.2 455.2,1046.4 456.2,1049.7 457.2,1053.1 458.2,1056.6 459.2,1060.1 460.2,1063.5 461.2,1066.9 462.2,1070.1 463.2,1073.2 464.2,1076.2 465.2,1079.2 466.2,1082 467.2,1084.8 468.2,1087.5 469.2,1090.1 470.2,1092.7 471.2,1095.2 472.2,1097.6 473.2,1099.9 474.2,1102.3 475.2,1104.6 476.2,1106.8 477.2,1109 478.2,1111.1 479.2,1113.1 480.2,1115 481.2,1116.9 482.2,1118.6 483.2,1120.3 484.2,1121.8 485.2,1123.3 486.2,1124.7 487.2,1126.1 488.2,1127.4 489.2,1128.6 490.2,1129.7 491.2,1130.7 492.2,1131.6 493.2,1132.3 494.2,1132.9 495.2,1133.4 496.2,1133.9 497.2,1134.1 498.2,1134.3 499.2,1134.3 500.2,1134.3 501.2,1134.2 502.2,1134.2 503.2,1134.1 504.2,1134 505.2,1134 506.2,1134 507.2,1134.1 508.2,1134.2 509.2,1134.5 510.2,1134.9 511.2,1135.5 512.2,1136.1 513.2,1136.8 514.2,1137.7 515.2,1138.7 516.2,1139.9 517.2,1141.3 518.2,1142.8 519.2,1144.3 520.2,1146 521.2,1147.8 522.2,1149.7 523.2,1151.8 524.2,1153.8 525.2,1155.9 526.2,1158 527.2,1160.1 528.2,1162.2 529.2,1164.2 530.2,1166.3 531.2,1168.3 532.2,1170.3 533.2,1172.2 534.2,1174.1 535.2,1175.9 536.2,1177.7 537.2,1179.4 538.2,1181 539.2,1182.6 540.2,1184.1 541.2,1185.5 542.2,1186.9 543.2,1188.2 544.2,1189.4 545.2,1190.5 546.2,1191.6 547.2,1192.6 548.2,1193.6 549.2,1194.4 550.2,1195.3 551.2,1196 552.2,1196.7 553.2,1197.3 554.2,1197.8 555.2,1198.3 556.2,1198.7 557.2,1199.1 558.2,1199.3 559.2,1199.6 560.2,1199.7 561.2,1199.8 562.2,1199.9 563.2,1200 564.2,1200.1 565.2,1200.1 566.2,1200.2 567.2,1200.3 568.2,1200.3 569.2,1200.3 570.2,1200.4 571.2,1200.4 572.2,1200.4 572.5,1200.4" fill="#F5DEB3" stroke="#000" stroke-width="1.1" stroke-linejoin="round"/>
<path d="M232 1220.24L232 687.81" fill="none" stroke="#CD2626" stroke-width="1.5" stroke-dasharray="6 6" stroke-linecap="round"/>
<rect x="59.76" y="687.81" width="532.43" height="532.43" fill="none" stroke="#000" stroke-width=".75"/>
<path d="M138 1220.24H538M138 1220.24v5.98M238 1220.24v5.98M338 1220.24v5.98M438 1220.24v5.98M538 1220.24v5.98" fill="none" stroke="#000" stroke-width=".75" stroke-linecap="round"/>
<text x="138" y="1242.04" font-size="10.15" text-anchor="middle">80</text>
<text x="238" y="1242.04" font-size="10.15" text-anchor="middle">85</text>
<text x="338" y="1242.04" font-size="10.15" text-anchor="middle">90</text>
<text x="438" y="1242.04" font-size="10.15" text-anchor="middle">95</text>
<text x="538" y="1242.04" font-size="10.15" text-anchor="middle">100</text>
<path d="M59.76 1200.52V724.52M59.76 1200.52h-5.98M59.76 1105.32h-5.98M59.76 1010.12h-5.98M59.76 914.92h-5.98M59.76 819.72h-5.98M59.76 724.52h-5.98" fill="none" stroke="#000" stroke-width=".75" stroke-linecap="round"/>
<text x="45.06" y="1200.52" font-size="10.15" text-anchor="middle" transform="rotate(-90 45.06 1200.52)">0.00</text>
<text x="45.06" y="1105.32" font-size="10.15" text-anchor="middle" transform="rotate(-90 45.06 1105.32)">0.02</text>
<text x="45.06" y="1010.12" font-size="10.15" text-anchor="middle" transform="rotate(-90 45.06 1010.12)">0.04</text>
<text x="45.06" y="914.92" font-size="10.15" text-anchor="middle" transform="rotate(-90 45.06 914.92)">0.06</text>
<text x="45.06" y="819.72" font-size="10.15" text-anchor="middle" transform="rotate(-90 45.06 819.72)">0.08</text>
<text x="45.06" y="724.52" font-size="10.15" text-anchor="middle" transform="rotate(-90 45.06 724.52)">0.10</text>
<text x="326.43" y="671.3" font-size="21.33" text-anchor="middle" font-weight="bold" letter-spacing=".07">Motif score threshold: 84.700</text>
<text x="326.38" y="1266.14" font-size="16" text-anchor="middle">Motif score</text>
<text x="22.1" y="954.23" font-size="16" text-anchor="middle" transform="rotate(-90 22.1 954.23)">Density</text>
</g>
<g id="p4">
<polygon points="719.2,1200.4 720.2,1200.4 721.2,1200.3 722.2,1200.2 723.2,1200.1 724.2,1200 725.2,1199.8 726.2,1199.6 727.2,1199.4 728.2,1199.1 729.2,1198.8 730.2,1198.5 731.2,1198 732.2,1197.5 733.2,1196.9 734.2,1196.2 735.2,1195.4 736.2,1194.6 737.2,1193.6 738.2,1192.5 739.2,1191.2 740.2,1189.8 741.2,1188.2 742.2,1186.5 743.2,1184.7 744.2,1182.7 745.2,1180.4 746.2,1177.9 747.2,1175.3 748.2,1172.4 749.2,1169.5 750.2,1166.4 751.2,1163.2 752.2,1159.9 753.2,1156.5 754.2,1153.1 755.2,1149.8 756.2,1146.5 757.2,1143.4 758.2,1140.4 759.2,1137.5 760.2,1134.7 761.2,1132.1 762.2,1129.6 763.2,1127.2 764.2,1125 765.2,1122.9 766.2,1120.9 767.2,1119 768.2,1117.3 769.2,1115.8 770.2,1114.5 771.2,1113.4 772.2,1112.3 773.2,1111.4 774.2,1110.7 775.2,1110 776.2,1109.6 777.2,1109.2 778.2,1108.9 779.2,1108.7 780.2,1108.5 781.2,1108.4 782.2,1108.3 783.2,1108.3 784.2,1108.4 785.2,1108.5 786.2,1108.7 787.2,1109 788.2,1109.3 789.2,1109.6 790.2,1109.9 791.2,1110.3 792.2,1110.6 793.2,1111 794.2,1111.4 795.2,1111.9 796.2,1112.3 797.2,1112.8 798.2,1113.1 799.2,1113.4 800.2,1113.7 801.2,1113.8 802.2,1114 803.2,1114 804.2,1114.1 805.2,1114.2 806.2,1114.2 807.2,1114.2 808.2,1114.1 809.2,1114 810.2,1113.8 811.2,1113.5 812.2,1113.2 813.2,1112.9 814.2,1112.7 815.2,1112.4 816.2,1112.1 817.2,1111.9 818.2,1111.6 819.2,1111.3 820.2,1111.1 821.2,1110.8 822.2,1110.6 823.2,1110.4 824.2,1110.2 825.2,1110 826.2,1109.9 827.2,1109.8 828.2,1109.7 829.2,1109.6 830.2,1109.6 831.2,1109.5 832.2,1109.5 833.2,1109.4 834.2,1109.4 835.2,1109.4 836.2,1109.4 837.2,1109.4 838.2,1109.5 839.2,1109.5 840.2,1109.6 841.2,1109.6 842.2,1109.7 843.2,1109.7 844.2,1109.8 845.2,1109.8 846.2,1109.8 847.2,1109.8 848.2,1109.7 849.2,1109.6 850.2,1109.4 851.2,1109.2 852.2,1109 853.2,1108.7 854.2,1108.5 855.2,1108.3 856.2,1108 857.2,1107.9 858.2,1107.7 859.2,1107.5 860.2,1107.3 861.2,1107.2 862.2,1107 863.2,1106.9 864.2,1106.7 865.2,1106.6 866.2,1106.5 867.2,1106.4 868.2,1106.3 869.2,1106.3 870.2,1106.2 871.2,1106.2 872.2,1106.2 873.2,1106.1 874.2,1106.1 875.2,1106.1 876.2,1106.1 877.2,1106 878.2,1106 879.2,1105.9 880.2,1105.8 881.2,1105.6 882.2,1105.3 883.2,1105 884.2,1104.6 885.2,1104.2 886.2,1103.7 887.2,1103.3 888.2,1102.7 889.2,1102.1 890.2,1101.4 891.2,1100.7 892.2,1099.8 893.2,1098.9 894.2,1098 895.2,1097 896.2,1095.9 897.2,1094.8 898.2,1093.6 899.2,1092.4 900.2,1091.1 901.2,1089.7 902.2,1088.2 903.2,1086.7 904.2,1085.2 905.2,1083.7 906.2,1082.1 907.2,1080.5 908.2,1078.9 909.2,1077.3 910.2,1075.6 911.2,1073.9 912.2,1072 913.2,1070.1 914.2,1068.1 915.2,1066 916.2,1063.7 917.2,1061.3 918.2,1058.8 919.2,1056.1 920.2,1053.3 921.2,1050.4 922.2,1047.3 923.2,1044 924.2,1040.6 925.2,1037.1 926.2,1033.4 927.2,1029.5 928.2,1025.5 929.2,1021.3 930.2,1016.8 931.2,1011.8 932.2,1006.2 933.2,999.8 934.2,992.6 935.2,984.6 936.2,976.2 937.2,967.4 938.2,958.4 939.2,949.2 940.2,939.7 941.2,930 942.2,919.9 943.2,909.6 944.2,899.1 945.2,888.5 946.2,877.9 947.2,867.3 948.2,856.6 949.2,845.5 950.2,834 951.2,822 952.2,809.5 953.2,796.6 954.2,783.7 955.2,771.1 956.2,759.1 957.2,747.9 958.2,737.8 959.2,729.1 960.2,722 961.2,716.4 962.2,712.2 963.2,709.4 964.2,707.9 965.2,707.4 966.2,707.9 967.2,709.5 968.2,712.2 969.2,716.3 970.2,721.6 971.2,728.4 972.2,736.6 973.2,746.1 974.2,756.7 975.2,768.4 976.2,780.9 977.2,793.7 978.2,806.5 979.2,819.1 980.2,831.4 981.2,843.3 982.2,855 983.2,866.4 984.2,877.5 985.2,888.4 986.2,899.2 987.2,909.8 988.2,920.4 989.2,930.8 990.2,941 991.2,950.8 992.2,960 993.2,968.6 994.2,976.5 995.2,983.9 996.2,990.9 997.2,997.5 998.2,1003.7 999.2,1009.5 1000.2,1015 1001.2,1020.2 1002.2,1025.2 1003.2,1029.9 1004.2,1034.4 1005.2,1038.8 1006.2,1042.9 1007.2,1046.9 1008.2,1050.6 1009.2,1054.2 1010.2,1057.6 1011.2,1060.8 1012.2,1063.9 1013.2,1066.8 1014.2,1069.6 1015.2,1072.2 1016.2,1074.6 1017.2,1077 1018.2,1079.2 1019.2,1081.3 1020.2,1083.2 1021.2,1085 1022.2,1086.8 1023.2,1088.4 1024.2,1089.9 1025.2,1091.3 1026.2,1092.5 1027.2,1093.6 1028.2,1094.5 1029.2,1095.4 1030.2,1096.2 1031.2,1096.9 1032.2,1097.5 1033.2,1098 1034.2,1098.4 1035.2,1098.7 1036.2,1099.1 1037.2,1099.3 1038.2,1099.6 1039.2,1099.8 1040.2,1100.1 1041.2,1100.3 1042.2,1100.5 1043.2,1100.6 1044.2,1100.8 1045.2,1100.9 1046.2,1101.1 1047.2,1101.2 1048.2,1101.4 1049.2,1101.6 1050.2,1101.9 1051.2,1102.2 1052.2,1102.5 1053.2,1103 1054.2,1103.4 1055.2,1103.9 1056.2,1104.3 1057.2,1104.8 1058.2,1105.3 1059.2,1105.8 1060.2,1106.3 1061.2,1106.9 1062.2,1107.4 1063.2,1107.9 1064.2,1108.5 1065.2,1109 1066.2,1109.5 1067.2,1110 1068.2,1110.5 1069.2,1111 1070.2,1111.5 1071.2,1112 1072.2,1112.5 1073.2,1112.9 1074.2,1113.2 1075.2,1113.6 1076.2,1113.8 1077.2,1114.1 1078.2,1114.3 1079.2,1114.5 1080.2,1114.7 1081.2,1114.8 1082.2,1114.9 1083.2,1115 1084.2,1115.1 1085.2,1115.1 1086.2,1115.1 1087.2,1115 1088.2,1114.9 1089.2,1114.8 1090.2,1114.7 1091.2,1114.6 1092.2,1114.5 1093.2,1114.4 1094.2,1114.3 1095.2,1114.2 1096.2,1114.1 1097.2,1114.1 1098.2,1114 1099.2,1113.9 1100.2,1113.8 1101.2,1113.7 1102.2,1113.7 1103.2,1113.6 1104.2,1113.6 1105.2,1113.5 1106.2,1113.5 1107.2,1113.5 1108.2,1113.5 1109.2,1113.6 1110.2,1113.7 1111.2,1113.8 1112.2,1113.9 1113.2,1114 1114.2,1114.1 1115.2,1114.2 1116.2,1114.3 1117.2,1114.4 1118.2,1114.5 1119.2,1114.5 1120.2,1114.6 1121.2,1114.7 1122.2,1114.8 1123.2,1114.9 1124.2,1114.9 1125.2,1115 1126.2,1115.1 1127.2,1115.1 1128.2,1115.1 1129.2,1115.1 1130.2,1115 1131.2,1115 1132.2,1114.9 1133.2,1114.8 1134.2,1114.7 1135.2,1114.6 1136.2,1114.5 1137.2,1114.5 1138.2,1114.4 1139.2,1114.4 1140.2,1114.4 1141.2,1114.5 1142.2,1114.5 1143.2,1114.6 1144.2,1114.7 1145.2,1114.8 1146.2,1115 1147.2,1115.1 1148.2,1115.3 1149.2,1115.6 1150.2,1116 1151.2,1116.4 1152.2,1116.9 1153.2,1117.5 1154.2,1118.1 1155.2,1118.8 1156.2,1119.6 1157.2,1120.5 1158.2,1121.5 1159.2,1122.7 1160.2,1123.9 1161.2,1125.3 1162.2,1126.8 1163.2,1128.4 1164.2,1130.2 1165.2,1132.1 1166.2,1134.1 1167.2,1136.3 1168.2,1138.5 1169.2,1140.9 1170.2,1143.3 1171.2,1145.9 1172.2,1148.6 1173.2,1151.3 1174.2,1154 1175.2,1156.8 1176.2,1159.6 1177.2,1162.4 1178.2,1165.2 1179.2,1168 1180.2,1170.6 1181.2,1173.2 1182.2,1175.5 1183.2,1177.8 1184.2,1179.9 1185.2,1181.9 1186.2,1183.8 1187.2,1185.5 1188.2,1187.2 1189.2,1188.7 1190.2,1190.2 1191.2,1191.5 1192.2,1192.8 1193.2,1193.9 1194.2,1194.9 1195.2,1195.8 1196.2,1196.6 1197.2,1197.3 1198.2,1197.9 1199.2,1198.4 1200.2,1198.8 1201.2,1199.2 1202.2,1199.4 1203.2,1199.6 1204.2,1199.7 1205.2,1199.9 1206.2,1200 1207.2,1200.1 1208.2,1200.2 1209.2,1200.3 1210.2,1200.3 1211.2,1200.4 1212.2,1200.4 1212.7,1200.4" fill="#F5DEB3" stroke="#000" stroke-width="1.1" stroke-linejoin="round"/>
<path d="M924.09 1220.24L924.09 687.81" fill="none" stroke="#006400" stroke-width="1.5" stroke-dasharray="6 6" stroke-linecap="round"/>
<path d="M1006.51 1220.24L1006.51 687.81" fill="none" stroke="#006400" stroke-width="1.5" stroke-dasharray="6 6" stroke-linecap="round"/>
<rect x="699.76" y="687.81" width="532.43" height="532.43" fill="none" stroke="#000" stroke-width=".75"/>
<path d="M709.05 1220.24H1221.55M709.05 1220.24v5.98M794.47 1220.24v5.98M879.88 1220.24v5.98M965.3 1220.24v5.98M1050.72 1220.24v5.98M1136.13 1220.24v5.98M1221.55 1220.24v5.98" fill="none" stroke="#000" stroke-width=".75" stroke-linecap="round"/>
<text x="709.05" y="1242.04" font-size="10.15" text-anchor="middle">-600</text>
<text x="794.47" y="1242.04" font-size="10.15" text-anchor="middle">-400</text>
<text x="879.88" y="1242.04" font-size="10.15" text-anchor="middle">-200</text>
<text x="965.3" y="1242.04" font-size="10.15" text-anchor="middle">0</text>
<text x="1050.72" y="1242.04" font-size="10.15" text-anchor="middle">200</text>
<text x="1136.13" y="1242.04" font-size="10.15" text-anchor="middle">400</text>
<text x="1221.55" y="1242.04" font-size="10.15" text-anchor="middle">600</text>
<path d="M699.76 1200.52V790.49M699.76 1200.52h-5.98M699.76 1063.84h-5.98M699.76 927.17h-5.98M699.76 790.49h-5.98" fill="none" stroke="#000" stroke-width=".75" stroke-linecap="round"/>
<text x="685.06" y="1200.52" font-size="10.15" text-anchor="middle" transform="rotate(-90 685.06 1200.52)">0.000</text>
<text x="685.06" y="1063.84" font-size="10.15" text-anchor="middle" transform="rotate(-90 685.06 1063.84)">0.001</text>
<text x="685.06" y="927.17" font-size="10.15" text-anchor="middle" transform="rotate(-90 685.06 927.17)">0.002</text>
<text x="685.06" y="790.49" font-size="10.15" text-anchor="middle" transform="rotate(-90 685.06 790.49)">0.003</text>
<text x="965.88" y="671.3" font-size="21.33" text-anchor="middle" font-weight="bold" letter-spacing=".07">Enrichment zone: 96.50</text>
<text x="966.38" y="1266.14" font-size="16" text-anchor="middle">Distance to peak summit</text>
<text x="662.1" y="954.23" font-size="16" text-anchor="middle" transform="rotate(-90 662.1 954.23)">Density</text>
<path d="M1017.3 703.3L1040.9 703.3" fill="none" stroke="#006400" stroke-width="1.125" stroke-dasharray="1.12 3.38" stroke-linecap="round"/>
<path d="M1017.3 718.85L1040.9 718.85" fill="none" stroke="#CD2626" stroke-width="1.125" stroke-dasharray="1.12 3.38" stroke-linecap="round"/>
<circle cx="1029.1" cy="734.4" r="2.9" fill="#0000FF"/>
<text x="1052.1" y="707.7" font-size="12.8" text-anchor="start" letter-spacing=".08">enrichment zone = 96.5</text>
<text x="1052.1" y="723.25" font-size="12.8" text-anchor="start" letter-spacing=".08">motif score threshold = 84.700</text>
<text x="1052.1" y="738.8" font-size="12.8" text-anchor="start" letter-spacing=".08">centrality p-val = -9.9270</text>
</g>
</svg></body></html>
